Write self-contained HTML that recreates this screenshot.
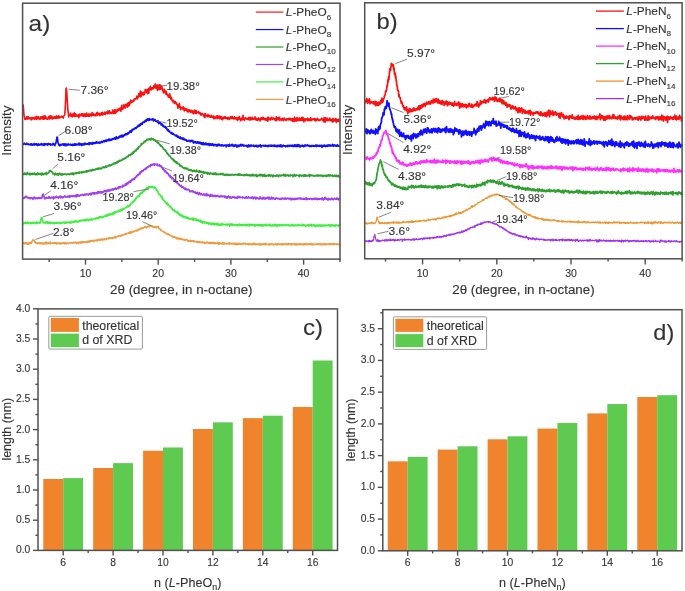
<!DOCTYPE html><html><head><meta charset="utf-8"><style>html,body{margin:0;padding:0;background:#fff;width:685px;height:591px;overflow:hidden}svg{display:block;filter:blur(0.45px)}text{font-family:"Liberation Sans", sans-serif;stroke:#333;stroke-width:0.12px}</style></head><body>
<svg width="685" height="591" viewBox="0 0 685 591">
<rect width="685" height="591" fill="#fff"/>
<polyline fill="none" stroke="#ff1010" stroke-width="1.60" stroke-linejoin="round" points="23.10,104.38 23.40,107.94 23.70,111.67 24.00,115.16 24.30,116.54 24.60,117.92 24.90,119.32 25.20,118.74 25.50,119.29 25.80,118.58 26.10,118.71 26.40,118.51 26.70,116.84 27.00,119.11 27.30,118.79 27.60,118.78 27.90,116.81 28.20,116.76 28.50,117.52 28.80,117.90 29.10,118.59 29.40,118.27 29.70,118.78 30.00,117.73 30.30,118.58 30.60,118.65 30.90,117.70 31.20,119.84 31.50,118.79 31.80,119.36 32.10,117.72 32.40,117.61 32.70,117.96 33.00,118.17 33.30,118.83 33.60,118.48 33.90,117.85 34.20,117.39 34.50,117.77 34.80,119.33 35.10,117.50 35.40,118.44 35.70,118.60 36.00,116.87 36.30,118.25 36.60,119.37 36.90,116.38 37.20,117.89 37.50,118.08 37.80,117.43 38.10,118.61 38.40,118.10 38.70,116.82 39.00,118.88 39.30,118.73 39.60,118.97 39.90,119.40 40.20,118.42 40.50,118.19 40.80,116.90 41.10,118.61 41.40,117.50 41.70,117.63 42.00,116.89 42.30,117.15 42.60,117.53 42.90,119.15 43.20,116.15 43.50,116.66 43.80,118.17 44.10,119.24 44.40,118.45 44.70,116.21 45.00,115.64 45.30,118.22 45.60,117.22 45.90,116.86 46.20,118.73 46.50,118.83 46.80,117.97 47.10,118.03 47.40,118.19 47.70,119.21 48.00,118.32 48.30,118.22 48.60,118.23 48.90,116.30 49.20,118.85 49.50,118.54 49.80,118.14 50.10,115.87 50.40,117.06 50.70,118.37 51.00,115.96 51.30,117.41 51.60,118.47 51.90,116.35 52.20,118.96 52.50,117.99 52.80,117.34 53.10,117.74 53.40,118.01 53.70,117.51 54.00,118.41 54.30,116.76 54.60,116.96 54.90,118.25 55.20,117.31 55.50,116.46 55.80,118.08 56.10,118.52 56.40,116.77 56.70,115.90 57.00,116.99 57.30,116.94 57.60,116.78 57.90,118.28 58.20,116.05 58.50,118.08 58.80,115.77 59.10,116.16 59.40,117.41 59.70,117.82 60.00,117.54 60.30,117.04 60.60,116.82 60.90,116.79 61.20,117.13 61.50,116.41 61.80,116.78 62.10,117.01 62.40,116.46 62.70,117.11 63.00,116.89 63.30,118.15 63.60,116.58 63.90,115.80 64.20,115.57 64.50,115.15 64.80,114.20 65.10,109.52 65.40,104.57 65.70,99.02 66.00,89.13 66.30,87.96 66.60,90.49 66.90,94.33 67.20,99.24 67.50,103.81 67.80,109.17 68.10,112.00 68.40,113.25 68.70,116.99 69.00,115.64 69.30,115.03 69.60,115.50 69.90,115.39 70.20,115.52 70.50,113.11 70.80,115.10 71.10,116.42 71.40,114.44 71.70,115.42 72.00,116.31 72.30,116.21 72.60,116.76 72.90,113.87 73.20,115.07 73.50,115.06 73.80,115.91 74.10,116.32 74.40,112.91 74.70,116.29 75.00,113.99 75.30,115.89 75.60,113.92 75.90,115.41 76.20,116.32 76.50,115.10 76.80,115.39 77.10,115.92 77.40,115.32 77.70,115.11 78.00,116.56 78.30,116.11 78.60,114.89 78.90,117.62 79.20,114.10 79.50,115.95 79.80,114.88 80.10,115.23 80.40,115.73 80.70,115.29 81.00,115.66 81.30,113.70 81.60,113.71 81.90,115.61 82.20,114.18 82.50,114.11 82.80,113.71 83.10,116.16 83.40,115.68 83.70,116.33 84.00,114.15 84.30,114.98 84.60,113.95 84.90,115.65 85.20,116.39 85.50,114.14 85.80,116.34 86.10,115.81 86.40,114.75 86.70,113.12 87.00,116.16 87.30,114.79 87.60,114.32 87.90,115.21 88.20,115.21 88.50,116.17 88.80,113.89 89.10,115.82 89.40,116.12 89.70,116.07 90.00,114.59 90.30,114.06 90.60,115.63 90.90,114.80 91.20,114.79 91.50,115.94 91.80,114.40 92.10,112.55 92.40,114.25 92.70,112.91 93.00,115.29 93.30,114.82 93.60,113.96 93.90,114.48 94.20,115.21 94.50,114.51 94.80,115.61 95.10,114.34 95.40,115.31 95.70,115.70 96.00,115.78 96.30,113.70 96.60,115.08 96.90,112.57 97.20,113.27 97.50,112.45 97.80,115.18 98.10,113.08 98.40,114.16 98.70,113.98 99.00,114.10 99.30,113.57 99.60,114.30 99.90,115.69 100.20,114.09 100.50,114.51 100.80,114.91 101.10,113.80 101.40,112.81 101.70,113.43 102.00,114.88 102.30,112.38 102.60,113.31 102.90,114.74 103.20,114.52 103.50,113.78 103.80,114.47 104.10,113.86 104.40,112.60 104.70,112.21 105.00,113.02 105.30,114.41 105.60,113.01 105.90,112.66 106.20,112.74 106.50,112.00 106.80,113.25 107.10,112.23 107.40,113.60 107.70,111.04 108.00,113.47 108.30,112.52 108.60,111.26 108.90,113.67 109.20,112.68 109.50,110.80 109.80,112.00 110.10,113.01 110.40,112.25 110.70,113.33 111.00,113.23 111.30,113.08 111.60,112.68 111.90,113.55 112.20,112.83 112.50,112.54 112.80,110.05 113.10,112.78 113.40,113.07 113.70,111.45 114.00,111.17 114.30,113.37 114.60,109.72 114.90,111.74 115.20,113.51 115.50,110.16 115.80,111.60 116.10,112.64 116.40,110.57 116.70,111.10 117.00,111.31 117.30,109.40 117.60,110.07 117.90,110.31 118.20,110.70 118.50,109.71 118.80,109.40 119.10,108.43 119.40,108.94 119.70,110.06 120.00,109.11 120.30,107.99 120.60,107.85 120.90,111.28 121.20,109.57 121.50,108.90 121.80,105.39 122.10,108.57 122.40,108.26 122.70,109.36 123.00,107.87 123.30,107.18 123.60,107.63 123.90,104.82 124.20,107.84 124.50,106.90 124.80,105.61 125.10,107.63 125.40,107.99 125.70,104.27 126.00,104.89 126.30,105.77 126.60,105.46 126.90,104.61 127.20,103.76 127.50,107.09 127.80,105.66 128.10,102.90 128.40,102.52 128.70,105.86 129.00,104.83 129.30,105.62 129.60,104.23 129.90,102.02 130.20,103.17 130.50,100.04 130.80,101.53 131.10,102.16 131.40,102.66 131.70,100.90 132.00,101.43 132.30,101.94 132.60,101.61 132.90,101.72 133.20,100.95 133.50,100.04 133.80,101.24 134.10,100.05 134.40,98.68 134.70,98.70 135.00,99.28 135.30,98.90 135.60,99.01 135.90,98.56 136.20,98.56 136.50,97.90 136.80,96.11 137.10,98.18 137.40,98.81 137.70,97.72 138.00,96.60 138.30,97.26 138.60,95.01 138.90,93.44 139.20,95.99 139.50,94.32 139.80,96.51 140.10,93.61 140.40,91.10 140.70,93.20 141.00,96.84 141.30,93.70 141.60,91.98 141.90,92.64 142.20,94.34 142.50,94.07 142.80,93.34 143.10,95.11 143.40,93.68 143.70,92.31 144.00,93.04 144.30,94.46 144.60,93.17 144.90,93.03 145.20,89.47 145.50,90.74 145.80,91.93 146.10,90.08 146.40,92.09 146.70,91.14 147.00,91.47 147.30,89.48 147.60,93.82 147.90,91.53 148.20,88.98 148.50,89.33 148.80,93.31 149.10,88.31 149.40,90.18 149.70,90.23 150.00,88.48 150.30,86.39 150.60,88.54 150.90,88.72 151.20,89.92 151.50,89.24 151.80,87.88 152.10,89.21 152.40,88.61 152.70,87.99 153.00,87.69 153.30,87.15 153.60,88.69 153.90,85.70 154.20,86.39 154.50,87.44 154.80,84.92 155.10,86.65 155.40,83.96 155.70,86.21 156.00,88.33 156.30,88.33 156.60,87.28 156.90,86.99 157.20,85.01 157.50,90.53 157.80,88.35 158.10,89.37 158.40,86.09 158.70,87.33 159.00,84.67 159.30,89.12 159.60,89.47 159.90,84.84 160.20,88.05 160.50,89.31 160.80,85.49 161.10,85.55 161.40,86.98 161.70,87.89 162.00,86.84 162.30,89.43 162.60,90.05 162.90,90.96 163.20,91.36 163.50,92.97 163.80,92.75 164.10,89.12 164.40,90.77 164.70,90.25 165.00,90.60 165.30,92.54 165.60,93.05 165.90,94.18 166.20,91.31 166.50,92.23 166.80,94.46 167.10,94.54 167.40,94.70 167.70,95.40 168.00,94.67 168.30,97.19 168.60,96.99 168.90,96.65 169.20,96.11 169.50,97.18 169.80,93.78 170.10,96.66 170.40,98.47 170.70,96.58 171.00,99.36 171.30,99.61 171.60,97.77 171.90,99.68 172.20,99.91 172.50,101.30 172.80,101.82 173.10,101.23 173.40,100.41 173.70,101.67 174.00,102.06 174.30,103.41 174.60,103.09 174.90,102.01 175.20,101.43 175.50,102.98 175.80,102.74 176.10,102.49 176.40,104.01 176.70,103.75 177.00,104.72 177.30,105.46 177.60,104.49 177.90,108.10 178.20,105.01 178.50,106.96 178.80,105.94 179.10,107.34 179.40,103.29 179.70,105.44 180.00,106.81 180.30,107.40 180.60,109.61 180.90,107.40 181.20,108.68 181.50,108.23 181.80,108.59 182.10,108.23 182.40,107.62 182.70,108.52 183.00,106.87 183.30,109.56 183.60,107.24 183.90,108.79 184.20,110.99 184.50,108.53 184.80,108.93 185.10,110.30 185.40,109.19 185.70,108.42 186.00,109.69 186.30,110.16 186.60,110.41 186.90,108.96 187.20,111.74 187.50,111.75 187.80,110.14 188.10,110.52 188.40,109.90 188.70,111.90 189.00,109.81 189.30,111.31 189.60,110.21 189.90,110.06 190.20,111.56 190.50,112.24 190.80,110.95 191.10,110.34 191.40,111.88 191.70,111.07 192.00,111.48 192.30,112.73 192.60,112.39 192.90,110.82 193.20,113.62 193.50,111.45 193.80,112.27 194.10,110.95 194.40,111.60 194.70,110.03 195.00,113.52 195.30,113.20 195.60,110.81 195.90,110.63 196.20,110.61 196.50,113.37 196.80,111.91 197.10,112.39 197.40,112.26 197.70,112.54 198.00,111.73 198.30,112.89 198.60,111.62 198.90,113.01 199.20,113.48 199.50,113.73 199.80,113.19 200.10,112.68 200.40,113.78 200.70,113.29 201.00,115.30 201.30,114.67 201.60,113.97 201.90,113.75 202.20,113.64 202.50,113.54 202.80,114.18 203.10,114.89 203.40,115.20 203.70,115.35 204.00,116.85 204.30,114.38 204.60,115.14 204.90,117.78 205.20,113.61 205.50,114.93 205.80,115.65 206.10,115.73 206.40,116.04 206.70,115.53 207.00,116.16 207.30,115.95 207.60,116.68 207.90,114.32 208.20,115.31 208.50,116.17 208.80,115.30 209.10,115.35 209.40,116.92 209.70,115.82 210.00,117.04 210.30,117.19 210.60,116.84 210.90,117.07 211.20,116.57 211.50,115.43 211.80,116.72 212.10,117.20 212.40,116.35 212.70,116.78 213.00,117.59 213.30,116.15 213.60,117.56 213.90,118.70 214.20,116.55 214.50,117.22 214.80,116.98 215.10,118.54 215.40,117.46 215.70,118.01 216.00,116.61 216.30,117.25 216.60,117.28 216.90,115.71 217.20,118.64 217.50,118.18 217.80,115.81 218.10,118.09 218.40,117.32 218.70,117.87 219.00,117.82 219.30,116.16 219.60,117.34 219.90,118.90 220.20,117.07 220.50,116.69 220.80,116.41 221.10,116.56 221.40,117.98 221.70,119.22 222.00,118.11 222.30,117.96 222.60,119.77 222.90,117.31 223.20,117.20 223.50,118.30 223.80,118.33 224.10,116.94 224.40,116.82 224.70,118.15 225.00,118.13 225.30,116.75 225.60,117.76 225.90,117.47 226.20,118.39 226.50,117.88 226.80,117.92 227.10,117.70 227.40,118.98 227.70,119.29 228.00,117.72 228.30,118.83 228.60,117.40 228.90,118.15 229.20,118.78 229.50,119.47 229.80,117.78 230.10,118.07 230.40,118.32 230.70,116.80 231.00,118.18 231.30,117.56 231.60,118.51 231.90,117.17 232.20,116.42 232.50,118.24 232.80,118.45 233.10,117.73 233.40,119.03 233.70,117.99 234.00,117.70 234.30,118.68 234.60,116.85 234.90,117.66 235.20,118.26 235.50,119.04 235.80,118.14 236.10,118.57 236.40,117.71 236.70,118.58 237.00,119.81 237.30,117.70 237.60,120.45 237.90,117.75 238.20,118.35 238.50,118.50 238.80,119.27 239.10,117.24 239.40,116.47 239.70,118.91 240.00,119.09 240.30,118.94 240.60,120.75 240.90,118.57 241.20,118.62 241.50,119.24 241.80,118.74 242.10,119.91 242.40,117.31 242.70,118.09 243.00,115.33 243.30,119.17 243.60,118.11 243.90,119.29 244.20,120.40 244.50,118.46 244.80,118.25 245.10,118.03 245.40,117.74 245.70,117.93 246.00,119.08 246.30,118.55 246.60,118.58 246.90,118.37 247.20,119.36 247.50,118.99 247.80,118.42 248.10,119.16 248.40,118.43 248.70,117.53 249.00,119.89 249.30,119.00 249.60,117.73 249.90,119.57 250.20,118.91 250.50,117.20 250.80,120.07 251.10,118.92 251.40,119.43 251.70,118.81 252.00,118.51 252.30,117.25 252.60,119.53 252.90,118.69 253.20,118.41 253.50,118.98 253.80,118.74 254.10,119.29 254.40,118.35 254.70,118.66 255.00,116.77 255.30,118.32 255.60,119.31 255.90,119.91 256.20,118.39 256.50,118.61 256.80,120.15 257.10,118.44 257.40,119.40 257.70,120.25 258.00,118.78 258.30,119.85 258.60,118.11 258.90,118.95 259.20,118.69 259.50,118.87 259.80,119.79 260.10,120.93 260.40,118.18 260.70,118.27 261.00,119.24 261.30,117.84 261.60,119.25 261.90,119.32 262.20,118.56 262.50,119.29 262.80,117.42 263.10,119.50 263.40,117.43 263.70,118.20 264.00,118.33 264.30,118.48 264.60,119.61 264.90,118.92 265.20,118.49 265.50,119.34 265.80,120.28 266.10,118.87 266.40,119.20 266.70,119.99 267.00,119.12 267.30,117.72 267.60,121.12 267.90,120.88 268.20,117.11 268.50,118.86 268.80,119.28 269.10,119.77 269.40,119.51 269.70,118.67 270.00,117.97 270.30,119.02 270.60,119.86 270.90,117.95 271.20,118.01 271.50,118.92 271.80,117.20 272.10,118.72 272.40,118.56 272.70,119.37 273.00,118.33 273.30,118.18 273.60,118.62 273.90,118.94 274.20,118.39 274.50,119.00 274.80,119.67 275.10,120.07 275.40,120.54 275.70,118.31 276.00,118.64 276.30,116.79 276.60,120.74 276.90,118.38 277.20,119.01 277.50,119.51 277.80,117.83 278.10,119.47 278.40,119.04 278.70,117.42 279.00,119.33 279.30,120.15 279.60,117.40 279.90,119.81 280.20,119.28 280.50,119.53 280.80,119.50 281.10,120.28 281.40,118.91 281.70,119.91 282.00,118.76 282.30,119.79 282.60,118.40 282.90,119.04 283.20,120.71 283.50,119.55 283.80,119.02 284.10,118.13 284.40,118.46 284.70,119.35 285.00,120.03 285.30,119.57 285.60,119.66 285.90,119.16 286.20,120.42 286.50,118.86 286.80,118.72 287.10,120.02 287.40,119.28 287.70,118.98 288.00,118.72 288.30,119.01 288.60,119.81 288.90,119.57 289.20,118.17 289.50,119.65 289.80,119.43 290.10,118.37 290.40,119.97 290.70,119.03 291.00,118.99 291.30,120.01 291.60,120.49 291.90,118.69 292.20,119.71 292.50,118.53 292.80,121.41 293.10,118.88 293.40,120.41 293.70,118.76 294.00,120.08 294.30,121.35 294.60,117.07 294.90,118.97 295.20,119.82 295.50,119.29 295.80,118.78 296.10,121.32 296.40,119.46 296.70,117.92 297.00,120.17 297.30,117.86 297.60,120.45 297.90,118.90 298.20,119.55 298.50,120.56 298.80,119.54 299.10,118.19 299.40,117.92 299.70,120.52 300.00,120.12 300.30,118.73 300.60,120.24 300.90,119.92 301.20,120.06 301.50,117.45 301.80,119.22 302.10,120.31 302.40,120.16 302.70,120.30 303.00,117.30 303.30,119.67 303.60,119.97 303.90,121.83 304.20,118.68 304.50,119.24 304.80,119.58 305.10,120.35 305.40,119.16 305.70,120.60 306.00,118.86 306.30,119.81 306.60,119.10 306.90,119.73 307.20,118.97 307.50,118.16 307.80,120.59 308.10,119.88 308.40,119.11 308.70,119.80 309.00,120.52 309.30,118.75 309.60,119.54 309.90,120.13 310.20,120.12 310.50,119.35 310.80,117.76 311.10,120.78 311.40,119.96 311.70,119.69 312.00,119.43 312.30,119.92 312.60,119.31 312.90,118.78 313.20,119.04 313.50,119.17 313.80,119.16 314.10,118.68 314.40,120.30 314.70,118.55 315.00,120.33 315.30,118.83 315.60,120.07 315.90,120.99 316.20,119.94 316.50,119.11 316.80,119.81 317.10,119.91 317.40,118.22 317.70,119.24 318.00,119.94 318.30,119.38 318.60,119.88 318.90,120.47 319.20,120.51 319.50,120.64 319.80,120.36 320.10,119.57 320.40,119.82 320.70,119.60 321.00,119.57 321.30,119.69 321.60,118.31 321.90,119.57 322.20,119.85 322.50,119.00 322.80,119.86 323.10,120.35 323.40,119.75 323.70,121.77 324.00,117.56 324.30,119.73 324.60,118.27 324.90,120.80 325.20,122.32 325.50,117.68 325.80,120.05 326.10,120.41 326.40,119.68 326.70,120.45 327.00,117.94 327.30,120.73 327.60,120.31 327.90,120.00 328.20,119.46 328.50,120.56 328.80,119.56 329.10,120.20 329.40,119.55 329.70,117.99 330.00,119.99 330.30,120.21 330.60,120.71 330.90,119.25 331.20,120.01 331.50,120.60 331.80,120.18 332.10,121.18 332.40,121.85 332.70,119.25 333.00,118.34 333.30,120.85 333.60,121.46 333.90,120.92 334.20,120.83 334.50,119.54 334.80,119.46 335.10,120.91 335.40,119.30 335.70,118.49 336.00,119.23 336.30,122.38 336.60,121.87 336.90,119.53 337.20,119.50 337.50,120.37 337.80,119.49 338.10,121.35 338.40,120.10 338.70,119.20 339.00,121.36 339.30,119.67 339.60,120.40 339.90,120.19"/>
<polyline fill="none" stroke="#1010ff" stroke-width="1.70" stroke-linejoin="round" points="23.10,144.05 23.40,144.37 23.70,143.86 24.00,143.29 24.30,143.11 24.60,143.58 24.90,143.84 25.20,144.21 25.50,144.25 25.80,144.50 26.10,144.28 26.40,143.83 26.70,143.87 27.00,143.17 27.30,144.15 27.60,144.48 27.90,144.50 28.20,144.18 28.50,144.15 28.80,144.71 29.10,144.25 29.40,144.61 29.70,144.54 30.00,144.35 30.30,144.90 30.60,143.97 30.90,144.07 31.20,143.85 31.50,143.86 31.80,145.04 32.10,145.14 32.40,144.27 32.70,144.55 33.00,144.85 33.30,144.67 33.60,144.87 33.90,143.64 34.20,143.95 34.50,144.50 34.80,145.00 35.10,144.33 35.40,143.85 35.70,144.11 36.00,143.95 36.30,143.86 36.60,145.04 36.90,143.98 37.20,144.30 37.50,145.38 37.80,144.89 38.10,144.47 38.40,143.99 38.70,144.51 39.00,145.12 39.30,144.62 39.60,144.94 39.90,144.36 40.20,144.57 40.50,144.21 40.80,144.53 41.10,144.97 41.40,143.61 41.70,144.29 42.00,144.45 42.30,144.04 42.60,144.18 42.90,144.73 43.20,145.34 43.50,144.65 43.80,144.50 44.10,143.57 44.40,145.31 44.70,144.39 45.00,144.33 45.30,143.79 45.60,144.33 45.90,143.81 46.20,144.40 46.50,144.60 46.80,144.38 47.10,144.51 47.40,143.95 47.70,145.09 48.00,144.05 48.30,143.47 48.60,144.29 48.90,144.01 49.20,143.89 49.50,144.22 49.80,144.54 50.10,143.81 50.40,144.34 50.70,145.12 51.00,144.75 51.30,144.34 51.60,144.49 51.90,144.37 52.20,144.41 52.50,144.80 52.80,144.40 53.10,143.25 53.40,144.44 53.70,144.01 54.00,144.79 54.30,144.17 54.60,144.55 54.90,145.57 55.20,143.96 55.50,143.87 55.80,143.43 56.10,141.98 56.40,140.23 56.70,138.89 57.00,137.21 57.30,137.33 57.60,139.31 57.90,142.28 58.20,142.98 58.50,143.95 58.80,144.61 59.10,145.23 59.40,145.55 59.70,145.11 60.00,144.67 60.30,144.70 60.60,145.52 60.90,145.34 61.20,144.47 61.50,144.86 61.80,144.78 62.10,144.67 62.40,144.40 62.70,143.99 63.00,144.39 63.30,143.89 63.60,145.28 63.90,144.94 64.20,144.08 64.50,145.38 64.80,145.13 65.10,143.74 65.40,145.62 65.70,145.10 66.00,145.73 66.30,144.09 66.60,144.97 66.90,144.92 67.20,144.81 67.50,144.79 67.80,145.24 68.10,143.96 68.40,144.09 68.70,144.01 69.00,144.43 69.30,144.40 69.60,144.89 69.90,144.83 70.20,144.71 70.50,144.36 70.80,144.47 71.10,145.16 71.40,145.07 71.70,144.73 72.00,144.51 72.30,145.45 72.60,144.37 72.90,144.98 73.20,145.23 73.50,144.51 73.80,145.05 74.10,144.07 74.40,145.13 74.70,144.72 75.00,143.81 75.30,144.93 75.60,144.14 75.90,145.22 76.20,144.23 76.50,144.48 76.80,144.69 77.10,144.37 77.40,144.65 77.70,144.24 78.00,144.84 78.30,144.49 78.60,144.58 78.90,143.08 79.20,145.03 79.50,144.45 79.80,143.52 80.10,144.45 80.40,144.62 80.70,144.90 81.00,143.81 81.30,145.10 81.60,144.23 81.90,145.49 82.20,144.20 82.50,144.60 82.80,144.05 83.10,143.66 83.40,144.74 83.70,144.63 84.00,144.92 84.30,144.56 84.60,143.83 84.90,143.26 85.20,143.74 85.50,143.71 85.80,143.62 86.10,144.29 86.40,144.14 86.70,143.82 87.00,144.01 87.30,143.83 87.60,143.98 87.90,144.23 88.20,144.30 88.50,143.45 88.80,143.01 89.10,144.45 89.40,143.77 89.70,144.23 90.00,142.83 90.30,143.45 90.60,143.60 90.90,142.83 91.20,143.26 91.50,143.84 91.80,143.99 92.10,144.21 92.40,142.94 92.70,142.63 93.00,143.56 93.30,143.73 93.60,143.31 93.90,142.52 94.20,143.52 94.50,143.48 94.80,143.32 95.10,142.75 95.40,143.10 95.70,143.30 96.00,142.58 96.30,141.89 96.60,142.92 96.90,142.95 97.20,142.67 97.50,143.05 97.80,142.26 98.10,142.46 98.40,142.30 98.70,142.68 99.00,143.14 99.30,142.16 99.60,143.26 99.90,142.94 100.20,142.51 100.50,142.35 100.80,142.88 101.10,141.85 101.40,141.82 101.70,141.29 102.00,141.99 102.30,142.37 102.60,141.90 102.90,141.78 103.20,141.41 103.50,141.53 103.80,140.67 104.10,141.84 104.40,141.04 104.70,140.63 105.00,140.74 105.30,140.63 105.60,141.40 105.90,141.44 106.20,140.16 106.50,141.24 106.80,141.15 107.10,140.34 107.40,139.82 107.70,140.12 108.00,140.11 108.30,140.53 108.60,140.11 108.90,139.20 109.20,140.26 109.50,139.30 109.80,140.45 110.10,139.32 110.40,139.50 110.70,139.35 111.00,139.43 111.30,140.27 111.60,139.97 111.90,139.77 112.20,139.54 112.50,138.53 112.80,138.96 113.10,138.86 113.40,138.57 113.70,139.23 114.00,138.51 114.30,138.44 114.60,138.18 114.90,137.59 115.20,138.82 115.50,139.10 115.80,138.42 116.10,137.75 116.40,136.79 116.70,138.13 117.00,138.55 117.30,137.98 117.60,138.19 117.90,138.36 118.20,138.08 118.50,137.19 118.80,137.83 119.10,137.58 119.40,136.31 119.70,136.76 120.00,136.14 120.30,136.68 120.60,136.90 120.90,135.96 121.20,135.35 121.50,136.90 121.80,136.32 122.10,136.74 122.40,135.22 122.70,136.28 123.00,136.65 123.30,136.49 123.60,135.24 123.90,135.34 124.20,134.99 124.50,135.43 124.80,135.30 125.10,134.68 125.40,133.81 125.70,134.70 126.00,133.94 126.30,134.34 126.60,133.99 126.90,134.51 127.20,134.10 127.50,133.14 127.80,133.36 128.10,133.89 128.40,132.55 128.70,132.85 129.00,133.04 129.30,132.87 129.60,132.31 129.90,131.19 130.20,131.01 130.50,131.56 130.80,131.43 131.10,132.30 131.40,130.39 131.70,131.18 132.00,130.78 132.30,129.35 132.60,129.57 132.90,129.85 133.20,129.31 133.50,129.27 133.80,129.37 134.10,128.53 134.40,128.96 134.70,128.20 135.00,128.04 135.30,128.37 135.60,127.61 135.90,127.83 136.20,128.28 136.50,127.28 136.80,126.98 137.10,127.21 137.40,126.44 137.70,126.95 138.00,125.56 138.30,126.29 138.60,125.51 138.90,125.14 139.20,126.21 139.50,124.67 139.80,125.75 140.10,124.98 140.40,125.13 140.70,123.67 141.00,124.52 141.30,124.40 141.60,123.39 141.90,123.16 142.20,124.24 142.50,122.89 142.80,122.37 143.10,122.06 143.40,122.38 143.70,122.12 144.00,121.84 144.30,122.41 144.60,121.19 144.90,121.41 145.20,121.72 145.50,120.32 145.80,121.18 146.10,121.43 146.40,119.71 146.70,119.71 147.00,119.63 147.30,119.13 147.60,120.19 147.90,118.96 148.20,120.07 148.50,120.49 148.80,118.91 149.10,119.52 149.40,118.69 149.70,120.02 150.00,119.24 150.30,119.47 150.60,119.63 150.90,119.88 151.20,119.44 151.50,119.64 151.80,119.39 152.10,119.76 152.40,119.15 152.70,119.82 153.00,118.88 153.30,119.67 153.60,120.95 153.90,120.11 154.20,119.53 154.50,120.39 154.80,119.88 155.10,119.65 155.40,120.23 155.70,121.10 156.00,121.06 156.30,120.96 156.60,120.70 156.90,120.78 157.20,122.16 157.50,121.78 157.80,121.36 158.10,120.97 158.40,121.52 158.70,123.64 159.00,122.02 159.30,122.76 159.60,123.11 159.90,123.13 160.20,123.28 160.50,122.96 160.80,123.34 161.10,124.95 161.40,123.96 161.70,125.00 162.00,123.98 162.30,124.93 162.60,125.45 162.90,126.09 163.20,125.27 163.50,126.38 163.80,126.53 164.10,126.23 164.40,127.10 164.70,126.67 165.00,126.98 165.30,127.62 165.60,126.53 165.90,128.09 166.20,127.91 166.50,127.95 166.80,128.74 167.10,129.61 167.40,129.30 167.70,130.42 168.00,129.49 168.30,129.69 168.60,131.40 168.90,131.10 169.20,131.65 169.50,131.03 169.80,132.12 170.10,132.10 170.40,132.55 170.70,132.49 171.00,133.32 171.30,132.63 171.60,132.69 171.90,132.65 172.20,134.18 172.50,133.44 172.80,133.49 173.10,133.73 173.40,134.17 173.70,133.94 174.00,134.62 174.30,134.62 174.60,134.84 174.90,134.80 175.20,135.47 175.50,135.38 175.80,135.83 176.10,136.06 176.40,136.26 176.70,135.15 177.00,136.13 177.30,136.15 177.60,137.09 177.90,136.06 178.20,136.63 178.50,136.98 178.80,137.09 179.10,137.89 179.40,137.30 179.70,138.13 180.00,137.03 180.30,136.98 180.60,138.61 180.90,138.34 181.20,138.48 181.50,138.41 181.80,138.70 182.10,137.96 182.40,139.15 182.70,138.52 183.00,139.39 183.30,139.04 183.60,138.12 183.90,138.57 184.20,139.88 184.50,139.35 184.80,139.32 185.10,139.74 185.40,139.50 185.70,139.54 186.00,139.95 186.30,140.07 186.60,140.84 186.90,140.20 187.20,141.20 187.50,141.25 187.80,141.29 188.10,141.05 188.40,140.66 188.70,140.74 189.00,140.68 189.30,140.46 189.60,140.86 189.90,140.65 190.20,141.86 190.50,141.37 190.80,140.94 191.10,140.27 191.40,141.26 191.70,141.14 192.00,140.87 192.30,140.90 192.60,140.40 192.90,141.86 193.20,141.60 193.50,142.97 193.80,141.72 194.10,141.71 194.40,142.56 194.70,141.96 195.00,142.03 195.30,141.81 195.60,141.74 195.90,142.85 196.20,142.65 196.50,143.06 196.80,142.08 197.10,142.32 197.40,141.92 197.70,142.90 198.00,141.77 198.30,142.81 198.60,143.13 198.90,143.34 199.20,142.23 199.50,143.31 199.80,142.47 200.10,142.51 200.40,142.29 200.70,143.60 201.00,143.91 201.30,142.85 201.60,142.84 201.90,143.11 202.20,144.60 202.50,143.92 202.80,143.21 203.10,142.65 203.40,143.28 203.70,144.27 204.00,144.68 204.30,143.67 204.60,143.52 204.90,143.67 205.20,143.04 205.50,144.50 205.80,143.56 206.10,144.68 206.40,143.35 206.70,143.62 207.00,144.44 207.30,143.96 207.60,144.78 207.90,144.43 208.20,143.88 208.50,144.81 208.80,144.96 209.10,143.61 209.40,145.51 209.70,144.88 210.00,145.04 210.30,143.76 210.60,144.35 210.90,144.56 211.20,145.30 211.50,144.05 211.80,144.36 212.10,143.81 212.40,144.73 212.70,145.04 213.00,144.04 213.30,144.61 213.60,145.17 213.90,145.73 214.20,145.28 214.50,144.81 214.80,144.39 215.10,144.53 215.40,144.67 215.70,145.09 216.00,145.01 216.30,145.88 216.60,145.20 216.90,144.53 217.20,145.85 217.50,145.56 217.80,145.15 218.10,144.75 218.40,144.19 218.70,144.62 219.00,145.60 219.30,144.76 219.60,144.51 219.90,145.28 220.20,145.31 220.50,145.51 220.80,145.54 221.10,145.93 221.40,144.82 221.70,145.74 222.00,144.77 222.30,145.62 222.60,145.37 222.90,145.42 223.20,145.79 223.50,145.31 223.80,145.88 224.10,145.77 224.40,145.41 224.70,145.07 225.00,144.99 225.30,145.11 225.60,145.28 225.90,145.38 226.20,146.89 226.50,145.73 226.80,145.80 227.10,144.99 227.40,145.08 227.70,145.28 228.00,145.54 228.30,144.93 228.60,146.27 228.90,145.18 229.20,146.01 229.50,144.31 229.80,145.48 230.10,145.63 230.40,145.59 230.70,145.81 231.00,145.65 231.30,145.60 231.60,144.58 231.90,145.17 232.20,144.36 232.50,145.85 232.80,145.70 233.10,145.45 233.40,145.14 233.70,145.27 234.00,146.49 234.30,146.43 234.60,145.54 234.90,146.22 235.20,144.79 235.50,144.62 235.80,145.35 236.10,145.16 236.40,145.32 236.70,145.70 237.00,147.12 237.30,145.28 237.60,145.64 237.90,145.75 238.20,145.60 238.50,146.09 238.80,146.51 239.10,145.01 239.40,145.71 239.70,145.50 240.00,145.82 240.30,144.88 240.60,144.77 240.90,144.49 241.20,145.92 241.50,145.75 241.80,145.70 242.10,144.48 242.40,145.48 242.70,145.29 243.00,144.96 243.30,145.22 243.60,146.03 243.90,145.95 244.20,145.67 244.50,145.94 244.80,145.39 245.10,145.73 245.40,145.72 245.70,145.98 246.00,145.67 246.30,145.63 246.60,145.64 246.90,145.39 247.20,146.83 247.50,145.97 247.80,145.93 248.10,146.87 248.40,146.43 248.70,144.95 249.00,146.08 249.30,146.15 249.60,146.68 249.90,146.40 250.20,146.13 250.50,145.16 250.80,145.31 251.10,145.88 251.40,146.00 251.70,145.24 252.00,145.56 252.30,145.56 252.60,145.79 252.90,145.93 253.20,145.62 253.50,145.15 253.80,146.39 254.10,146.57 254.40,145.72 254.70,146.29 255.00,146.00 255.30,146.11 255.60,146.02 255.90,145.40 256.20,146.07 256.50,146.29 256.80,145.34 257.10,146.78 257.40,146.84 257.70,146.71 258.00,146.79 258.30,146.17 258.60,145.63 258.90,145.50 259.20,145.40 259.50,145.87 259.80,145.79 260.10,146.15 260.40,144.80 260.70,146.97 261.00,146.95 261.30,145.80 261.60,146.16 261.90,146.06 262.20,145.96 262.50,145.72 262.80,145.76 263.10,145.41 263.40,145.92 263.70,145.82 264.00,145.99 264.30,145.40 264.60,145.85 264.90,145.86 265.20,146.14 265.50,145.30 265.80,146.05 266.10,146.33 266.40,146.14 266.70,145.66 267.00,145.60 267.30,145.72 267.60,146.21 267.90,146.62 268.20,145.77 268.50,145.52 268.80,146.03 269.10,145.95 269.40,145.39 269.70,145.48 270.00,145.80 270.30,146.19 270.60,145.25 270.90,145.34 271.20,146.10 271.50,145.24 271.80,145.91 272.10,146.03 272.40,145.80 272.70,145.35 273.00,145.83 273.30,145.69 273.60,146.03 273.90,145.44 274.20,146.40 274.50,145.02 274.80,145.77 275.10,145.86 275.40,146.34 275.70,145.56 276.00,146.13 276.30,145.58 276.60,146.23 276.90,146.73 277.20,145.66 277.50,146.08 277.80,145.40 278.10,146.35 278.40,146.47 278.70,145.88 279.00,145.30 279.30,146.07 279.60,146.44 279.90,146.41 280.20,146.27 280.50,144.95 280.80,145.53 281.10,146.58 281.40,145.25 281.70,146.43 282.00,146.81 282.30,146.25 282.60,146.43 282.90,145.70 283.20,145.25 283.50,145.81 283.80,145.77 284.10,145.84 284.40,146.21 284.70,145.79 285.00,145.96 285.30,146.08 285.60,145.86 285.90,146.79 286.20,146.09 286.50,145.91 286.80,145.76 287.10,145.55 287.40,146.54 287.70,145.94 288.00,145.32 288.30,145.58 288.60,145.80 288.90,145.64 289.20,146.41 289.50,145.28 289.80,146.11 290.10,145.93 290.40,145.27 290.70,145.89 291.00,145.81 291.30,146.11 291.60,145.64 291.90,146.01 292.20,145.03 292.50,145.32 292.80,146.25 293.10,146.38 293.40,145.85 293.70,145.56 294.00,146.40 294.30,144.81 294.60,145.46 294.90,146.19 295.20,146.18 295.50,145.34 295.80,144.91 296.10,146.58 296.40,145.93 296.70,145.41 297.00,145.88 297.30,146.30 297.60,144.56 297.90,146.41 298.20,146.22 298.50,144.81 298.80,146.24 299.10,144.96 299.40,146.42 299.70,146.05 300.00,146.97 300.30,145.54 300.60,145.85 300.90,146.37 301.20,145.53 301.50,145.49 301.80,145.66 302.10,145.81 302.40,145.30 302.70,146.09 303.00,146.11 303.30,145.88 303.60,146.69 303.90,145.68 304.20,146.49 304.50,145.57 304.80,146.22 305.10,144.87 305.40,145.94 305.70,145.75 306.00,145.59 306.30,145.53 306.60,145.66 306.90,145.47 307.20,144.74 307.50,145.54 307.80,145.56 308.10,145.57 308.40,145.30 308.70,145.76 309.00,146.22 309.30,145.70 309.60,145.58 309.90,146.51 310.20,146.32 310.50,146.29 310.80,146.40 311.10,145.66 311.40,145.76 311.70,146.38 312.00,145.55 312.30,145.76 312.60,146.01 312.90,146.01 313.20,145.68 313.50,146.31 313.80,145.73 314.10,146.18 314.40,146.35 314.70,146.15 315.00,146.19 315.30,145.24 315.60,145.16 315.90,145.51 316.20,146.05 316.50,146.57 316.80,145.20 317.10,145.97 317.40,145.39 317.70,145.45 318.00,145.67 318.30,146.16 318.60,145.92 318.90,146.40 319.20,145.32 319.50,146.26 319.80,146.27 320.10,145.84 320.40,146.05 320.70,145.53 321.00,145.26 321.30,145.60 321.60,145.49 321.90,147.25 322.20,145.56 322.50,146.63 322.80,145.91 323.10,145.96 323.40,146.18 323.70,145.41 324.00,146.26 324.30,145.99 324.60,145.05 324.90,146.10 325.20,146.08 325.50,146.03 325.80,146.59 326.10,145.59 326.40,146.06 326.70,146.17 327.00,145.35 327.30,146.40 327.60,145.07 327.90,145.15 328.20,146.06 328.50,145.25 328.80,145.74 329.10,144.98 329.40,145.83 329.70,145.23 330.00,145.97 330.30,145.03 330.60,146.02 330.90,145.66 331.20,145.83 331.50,145.76 331.80,145.86 332.10,145.14 332.40,144.51 332.70,145.81 333.00,145.33 333.30,145.57 333.60,146.01 333.90,144.80 334.20,145.42 334.50,145.49 334.80,145.27 335.10,145.96 335.40,145.73 335.70,145.39 336.00,145.31 336.30,146.20 336.60,145.47 336.90,146.09 337.20,146.02 337.50,144.85 337.80,145.26 338.10,145.80 338.40,145.97 338.70,146.19 339.00,146.20 339.30,146.32 339.60,145.61 339.90,145.69"/>
<polyline fill="none" stroke="#2ea02e" stroke-width="1.60" stroke-linejoin="round" points="23.10,174.35 23.40,173.81 23.70,174.48 24.00,173.28 24.30,174.29 24.60,173.92 24.90,173.11 25.20,174.44 25.50,174.14 25.80,174.01 26.10,173.52 26.40,173.79 26.70,174.68 27.00,173.63 27.30,172.44 27.60,173.61 27.90,173.46 28.20,173.94 28.50,173.82 28.80,173.59 29.10,173.62 29.40,174.47 29.70,173.35 30.00,174.88 30.30,173.76 30.60,173.51 30.90,174.35 31.20,174.25 31.50,173.53 31.80,174.34 32.10,173.17 32.40,173.58 32.70,174.51 33.00,173.88 33.30,173.41 33.60,174.23 33.90,174.41 34.20,173.99 34.50,173.19 34.80,173.84 35.10,174.19 35.40,174.35 35.70,174.83 36.00,173.89 36.30,173.78 36.60,173.98 36.90,174.54 37.20,173.58 37.50,174.59 37.80,172.76 38.10,174.36 38.40,173.70 38.70,174.21 39.00,174.31 39.30,173.47 39.60,173.96 39.90,174.11 40.20,174.26 40.50,173.58 40.80,173.55 41.10,173.13 41.40,175.14 41.70,173.91 42.00,173.90 42.30,173.33 42.60,174.42 42.90,173.76 43.20,174.65 43.50,174.38 43.80,174.01 44.10,174.33 44.40,173.50 44.70,173.85 45.00,173.74 45.30,173.42 45.60,174.00 45.90,173.91 46.20,174.61 46.50,172.42 46.80,173.57 47.10,173.37 47.40,173.45 47.70,173.67 48.00,173.42 48.30,172.95 48.60,172.38 48.90,172.44 49.20,172.01 49.50,170.68 49.80,171.13 50.10,170.48 50.40,170.54 50.70,171.21 51.00,171.33 51.30,171.57 51.60,171.40 51.90,172.01 52.20,172.00 52.50,172.90 52.80,173.32 53.10,174.06 53.40,174.06 53.70,173.31 54.00,173.61 54.30,173.51 54.60,174.15 54.90,174.97 55.20,174.44 55.50,173.16 55.80,173.61 56.10,173.61 56.40,174.44 56.70,174.22 57.00,174.36 57.30,175.03 57.60,173.87 57.90,173.86 58.20,175.14 58.50,174.41 58.80,173.91 59.10,173.35 59.40,173.58 59.70,173.17 60.00,174.31 60.30,174.30 60.60,174.73 60.90,174.22 61.20,173.97 61.50,173.95 61.80,175.14 62.10,173.49 62.40,174.36 62.70,174.29 63.00,174.55 63.30,174.09 63.60,174.49 63.90,174.63 64.20,174.19 64.50,174.05 64.80,174.16 65.10,173.81 65.40,174.14 65.70,174.09 66.00,174.31 66.30,174.81 66.60,174.78 66.90,173.98 67.20,174.44 67.50,174.29 67.80,174.48 68.10,174.13 68.40,174.23 68.70,173.88 69.00,173.72 69.30,174.44 69.60,174.61 69.90,174.31 70.20,174.18 70.50,174.08 70.80,173.73 71.10,173.10 71.40,174.17 71.70,173.93 72.00,173.56 72.30,173.34 72.60,174.31 72.90,172.88 73.20,174.45 73.50,173.90 73.80,174.64 74.10,173.21 74.40,173.48 74.70,173.21 75.00,173.46 75.30,173.25 75.60,172.96 75.90,173.73 76.20,172.85 76.50,172.92 76.80,173.35 77.10,172.80 77.40,172.80 77.70,173.10 78.00,172.72 78.30,172.27 78.60,172.73 78.90,172.62 79.20,173.44 79.50,172.12 79.80,173.00 80.10,172.15 80.40,172.29 80.70,172.25 81.00,172.46 81.30,172.68 81.60,173.02 81.90,171.90 82.20,172.73 82.50,172.52 82.80,172.39 83.10,171.62 83.40,172.32 83.70,171.81 84.00,171.96 84.30,171.62 84.60,171.99 84.90,172.13 85.20,172.08 85.50,171.42 85.80,171.90 86.10,172.05 86.40,170.92 86.70,171.94 87.00,170.62 87.30,171.40 87.60,171.37 87.90,171.71 88.20,171.10 88.50,170.70 88.80,170.50 89.10,170.23 89.40,171.07 89.70,170.56 90.00,170.28 90.30,170.78 90.60,170.13 90.90,170.22 91.20,170.14 91.50,171.03 91.80,170.88 92.10,170.08 92.40,169.38 92.70,170.15 93.00,169.99 93.30,170.05 93.60,170.08 93.90,169.61 94.20,170.11 94.50,170.00 94.80,169.65 95.10,169.31 95.40,169.21 95.70,169.67 96.00,168.80 96.30,169.16 96.60,168.83 96.90,168.47 97.20,169.31 97.50,168.96 97.80,168.92 98.10,169.23 98.40,168.10 98.70,168.67 99.00,168.77 99.30,168.94 99.60,168.01 99.90,168.75 100.20,168.46 100.50,168.90 100.80,168.73 101.10,168.39 101.40,169.03 101.70,167.99 102.00,167.72 102.30,167.68 102.60,167.33 102.90,167.66 103.20,166.75 103.50,167.47 103.80,167.61 104.10,167.78 104.40,167.09 104.70,167.78 105.00,166.77 105.30,166.90 105.60,166.02 105.90,166.43 106.20,166.31 106.50,167.23 106.80,166.70 107.10,165.88 107.40,166.49 107.70,166.37 108.00,165.94 108.30,165.95 108.60,165.70 108.90,165.48 109.20,164.83 109.50,165.45 109.80,165.94 110.10,165.89 110.40,165.03 110.70,164.70 111.00,164.82 111.30,165.19 111.60,164.83 111.90,164.29 112.20,164.58 112.50,164.21 112.80,164.40 113.10,163.87 113.40,163.27 113.70,163.82 114.00,163.99 114.30,163.04 114.60,163.35 114.90,163.65 115.20,162.96 115.50,162.70 115.80,163.74 116.10,163.08 116.40,163.02 116.70,162.02 117.00,163.01 117.30,161.42 117.60,161.78 117.90,162.18 118.20,162.29 118.50,161.15 118.80,161.11 119.10,161.33 119.40,160.24 119.70,161.20 120.00,161.01 120.30,160.40 120.60,160.67 120.90,160.60 121.20,160.23 121.50,160.15 121.80,160.42 122.10,159.38 122.40,159.48 122.70,159.01 123.00,159.52 123.30,158.71 123.60,158.92 123.90,158.60 124.20,158.39 124.50,158.94 124.80,157.98 125.10,158.46 125.40,158.02 125.70,158.07 126.00,157.24 126.30,157.55 126.60,157.30 126.90,156.53 127.20,156.75 127.50,156.41 127.80,156.29 128.10,156.71 128.40,155.66 128.70,155.07 129.00,154.88 129.30,155.26 129.60,154.99 129.90,155.07 130.20,155.11 130.50,155.42 130.80,154.57 131.10,154.42 131.40,153.68 131.70,154.03 132.00,154.14 132.30,153.90 132.60,152.24 132.90,153.24 133.20,153.30 133.50,152.73 133.80,151.47 134.10,151.74 134.40,151.87 134.70,151.54 135.00,150.75 135.30,150.45 135.60,150.99 135.90,149.72 136.20,150.65 136.50,149.75 136.80,149.58 137.10,148.57 137.40,148.59 137.70,148.83 138.00,147.58 138.30,148.80 138.60,146.98 138.90,146.74 139.20,146.97 139.50,146.84 139.80,146.63 140.10,145.84 140.40,145.60 140.70,145.28 141.00,144.83 141.30,143.66 141.60,144.90 141.90,144.31 142.20,143.99 142.50,143.36 142.80,143.46 143.10,143.06 143.40,142.74 143.70,142.97 144.00,141.47 144.30,142.05 144.60,141.22 144.90,141.28 145.20,141.82 145.50,140.47 145.80,140.68 146.10,140.25 146.40,140.73 146.70,139.72 147.00,139.25 147.30,140.05 147.60,139.54 147.90,139.43 148.20,139.92 148.50,138.97 148.80,139.10 149.10,139.25 149.40,139.30 149.70,138.85 150.00,139.49 150.30,139.98 150.60,138.82 150.90,139.81 151.20,138.10 151.50,139.65 151.80,138.93 152.10,139.19 152.40,139.04 152.70,138.99 153.00,138.80 153.30,139.28 153.60,140.13 153.90,140.18 154.20,139.68 154.50,139.75 154.80,139.84 155.10,139.80 155.40,141.29 155.70,141.01 156.00,141.00 156.30,140.97 156.60,140.99 156.90,142.26 157.20,142.30 157.50,141.83 157.80,142.95 158.10,142.33 158.40,143.38 158.70,142.99 159.00,143.52 159.30,144.21 159.60,144.49 159.90,145.04 160.20,144.55 160.50,145.91 160.80,146.12 161.10,145.86 161.40,146.40 161.70,146.19 162.00,146.80 162.30,146.63 162.60,147.58 162.90,147.97 163.20,148.81 163.50,148.99 163.80,149.28 164.10,149.12 164.40,149.53 164.70,149.83 165.00,150.42 165.30,149.84 165.60,151.35 165.90,150.69 166.20,151.50 166.50,152.09 166.80,152.22 167.10,153.53 167.40,153.14 167.70,154.23 168.00,154.42 168.30,154.07 168.60,154.83 168.90,155.58 169.20,155.24 169.50,155.78 169.80,155.86 170.10,156.48 170.40,156.64 170.70,157.17 171.00,157.90 171.30,158.39 171.60,158.16 171.90,158.50 172.20,159.08 172.50,158.89 172.80,158.85 173.10,160.07 173.40,159.47 173.70,160.55 174.00,160.01 174.30,161.49 174.60,160.51 174.90,161.59 175.20,162.13 175.50,161.33 175.80,162.64 176.10,161.89 176.40,161.73 176.70,163.05 177.00,163.28 177.30,163.13 177.60,162.37 177.90,163.67 178.20,163.80 178.50,164.00 178.80,164.27 179.10,163.85 179.40,164.60 179.70,165.84 180.00,165.95 180.30,165.34 180.60,165.40 180.90,166.08 181.20,166.57 181.50,166.63 181.80,166.00 182.10,166.77 182.40,166.94 182.70,167.68 183.00,167.75 183.30,167.63 183.60,168.09 183.90,167.55 184.20,168.54 184.50,167.83 184.80,168.33 185.10,168.70 185.40,168.04 185.70,168.26 186.00,167.93 186.30,168.88 186.60,168.90 186.90,168.90 187.20,169.36 187.50,168.34 187.80,169.35 188.10,169.49 188.40,169.44 188.70,169.99 189.00,170.50 189.30,169.64 189.60,169.51 189.90,169.74 190.20,170.12 190.50,170.41 190.80,169.85 191.10,170.73 191.40,169.92 191.70,170.78 192.00,170.67 192.30,170.75 192.60,171.54 192.90,170.55 193.20,170.64 193.50,170.97 193.80,171.19 194.10,170.29 194.40,171.03 194.70,170.64 195.00,171.28 195.30,171.65 195.60,171.12 195.90,171.10 196.20,171.27 196.50,169.96 196.80,171.62 197.10,171.58 197.40,171.45 197.70,171.26 198.00,171.16 198.30,171.45 198.60,172.11 198.90,171.59 199.20,172.27 199.50,170.63 199.80,171.60 200.10,171.97 200.40,171.90 200.70,171.24 201.00,171.72 201.30,172.61 201.60,171.56 201.90,171.74 202.20,171.75 202.50,172.04 202.80,172.61 203.10,172.64 203.40,171.56 203.70,173.11 204.00,172.28 204.30,172.33 204.60,173.35 204.90,172.65 205.20,172.20 205.50,172.50 205.80,172.51 206.10,172.43 206.40,172.77 206.70,173.34 207.00,173.15 207.30,172.45 207.60,174.29 207.90,172.70 208.20,173.22 208.50,173.22 208.80,173.57 209.10,173.14 209.40,173.52 209.70,174.27 210.00,173.44 210.30,172.97 210.60,173.61 210.90,173.16 211.20,173.38 211.50,173.66 211.80,173.76 212.10,173.53 212.40,174.05 212.70,173.63 213.00,173.19 213.30,174.16 213.60,173.66 213.90,174.37 214.20,173.59 214.50,174.15 214.80,174.07 215.10,172.80 215.40,173.35 215.70,173.54 216.00,174.66 216.30,173.26 216.60,174.50 216.90,174.60 217.20,174.37 217.50,174.48 217.80,173.99 218.10,174.23 218.40,174.35 218.70,174.46 219.00,174.61 219.30,174.24 219.60,174.04 219.90,174.12 220.20,174.56 220.50,173.69 220.80,173.88 221.10,174.27 221.40,174.22 221.70,174.36 222.00,173.35 222.30,174.37 222.60,174.42 222.90,174.88 223.20,173.71 223.50,174.45 223.80,174.80 224.10,174.82 224.40,175.14 224.70,175.09 225.00,174.20 225.30,174.94 225.60,174.53 225.90,174.34 226.20,175.36 226.50,174.44 226.80,174.35 227.10,174.56 227.40,174.38 227.70,175.19 228.00,174.93 228.30,175.38 228.60,174.96 228.90,174.53 229.20,175.26 229.50,174.53 229.80,174.62 230.10,174.76 230.40,174.85 230.70,175.36 231.00,174.59 231.30,175.01 231.60,174.86 231.90,174.33 232.20,174.41 232.50,174.79 232.80,175.07 233.10,175.04 233.40,175.11 233.70,174.93 234.00,174.72 234.30,175.11 234.60,174.50 234.90,174.35 235.20,174.80 235.50,174.33 235.80,174.73 236.10,174.63 236.40,174.72 236.70,174.95 237.00,174.62 237.30,174.79 237.60,174.24 237.90,175.05 238.20,174.61 238.50,175.17 238.80,173.77 239.10,174.65 239.40,175.11 239.70,173.95 240.00,174.86 240.30,175.06 240.60,175.07 240.90,174.38 241.20,175.13 241.50,175.10 241.80,174.62 242.10,175.37 242.40,175.03 242.70,175.06 243.00,174.86 243.30,175.30 243.60,175.11 243.90,175.56 244.20,175.27 244.50,174.81 244.80,174.99 245.10,175.49 245.40,174.93 245.70,175.26 246.00,175.33 246.30,175.03 246.60,174.10 246.90,175.18 247.20,175.22 247.50,175.19 247.80,174.80 248.10,175.66 248.40,175.09 248.70,174.88 249.00,174.84 249.30,175.31 249.60,174.69 249.90,174.73 250.20,176.04 250.50,175.75 250.80,175.64 251.10,175.78 251.40,175.45 251.70,174.46 252.00,175.72 252.30,175.74 252.60,175.42 252.90,174.36 253.20,175.76 253.50,175.82 253.80,175.01 254.10,175.29 254.40,175.57 254.70,175.20 255.00,175.72 255.30,175.28 255.60,175.55 255.90,175.29 256.20,174.62 256.50,174.83 256.80,176.65 257.10,175.39 257.40,175.85 257.70,175.78 258.00,176.03 258.30,175.53 258.60,175.03 258.90,175.30 259.20,174.46 259.50,175.22 259.80,175.70 260.10,174.37 260.40,175.40 260.70,175.68 261.00,175.90 261.30,174.92 261.60,175.04 261.90,174.51 262.20,174.89 262.50,175.57 262.80,176.24 263.10,174.84 263.40,175.95 263.70,175.54 264.00,175.14 264.30,176.32 264.60,174.26 264.90,175.33 265.20,175.46 265.50,176.30 265.80,176.16 266.10,176.37 266.40,175.44 266.70,175.81 267.00,175.98 267.30,175.61 267.60,175.55 267.90,175.31 268.20,175.22 268.50,174.86 268.80,176.26 269.10,175.21 269.40,174.50 269.70,175.53 270.00,175.40 270.30,175.49 270.60,176.21 270.90,175.38 271.20,175.31 271.50,175.10 271.80,175.42 272.10,175.24 272.40,175.53 272.70,176.81 273.00,175.61 273.30,175.07 273.60,176.29 273.90,175.83 274.20,175.81 274.50,175.77 274.80,175.81 275.10,175.75 275.40,176.08 275.70,175.90 276.00,176.06 276.30,175.25 276.60,175.47 276.90,175.15 277.20,175.89 277.50,175.84 277.80,175.27 278.10,175.74 278.40,176.63 278.70,176.03 279.00,175.00 279.30,175.45 279.60,175.77 279.90,175.48 280.20,175.66 280.50,176.01 280.80,175.64 281.10,175.02 281.40,175.82 281.70,175.46 282.00,175.56 282.30,175.26 282.60,174.91 282.90,174.97 283.20,175.36 283.50,175.05 283.80,174.33 284.10,176.02 284.40,175.01 284.70,175.21 285.00,175.76 285.30,174.47 285.60,176.12 285.90,175.19 286.20,175.82 286.50,175.32 286.80,175.67 287.10,175.58 287.40,175.54 287.70,174.74 288.00,174.90 288.30,175.53 288.60,176.16 288.90,175.31 289.20,175.78 289.50,175.62 289.80,175.76 290.10,175.99 290.40,174.90 290.70,175.68 291.00,175.48 291.30,175.42 291.60,175.19 291.90,175.22 292.20,175.11 292.50,175.09 292.80,176.67 293.10,176.31 293.40,175.58 293.70,175.90 294.00,175.15 294.30,174.36 294.60,174.78 294.90,175.64 295.20,176.21 295.50,175.56 295.80,175.14 296.10,175.48 296.40,175.15 296.70,174.98 297.00,175.49 297.30,175.41 297.60,175.23 297.90,175.20 298.20,175.19 298.50,175.70 298.80,176.21 299.10,175.51 299.40,176.58 299.70,174.89 300.00,175.72 300.30,175.10 300.60,175.53 300.90,175.65 301.20,175.85 301.50,176.10 301.80,175.37 302.10,175.07 302.40,175.53 302.70,175.74 303.00,175.31 303.30,176.01 303.60,176.36 303.90,174.99 304.20,175.78 304.50,176.07 304.80,174.78 305.10,175.71 305.40,175.53 305.70,175.00 306.00,176.20 306.30,175.72 306.60,175.42 306.90,175.82 307.20,175.91 307.50,175.97 307.80,175.89 308.10,175.81 308.40,175.12 308.70,175.45 309.00,175.70 309.30,174.43 309.60,176.58 309.90,175.48 310.20,175.18 310.50,174.85 310.80,175.76 311.10,175.66 311.40,175.39 311.70,175.47 312.00,175.26 312.30,175.32 312.60,175.61 312.90,175.37 313.20,175.95 313.50,175.59 313.80,175.72 314.10,175.84 314.40,176.22 314.70,175.93 315.00,175.76 315.30,175.59 315.60,175.31 315.90,175.52 316.20,175.97 316.50,175.77 316.80,175.50 317.10,175.09 317.40,175.00 317.70,175.82 318.00,176.13 318.30,175.84 318.60,175.08 318.90,175.59 319.20,175.78 319.50,175.28 319.80,175.84 320.10,175.60 320.40,175.32 320.70,175.14 321.00,176.05 321.30,175.85 321.60,175.30 321.90,175.25 322.20,176.09 322.50,175.96 322.80,175.57 323.10,176.40 323.40,175.57 323.70,175.24 324.00,176.18 324.30,175.62 324.60,175.86 324.90,175.73 325.20,175.27 325.50,175.19 325.80,175.63 326.10,176.33 326.40,175.28 326.70,176.31 327.00,175.82 327.30,175.23 327.60,175.84 327.90,175.97 328.20,175.33 328.50,174.79 328.80,175.89 329.10,175.24 329.40,175.93 329.70,174.90 330.00,175.67 330.30,175.38 330.60,175.09 330.90,175.64 331.20,175.82 331.50,175.50 331.80,175.23 332.10,175.84 332.40,174.98 332.70,175.99 333.00,175.97 333.30,176.49 333.60,176.14 333.90,175.91 334.20,175.88 334.50,175.78 334.80,175.19 335.10,176.41 335.40,176.00 335.70,175.65 336.00,175.27 336.30,176.42 336.60,176.01 336.90,175.26 337.20,176.08 337.50,176.61 337.80,175.78 338.10,175.96 338.40,175.61 338.70,175.52 339.00,176.26 339.30,177.14 339.60,175.85 339.90,175.75"/>
<polyline fill="none" stroke="#a040f0" stroke-width="1.60" stroke-linejoin="round" points="23.10,198.64 23.40,198.07 23.70,198.50 24.00,198.43 24.30,197.37 24.60,197.13 24.90,197.36 25.20,197.55 25.50,197.06 25.80,197.40 26.10,196.10 26.40,197.11 26.70,196.75 27.00,197.35 27.30,197.71 27.60,197.31 27.90,197.84 28.20,197.51 28.50,198.29 28.80,197.79 29.10,197.99 29.40,198.35 29.70,197.93 30.00,198.80 30.30,197.93 30.60,198.65 30.90,198.38 31.20,197.74 31.50,198.13 31.80,197.83 32.10,198.06 32.40,198.10 32.70,199.11 33.00,198.03 33.30,198.99 33.60,198.44 33.90,197.59 34.20,197.10 34.50,198.55 34.80,197.25 35.10,198.56 35.40,198.71 35.70,198.40 36.00,198.11 36.30,198.08 36.60,198.33 36.90,198.05 37.20,197.94 37.50,198.01 37.80,198.75 38.10,197.88 38.40,198.36 38.70,197.62 39.00,197.82 39.30,197.50 39.60,198.06 39.90,198.48 40.20,198.29 40.50,197.90 40.80,198.43 41.10,197.96 41.40,198.28 41.70,198.14 42.00,197.93 42.30,195.60 42.60,194.77 42.90,194.61 43.20,194.13 43.50,196.05 43.80,195.96 44.10,196.76 44.40,198.33 44.70,198.15 45.00,198.88 45.30,198.23 45.60,197.88 45.90,198.31 46.20,197.57 46.50,197.72 46.80,197.65 47.10,197.80 47.40,198.27 47.70,197.65 48.00,198.02 48.30,197.61 48.60,198.26 48.90,196.49 49.20,197.70 49.50,197.87 49.80,197.25 50.10,198.25 50.40,197.84 50.70,198.34 51.00,198.17 51.30,198.00 51.60,197.60 51.90,197.13 52.20,197.53 52.50,197.39 52.80,197.72 53.10,197.36 53.40,199.04 53.70,196.77 54.00,198.09 54.30,197.28 54.60,197.37 54.90,197.91 55.20,197.45 55.50,196.84 55.80,197.61 56.10,197.29 56.40,196.37 56.70,197.44 57.00,196.81 57.30,196.94 57.60,197.51 57.90,197.40 58.20,197.10 58.50,198.26 58.80,197.40 59.10,196.88 59.40,197.26 59.70,197.07 60.00,196.04 60.30,196.32 60.60,196.39 60.90,198.04 61.20,196.93 61.50,196.86 61.80,196.70 62.10,197.42 62.40,196.94 62.70,197.72 63.00,197.26 63.30,197.65 63.60,196.77 63.90,196.99 64.20,196.57 64.50,196.67 64.80,195.90 65.10,196.43 65.40,196.22 65.70,196.34 66.00,197.22 66.30,196.74 66.60,197.18 66.90,196.97 67.20,196.98 67.50,196.99 67.80,196.19 68.10,196.85 68.40,196.28 68.70,196.15 69.00,196.96 69.30,197.40 69.60,195.86 69.90,197.15 70.20,196.68 70.50,195.85 70.80,196.36 71.10,196.38 71.40,196.36 71.70,195.98 72.00,195.51 72.30,196.11 72.60,196.49 72.90,196.42 73.20,196.33 73.50,196.52 73.80,195.48 74.10,195.91 74.40,196.07 74.70,196.36 75.00,195.92 75.30,196.06 75.60,195.85 75.90,196.77 76.20,194.67 76.50,195.68 76.80,196.86 77.10,195.75 77.40,194.72 77.70,195.63 78.00,194.85 78.30,195.18 78.60,195.58 78.90,196.26 79.20,195.63 79.50,195.69 79.80,195.83 80.10,195.40 80.40,194.85 80.70,195.18 81.00,195.36 81.30,195.03 81.60,194.80 81.90,194.91 82.20,194.33 82.50,194.52 82.80,194.93 83.10,194.76 83.40,194.92 83.70,195.54 84.00,194.97 84.30,194.77 84.60,194.18 84.90,194.18 85.20,194.84 85.50,194.20 85.80,194.79 86.10,194.02 86.40,194.56 86.70,194.42 87.00,194.89 87.30,194.18 87.60,194.15 87.90,194.40 88.20,194.27 88.50,195.01 88.80,194.03 89.10,193.85 89.40,193.91 89.70,194.25 90.00,194.09 90.30,194.26 90.60,193.22 90.90,195.03 91.20,194.68 91.50,193.73 91.80,193.12 92.10,193.73 92.40,193.81 92.70,192.49 93.00,193.52 93.30,192.75 93.60,193.64 93.90,194.03 94.20,193.82 94.50,192.55 94.80,193.89 95.10,193.61 95.40,192.96 95.70,193.32 96.00,193.76 96.30,192.83 96.60,192.93 96.90,192.62 97.20,193.40 97.50,191.76 97.80,193.43 98.10,192.23 98.40,193.10 98.70,191.82 99.00,192.10 99.30,192.21 99.60,192.85 99.90,191.62 100.20,192.64 100.50,191.99 100.80,192.84 101.10,192.04 101.40,192.37 101.70,191.99 102.00,192.88 102.30,191.79 102.60,191.90 102.90,192.80 103.20,191.83 103.50,192.06 103.80,191.31 104.10,191.70 104.40,190.45 104.70,191.53 105.00,191.10 105.30,190.62 105.60,190.60 105.90,191.76 106.20,191.34 106.50,190.34 106.80,191.87 107.10,190.60 107.40,190.68 107.70,190.91 108.00,190.17 108.30,189.87 108.60,190.21 108.90,191.07 109.20,190.88 109.50,189.59 109.80,190.85 110.10,190.21 110.40,190.36 110.70,190.06 111.00,190.16 111.30,189.40 111.60,189.36 111.90,189.38 112.20,189.46 112.50,189.85 112.80,188.88 113.10,190.14 113.40,188.99 113.70,188.92 114.00,189.45 114.30,189.23 114.60,188.76 114.90,188.32 115.20,188.26 115.50,187.87 115.80,189.10 116.10,188.97 116.40,189.24 116.70,188.48 117.00,188.30 117.30,188.40 117.60,188.39 117.90,187.70 118.20,187.89 118.50,188.65 118.80,186.69 119.10,186.72 119.40,186.82 119.70,187.54 120.00,187.64 120.30,186.79 120.60,187.16 120.90,186.70 121.20,186.75 121.50,186.23 121.80,186.36 122.10,186.24 122.40,186.67 122.70,187.07 123.00,184.99 123.30,185.99 123.60,185.60 123.90,185.93 124.20,185.83 124.50,185.55 124.80,185.42 125.10,184.42 125.40,183.91 125.70,185.37 126.00,184.99 126.30,183.78 126.60,184.70 126.90,184.22 127.20,182.53 127.50,183.95 127.80,182.83 128.10,183.64 128.40,182.52 128.70,182.26 129.00,181.63 129.30,182.04 129.60,182.40 129.90,181.35 130.20,180.56 130.50,182.26 130.80,181.90 131.10,181.13 131.40,180.32 131.70,179.77 132.00,179.35 132.30,180.19 132.60,180.32 132.90,178.96 133.20,179.24 133.50,178.87 133.80,178.64 134.10,178.76 134.40,179.27 134.70,177.70 135.00,178.16 135.30,178.01 135.60,177.08 135.90,176.88 136.20,176.03 136.50,176.92 136.80,175.86 137.10,175.53 137.40,175.59 137.70,174.87 138.00,174.50 138.30,174.58 138.60,175.16 138.90,174.06 139.20,174.14 139.50,172.90 139.80,172.40 140.10,173.94 140.40,172.60 140.70,171.79 141.00,172.22 141.30,172.31 141.60,170.93 141.90,171.09 142.20,171.40 142.50,170.58 142.80,171.16 143.10,171.00 143.40,170.50 143.70,169.83 144.00,169.77 144.30,169.25 144.60,169.25 144.90,169.23 145.20,168.69 145.50,169.08 145.80,169.63 146.10,167.89 146.40,168.10 146.70,168.12 147.00,167.83 147.30,167.20 147.60,166.89 147.90,167.41 148.20,167.05 148.50,166.82 148.80,166.02 149.10,166.55 149.40,166.48 149.70,165.86 150.00,166.12 150.30,166.72 150.60,164.63 150.90,165.71 151.20,164.73 151.50,164.53 151.80,164.97 152.10,165.25 152.40,164.92 152.70,164.25 153.00,164.05 153.30,164.41 153.60,164.63 153.90,164.18 154.20,163.82 154.50,165.37 154.80,164.10 155.10,164.42 155.40,164.23 155.70,164.22 156.00,164.55 156.30,164.41 156.60,164.89 156.90,164.07 157.20,163.99 157.50,165.72 157.80,164.83 158.10,165.34 158.40,165.65 158.70,165.48 159.00,165.38 159.30,164.77 159.60,164.93 159.90,166.37 160.20,166.45 160.50,166.63 160.80,165.81 161.10,165.86 161.40,166.66 161.70,166.90 162.00,167.86 162.30,167.61 162.60,169.20 162.90,168.46 163.20,168.82 163.50,169.85 163.80,169.93 164.10,169.67 164.40,170.84 164.70,171.70 165.00,170.49 165.30,171.28 165.60,171.18 165.90,171.06 166.20,172.61 166.50,172.94 166.80,173.38 167.10,173.41 167.40,172.53 167.70,173.80 168.00,173.79 168.30,173.84 168.60,174.18 168.90,175.39 169.20,175.18 169.50,176.57 169.80,176.15 170.10,175.29 170.40,176.96 170.70,177.43 171.00,177.14 171.30,176.83 171.60,178.57 171.90,177.37 172.20,178.27 172.50,177.68 172.80,178.29 173.10,178.37 173.40,180.02 173.70,180.37 174.00,179.90 174.30,179.74 174.60,180.67 174.90,181.18 175.20,180.55 175.50,181.02 175.80,181.82 176.10,182.49 176.40,182.46 176.70,182.92 177.00,182.35 177.30,182.00 177.60,183.62 177.90,183.26 178.20,183.88 178.50,183.99 178.80,184.64 179.10,184.25 179.40,185.55 179.70,185.08 180.00,185.53 180.30,185.79 180.60,186.19 180.90,186.08 181.20,185.23 181.50,185.97 181.80,187.38 182.10,186.89 182.40,187.12 182.70,187.26 183.00,186.91 183.30,187.07 183.60,187.26 183.90,188.32 184.20,188.11 184.50,188.97 184.80,188.51 185.10,189.36 185.40,188.82 185.70,188.18 186.00,189.76 186.30,189.23 186.60,189.80 186.90,189.47 187.20,189.35 187.50,189.73 187.80,189.24 188.10,189.34 188.40,189.62 188.70,189.93 189.00,189.65 189.30,190.39 189.60,190.71 189.90,191.68 190.20,191.70 190.50,190.89 190.80,191.46 191.10,191.03 191.40,191.43 191.70,191.33 192.00,191.19 192.30,191.59 192.60,190.93 192.90,191.97 193.20,191.71 193.50,191.41 193.80,191.86 194.10,192.40 194.40,191.89 194.70,192.54 195.00,192.68 195.30,193.25 195.60,192.03 195.90,192.60 196.20,192.99 196.50,193.56 196.80,193.03 197.10,193.35 197.40,192.34 197.70,192.85 198.00,194.04 198.30,193.16 198.60,194.44 198.90,193.09 199.20,193.39 199.50,192.82 199.80,193.99 200.10,193.88 200.40,194.81 200.70,193.97 201.00,193.83 201.30,193.33 201.60,194.05 201.90,194.62 202.20,194.58 202.50,194.89 202.80,194.77 203.10,194.38 203.40,194.76 203.70,194.61 204.00,193.92 204.30,195.48 204.60,194.88 204.90,194.23 205.20,194.99 205.50,194.99 205.80,195.39 206.10,195.66 206.40,193.50 206.70,195.32 207.00,195.85 207.30,194.67 207.60,194.27 207.90,195.37 208.20,195.44 208.50,195.49 208.80,194.81 209.10,195.16 209.40,195.53 209.70,195.84 210.00,196.59 210.30,195.69 210.60,195.28 210.90,194.44 211.20,196.17 211.50,195.61 211.80,195.65 212.10,195.25 212.40,196.13 212.70,194.91 213.00,195.88 213.30,195.91 213.60,196.03 213.90,196.55 214.20,195.88 214.50,196.00 214.80,196.41 215.10,195.24 215.40,195.89 215.70,196.09 216.00,196.55 216.30,195.70 216.60,196.52 216.90,196.34 217.20,195.43 217.50,195.46 217.80,195.50 218.10,196.30 218.40,196.36 218.70,196.64 219.00,196.71 219.30,196.05 219.60,196.87 219.90,196.77 220.20,196.62 220.50,196.65 220.80,195.79 221.10,196.63 221.40,195.96 221.70,195.90 222.00,196.34 222.30,196.60 222.60,196.53 222.90,196.41 223.20,196.10 223.50,196.71 223.80,196.27 224.10,195.95 224.40,196.72 224.70,197.41 225.00,196.51 225.30,196.20 225.60,197.44 225.90,197.62 226.20,196.64 226.50,196.70 226.80,196.92 227.10,198.30 227.40,196.92 227.70,197.37 228.00,197.11 228.30,196.00 228.60,196.37 228.90,196.33 229.20,197.17 229.50,197.02 229.80,197.88 230.10,196.87 230.40,197.17 230.70,197.07 231.00,197.12 231.30,198.22 231.60,197.22 231.90,197.83 232.20,197.76 232.50,196.82 232.80,197.48 233.10,196.97 233.40,197.23 233.70,197.26 234.00,197.21 234.30,196.98 234.60,198.00 234.90,197.11 235.20,197.61 235.50,198.11 235.80,197.60 236.10,197.81 236.40,198.00 236.70,197.87 237.00,198.19 237.30,196.64 237.60,198.34 237.90,197.39 238.20,196.52 238.50,197.08 238.80,196.72 239.10,197.42 239.40,196.70 239.70,196.95 240.00,197.61 240.30,197.56 240.60,197.09 240.90,197.39 241.20,197.47 241.50,197.57 241.80,197.54 242.10,197.44 242.40,198.00 242.70,196.78 243.00,197.34 243.30,197.67 243.60,197.41 243.90,197.35 244.20,197.42 244.50,197.75 244.80,198.28 245.10,197.58 245.40,197.55 245.70,197.87 246.00,197.59 246.30,196.75 246.60,197.87 246.90,197.55 247.20,197.47 247.50,198.08 247.80,197.80 248.10,197.51 248.40,196.71 248.70,196.95 249.00,197.83 249.30,197.77 249.60,198.06 249.90,197.97 250.20,197.63 250.50,197.24 250.80,197.34 251.10,197.83 251.40,197.33 251.70,198.29 252.00,197.26 252.30,197.04 252.60,197.85 252.90,197.07 253.20,198.78 253.50,197.48 253.80,197.96 254.10,197.87 254.40,197.60 254.70,197.13 255.00,197.09 255.30,198.47 255.60,198.55 255.90,199.13 256.20,197.33 256.50,198.35 256.80,198.07 257.10,198.51 257.40,197.84 257.70,198.47 258.00,198.56 258.30,198.43 258.60,198.86 258.90,198.05 259.20,198.92 259.50,197.81 259.80,199.00 260.10,196.80 260.40,198.19 260.70,197.79 261.00,198.20 261.30,198.72 261.60,198.57 261.90,198.27 262.20,199.08 262.50,197.50 262.80,197.84 263.10,199.01 263.40,198.42 263.70,197.23 264.00,198.45 264.30,197.69 264.60,199.03 264.90,198.87 265.20,198.03 265.50,198.96 265.80,197.90 266.10,198.78 266.40,198.62 266.70,198.27 267.00,197.63 267.30,198.21 267.60,197.21 267.90,198.08 268.20,197.45 268.50,198.98 268.80,197.90 269.10,197.17 269.40,198.69 269.70,198.59 270.00,198.15 270.30,199.47 270.60,198.81 270.90,198.46 271.20,198.11 271.50,196.96 271.80,198.68 272.10,198.93 272.40,198.16 272.70,197.75 273.00,198.44 273.30,197.63 273.60,198.48 273.90,198.87 274.20,199.24 274.50,198.62 274.80,198.59 275.10,198.88 275.40,199.21 275.70,198.35 276.00,197.90 276.30,198.13 276.60,197.90 276.90,198.09 277.20,198.47 277.50,198.71 277.80,198.62 278.10,198.58 278.40,198.37 278.70,198.77 279.00,199.00 279.30,198.95 279.60,199.32 279.90,198.43 280.20,198.45 280.50,199.43 280.80,198.69 281.10,198.80 281.40,198.43 281.70,199.08 282.00,198.40 282.30,198.10 282.60,198.58 282.90,198.39 283.20,199.03 283.50,198.43 283.80,198.69 284.10,198.52 284.40,198.80 284.70,198.32 285.00,199.19 285.30,197.93 285.60,198.45 285.90,198.29 286.20,198.97 286.50,198.67 286.80,198.90 287.10,198.49 287.40,198.30 287.70,198.11 288.00,198.50 288.30,198.40 288.60,198.81 288.90,198.85 289.20,199.17 289.50,198.63 289.80,198.31 290.10,198.16 290.40,198.72 290.70,198.87 291.00,199.67 291.30,198.79 291.60,199.58 291.90,199.64 292.20,198.18 292.50,199.31 292.80,199.28 293.10,199.38 293.40,198.71 293.70,199.19 294.00,198.48 294.30,198.69 294.60,198.73 294.90,199.62 295.20,198.62 295.50,199.21 295.80,198.76 296.10,198.38 296.40,198.86 296.70,199.07 297.00,198.38 297.30,199.06 297.60,198.39 297.90,198.30 298.20,198.85 298.50,198.63 298.80,198.26 299.10,197.93 299.40,198.76 299.70,198.87 300.00,198.52 300.30,198.85 300.60,197.99 300.90,198.96 301.20,198.97 301.50,198.90 301.80,198.46 302.10,198.80 302.40,198.83 302.70,199.30 303.00,198.91 303.30,198.90 303.60,198.41 303.90,199.20 304.20,199.36 304.50,198.53 304.80,199.10 305.10,198.93 305.40,198.76 305.70,198.14 306.00,199.66 306.30,197.85 306.60,198.93 306.90,198.60 307.20,199.36 307.50,198.57 307.80,198.81 308.10,199.09 308.40,199.02 308.70,198.53 309.00,199.13 309.30,198.99 309.60,199.29 309.90,198.54 310.20,198.77 310.50,198.60 310.80,198.38 311.10,198.93 311.40,199.00 311.70,199.51 312.00,198.64 312.30,198.99 312.60,199.37 312.90,198.75 313.20,198.84 313.50,198.87 313.80,198.46 314.10,198.31 314.40,199.36 314.70,198.89 315.00,198.77 315.30,198.19 315.60,198.87 315.90,199.40 316.20,198.24 316.50,198.37 316.80,199.37 317.10,199.53 317.40,199.59 317.70,198.54 318.00,199.12 318.30,198.44 318.60,199.08 318.90,198.64 319.20,198.92 319.50,199.49 319.80,198.99 320.10,198.70 320.40,198.85 320.70,198.96 321.00,198.57 321.30,198.93 321.60,199.13 321.90,199.60 322.20,197.80 322.50,198.24 322.80,198.21 323.10,199.27 323.40,200.05 323.70,198.93 324.00,198.89 324.30,199.40 324.60,197.62 324.90,198.75 325.20,197.29 325.50,198.91 325.80,198.59 326.10,198.60 326.40,199.01 326.70,198.55 327.00,199.39 327.30,198.84 327.60,199.03 327.90,200.11 328.20,198.62 328.50,199.31 328.80,198.44 329.10,199.47 329.40,199.33 329.70,198.92 330.00,199.35 330.30,199.65 330.60,199.54 330.90,198.86 331.20,198.83 331.50,199.41 331.80,198.13 332.10,198.56 332.40,199.10 332.70,199.15 333.00,199.79 333.30,199.74 333.60,199.03 333.90,199.09 334.20,198.22 334.50,198.78 334.80,199.00 335.10,198.76 335.40,198.91 335.70,199.18 336.00,198.41 336.30,198.60 336.60,198.00 336.90,199.45 337.20,198.36 337.50,198.04 337.80,199.27 338.10,198.78 338.40,199.37 338.70,198.71 339.00,199.95 339.30,199.25 339.60,198.97 339.90,198.96"/>
<polyline fill="none" stroke="#40ee40" stroke-width="1.60" stroke-linejoin="round" points="23.10,222.90 23.40,223.35 23.70,223.88 24.00,222.80 24.30,222.50 24.60,223.25 24.90,223.46 25.20,222.31 25.50,222.67 25.80,222.53 26.10,223.22 26.40,223.19 26.70,222.64 27.00,222.46 27.30,223.26 27.60,222.04 27.90,223.24 28.20,222.88 28.50,223.80 28.80,223.39 29.10,222.69 29.40,222.82 29.70,222.82 30.00,222.62 30.30,222.97 30.60,223.36 30.90,222.26 31.20,222.83 31.50,223.59 31.80,223.26 32.10,222.56 32.40,222.56 32.70,222.54 33.00,222.20 33.30,223.42 33.60,222.94 33.90,222.60 34.20,222.27 34.50,222.73 34.80,222.67 35.10,223.66 35.40,222.69 35.70,222.95 36.00,223.37 36.30,223.19 36.60,222.81 36.90,221.92 37.20,223.50 37.50,223.14 37.80,222.68 38.10,222.83 38.40,222.45 38.70,222.47 39.00,222.21 39.30,223.08 39.60,223.08 39.90,222.86 40.20,222.90 40.50,222.15 40.80,220.63 41.10,218.33 41.40,217.43 41.70,217.44 42.00,218.05 42.30,219.76 42.60,220.46 42.90,221.32 43.20,222.93 43.50,222.40 43.80,222.88 44.10,222.72 44.40,222.81 44.70,222.68 45.00,222.56 45.30,222.01 45.60,223.64 45.90,222.88 46.20,221.94 46.50,222.39 46.80,222.29 47.10,222.46 47.40,221.66 47.70,223.04 48.00,223.51 48.30,222.67 48.60,223.11 48.90,223.05 49.20,222.23 49.50,223.32 49.80,222.04 50.10,222.53 50.40,222.63 50.70,223.34 51.00,222.84 51.30,222.74 51.60,222.44 51.90,222.84 52.20,222.82 52.50,223.12 52.80,223.42 53.10,223.13 53.40,222.81 53.70,222.74 54.00,223.52 54.30,222.90 54.60,222.81 54.90,223.61 55.20,223.51 55.50,223.07 55.80,222.77 56.10,222.54 56.40,223.29 56.70,222.62 57.00,223.25 57.30,222.48 57.60,222.87 57.90,223.00 58.20,222.89 58.50,222.93 58.80,222.99 59.10,222.33 59.40,222.33 59.70,222.75 60.00,223.61 60.30,222.76 60.60,222.40 60.90,222.51 61.20,222.82 61.50,223.32 61.80,222.54 62.10,223.03 62.40,222.86 62.70,222.62 63.00,222.35 63.30,222.69 63.60,222.43 63.90,222.98 64.20,221.96 64.50,223.22 64.80,223.04 65.10,222.95 65.40,223.34 65.70,222.94 66.00,221.91 66.30,222.67 66.60,222.83 66.90,222.31 67.20,222.10 67.50,222.77 67.80,222.79 68.10,222.35 68.40,222.42 68.70,222.28 69.00,222.23 69.30,222.43 69.60,222.90 69.90,221.70 70.20,222.23 70.50,223.06 70.80,222.46 71.10,222.36 71.40,222.63 71.70,221.79 72.00,221.66 72.30,221.42 72.60,221.47 72.90,222.18 73.20,222.40 73.50,221.80 73.80,221.64 74.10,222.07 74.40,222.12 74.70,221.91 75.00,220.91 75.30,221.46 75.60,220.54 75.90,221.71 76.20,221.18 76.50,221.21 76.80,222.10 77.10,221.97 77.40,221.55 77.70,221.41 78.00,221.31 78.30,220.93 78.60,221.11 78.90,221.92 79.20,220.64 79.50,220.68 79.80,220.99 80.10,221.26 80.40,221.19 80.70,220.35 81.00,220.67 81.30,220.56 81.60,220.09 81.90,220.62 82.20,220.33 82.50,220.90 82.80,220.64 83.10,220.07 83.40,220.40 83.70,220.17 84.00,220.00 84.30,220.03 84.60,220.67 84.90,219.98 85.20,219.37 85.50,219.74 85.80,220.39 86.10,220.94 86.40,219.49 86.70,219.76 87.00,219.73 87.30,219.22 87.60,219.97 87.90,219.73 88.20,219.83 88.50,220.64 88.80,219.50 89.10,219.92 89.40,219.90 89.70,219.21 90.00,219.18 90.30,220.08 90.60,219.66 90.90,219.36 91.20,218.77 91.50,219.59 91.80,219.38 92.10,220.06 92.40,219.69 92.70,219.34 93.00,219.05 93.30,218.91 93.60,218.58 93.90,218.90 94.20,218.81 94.50,218.92 94.80,219.05 95.10,218.65 95.40,218.21 95.70,218.74 96.00,219.00 96.30,217.89 96.60,218.38 96.90,218.37 97.20,218.30 97.50,218.21 97.80,217.89 98.10,217.81 98.40,218.52 98.70,218.47 99.00,217.03 99.30,216.46 99.60,217.69 99.90,217.13 100.20,217.12 100.50,216.58 100.80,217.35 101.10,217.10 101.40,216.81 101.70,217.36 102.00,217.95 102.30,217.45 102.60,217.24 102.90,216.46 103.20,216.85 103.50,216.46 103.80,216.90 104.10,216.56 104.40,216.21 104.70,216.38 105.00,215.73 105.30,216.31 105.60,216.53 105.90,215.62 106.20,215.93 106.50,214.87 106.80,215.92 107.10,215.80 107.40,214.87 107.70,215.99 108.00,215.18 108.30,214.28 108.60,214.34 108.90,215.22 109.20,214.63 109.50,215.13 109.80,213.87 110.10,214.40 110.40,214.77 110.70,213.95 111.00,214.44 111.30,213.88 111.60,214.08 111.90,213.97 112.20,214.70 112.50,213.07 112.80,213.85 113.10,213.97 113.40,212.79 113.70,213.21 114.00,214.07 114.30,213.41 114.60,211.53 114.90,212.61 115.20,211.85 115.50,212.61 115.80,212.04 116.10,211.99 116.40,211.75 116.70,212.12 117.00,211.66 117.30,211.35 117.60,211.52 117.90,211.66 118.20,210.98 118.50,211.71 118.80,210.37 119.10,211.14 119.40,210.65 119.70,211.38 120.00,210.27 120.30,210.12 120.60,209.68 120.90,211.00 121.20,210.26 121.50,209.37 121.80,209.55 122.10,209.13 122.40,210.07 122.70,209.43 123.00,208.21 123.30,209.04 123.60,209.19 123.90,208.64 124.20,208.69 124.50,208.27 124.80,208.25 125.10,208.09 125.40,207.53 125.70,207.82 126.00,207.58 126.30,207.32 126.60,206.87 126.90,206.56 127.20,206.94 127.50,207.02 127.80,205.44 128.10,206.09 128.40,206.73 128.70,206.36 129.00,205.45 129.30,206.14 129.60,204.89 129.90,204.74 130.20,205.67 130.50,204.36 130.80,204.17 131.10,203.25 131.40,203.23 131.70,202.84 132.00,202.97 132.30,201.90 132.60,202.84 132.90,201.88 133.20,201.43 133.50,201.08 133.80,201.34 134.10,201.34 134.40,200.16 134.70,200.70 135.00,200.37 135.30,199.92 135.60,199.15 135.90,198.05 136.20,198.68 136.50,197.90 136.80,197.86 137.10,196.64 137.40,197.03 137.70,196.95 138.00,196.13 138.30,196.36 138.60,196.66 138.90,195.73 139.20,195.03 139.50,196.07 139.80,193.79 140.10,194.03 140.40,194.32 140.70,193.59 141.00,192.56 141.30,193.39 141.60,193.35 141.90,192.36 142.20,193.06 142.50,192.35 142.80,192.36 143.10,190.88 143.40,191.26 143.70,191.67 144.00,191.57 144.30,190.98 144.60,190.13 144.90,189.95 145.20,189.34 145.50,189.85 145.80,188.83 146.10,188.98 146.40,187.82 146.70,187.88 147.00,189.15 147.30,188.24 147.60,188.16 147.90,186.96 148.20,187.78 148.50,188.58 148.80,186.91 149.10,186.43 149.40,187.32 149.70,187.08 150.00,187.16 150.30,186.64 150.60,186.56 150.90,186.58 151.20,187.39 151.50,187.07 151.80,187.45 152.10,186.61 152.40,187.35 152.70,186.92 153.00,187.19 153.30,187.62 153.60,187.30 153.90,187.24 154.20,186.81 154.50,187.74 154.80,188.27 155.10,187.90 155.40,188.44 155.70,188.02 156.00,188.58 156.30,189.73 156.60,190.54 156.90,190.27 157.20,190.13 157.50,191.16 157.80,191.11 158.10,192.15 158.40,193.59 158.70,193.33 159.00,193.58 159.30,194.54 159.60,194.33 159.90,195.05 160.20,195.40 160.50,195.91 160.80,195.48 161.10,196.85 161.40,197.33 161.70,196.34 162.00,196.56 162.30,197.76 162.60,199.22 162.90,198.97 163.20,199.65 163.50,199.99 163.80,200.52 164.10,200.23 164.40,200.62 164.70,201.42 165.00,201.88 165.30,202.22 165.60,202.46 165.90,202.44 166.20,203.48 166.50,203.53 166.80,204.11 167.10,202.84 167.40,204.72 167.70,203.51 168.00,204.99 168.30,204.90 168.60,205.54 168.90,205.57 169.20,205.93 169.50,206.44 169.80,206.79 170.10,206.57 170.40,206.08 170.70,207.13 171.00,207.99 171.30,207.65 171.60,208.48 171.90,208.39 172.20,208.40 172.50,209.60 172.80,210.07 173.10,209.54 173.40,209.82 173.70,210.51 174.00,209.74 174.30,210.19 174.60,211.32 174.90,211.45 175.20,211.06 175.50,211.16 175.80,211.89 176.10,211.34 176.40,211.96 176.70,212.30 177.00,211.52 177.30,213.09 177.60,213.38 177.90,213.72 178.20,212.82 178.50,213.09 178.80,213.51 179.10,213.49 179.40,215.19 179.70,214.04 180.00,214.53 180.30,214.95 180.60,215.25 180.90,215.87 181.20,214.92 181.50,215.97 181.80,215.81 182.10,215.39 182.40,216.13 182.70,215.59 183.00,217.08 183.30,216.17 183.60,217.08 183.90,217.33 184.20,216.59 184.50,216.57 184.80,217.13 185.10,216.70 185.40,217.66 185.70,217.42 186.00,217.08 186.30,217.19 186.60,217.89 186.90,216.99 187.20,218.47 187.50,217.43 187.80,217.76 188.10,217.51 188.40,218.72 188.70,218.44 189.00,218.73 189.30,218.52 189.60,218.35 189.90,219.15 190.20,218.76 190.50,218.74 190.80,218.88 191.10,219.03 191.40,218.90 191.70,218.77 192.00,218.21 192.30,219.92 192.60,218.49 192.90,218.18 193.20,218.90 193.50,220.16 193.80,219.92 194.10,219.17 194.40,219.64 194.70,219.58 195.00,218.77 195.30,219.59 195.60,219.94 195.90,220.41 196.20,219.42 196.50,219.02 196.80,219.40 197.10,220.33 197.40,220.30 197.70,220.41 198.00,220.48 198.30,220.33 198.60,219.96 198.90,220.86 199.20,220.91 199.50,221.08 199.80,221.46 200.10,220.44 200.40,220.03 200.70,220.37 201.00,222.22 201.30,220.94 201.60,221.62 201.90,221.53 202.20,221.96 202.50,223.16 202.80,221.58 203.10,221.83 203.40,221.73 203.70,222.20 204.00,222.41 204.30,221.82 204.60,222.94 204.90,222.95 205.20,222.71 205.50,222.54 205.80,222.57 206.10,222.01 206.40,223.12 206.70,222.45 207.00,222.73 207.30,223.47 207.60,222.67 207.90,222.90 208.20,223.58 208.50,224.08 208.80,222.99 209.10,223.84 209.40,223.10 209.70,223.61 210.00,223.70 210.30,223.02 210.60,224.03 210.90,224.42 211.20,223.67 211.50,223.81 211.80,223.19 212.10,224.56 212.40,223.82 212.70,223.25 213.00,224.20 213.30,223.23 213.60,223.60 213.90,222.98 214.20,224.59 214.50,224.99 214.80,223.73 215.10,223.75 215.40,223.81 215.70,223.84 216.00,224.36 216.30,224.79 216.60,223.70 216.90,224.38 217.20,223.39 217.50,224.91 217.80,224.20 218.10,223.94 218.40,224.97 218.70,224.25 219.00,224.93 219.30,224.82 219.60,225.10 219.90,224.01 220.20,224.41 220.50,224.57 220.80,224.34 221.10,225.13 221.40,224.14 221.70,224.93 222.00,225.10 222.30,223.63 222.60,224.08 222.90,224.13 223.20,224.30 223.50,224.74 223.80,224.50 224.10,224.62 224.40,224.39 224.70,224.57 225.00,224.84 225.30,224.97 225.60,224.29 225.90,224.60 226.20,224.32 226.50,224.59 226.80,224.04 227.10,225.12 227.40,225.00 227.70,224.65 228.00,224.41 228.30,224.52 228.60,224.43 228.90,224.04 229.20,225.48 229.50,226.23 229.80,224.20 230.10,224.23 230.40,225.02 230.70,225.04 231.00,224.07 231.30,223.91 231.60,225.03 231.90,223.89 232.20,225.43 232.50,224.57 232.80,224.84 233.10,224.80 233.40,224.55 233.70,224.74 234.00,224.68 234.30,225.37 234.60,224.78 234.90,224.81 235.20,224.58 235.50,224.54 235.80,224.49 236.10,224.83 236.40,225.66 236.70,225.33 237.00,224.94 237.30,225.59 237.60,225.29 237.90,224.93 238.20,224.77 238.50,224.35 238.80,224.96 239.10,224.70 239.40,224.13 239.70,224.27 240.00,225.72 240.30,224.95 240.60,225.08 240.90,224.95 241.20,224.65 241.50,225.07 241.80,225.35 242.10,224.73 242.40,225.10 242.70,225.33 243.00,224.65 243.30,224.95 243.60,224.54 243.90,225.15 244.20,224.72 244.50,225.40 244.80,224.54 245.10,225.65 245.40,224.76 245.70,224.52 246.00,224.50 246.30,225.20 246.60,224.53 246.90,225.73 247.20,225.50 247.50,225.15 247.80,224.29 248.10,224.92 248.40,224.61 248.70,224.12 249.00,225.13 249.30,225.93 249.60,224.71 249.90,225.32 250.20,225.53 250.50,224.53 250.80,224.81 251.10,225.09 251.40,225.18 251.70,224.46 252.00,225.07 252.30,224.93 252.60,225.41 252.90,224.27 253.20,224.74 253.50,224.77 253.80,224.85 254.10,225.32 254.40,224.72 254.70,226.24 255.00,224.69 255.30,225.39 255.60,225.47 255.90,225.45 256.20,224.93 256.50,224.65 256.80,224.91 257.10,225.33 257.40,225.09 257.70,225.30 258.00,225.30 258.30,224.64 258.60,224.62 258.90,225.70 259.20,224.83 259.50,224.34 259.80,225.89 260.10,224.68 260.40,224.64 260.70,225.50 261.00,224.56 261.30,224.68 261.60,225.55 261.90,224.71 262.20,226.21 262.50,225.13 262.80,226.29 263.10,225.15 263.40,225.11 263.70,224.80 264.00,224.99 264.30,224.87 264.60,225.09 264.90,225.45 265.20,224.53 265.50,224.69 265.80,224.17 266.10,225.79 266.40,225.08 266.70,225.11 267.00,225.09 267.30,225.57 267.60,225.27 267.90,225.51 268.20,225.05 268.50,225.08 268.80,225.11 269.10,224.30 269.40,225.63 269.70,224.43 270.00,224.70 270.30,225.45 270.60,225.17 270.90,225.52 271.20,225.92 271.50,225.99 271.80,225.78 272.10,225.06 272.40,226.08 272.70,224.77 273.00,225.13 273.30,225.62 273.60,225.07 273.90,225.12 274.20,225.01 274.50,225.79 274.80,224.07 275.10,225.75 275.40,225.66 275.70,225.15 276.00,225.44 276.30,224.75 276.60,225.69 276.90,226.57 277.20,224.78 277.50,225.82 277.80,225.17 278.10,225.05 278.40,224.98 278.70,225.12 279.00,224.64 279.30,224.60 279.60,225.96 279.90,225.20 280.20,225.46 280.50,225.35 280.80,225.43 281.10,224.53 281.40,224.79 281.70,225.51 282.00,225.67 282.30,224.71 282.60,224.97 282.90,224.75 283.20,225.52 283.50,225.39 283.80,225.25 284.10,224.94 284.40,225.39 284.70,225.25 285.00,224.90 285.30,225.39 285.60,224.94 285.90,225.67 286.20,225.53 286.50,224.94 286.80,225.51 287.10,225.28 287.40,224.93 287.70,224.84 288.00,224.51 288.30,224.75 288.60,225.41 288.90,225.80 289.20,224.98 289.50,225.33 289.80,225.42 290.10,225.62 290.40,225.47 290.70,225.82 291.00,225.61 291.30,224.93 291.60,225.45 291.90,224.22 292.20,225.19 292.50,225.29 292.80,225.54 293.10,225.14 293.40,225.66 293.70,225.88 294.00,224.91 294.30,225.04 294.60,225.40 294.90,225.51 295.20,225.35 295.50,225.66 295.80,224.76 296.10,225.64 296.40,225.82 296.70,225.80 297.00,225.49 297.30,225.19 297.60,225.48 297.90,225.27 298.20,224.59 298.50,225.03 298.80,225.29 299.10,225.07 299.40,224.89 299.70,225.20 300.00,225.14 300.30,225.34 300.60,225.29 300.90,225.39 301.20,225.76 301.50,225.38 301.80,225.50 302.10,224.77 302.40,223.99 302.70,225.14 303.00,225.63 303.30,225.17 303.60,225.05 303.90,224.77 304.20,225.73 304.50,225.09 304.80,225.44 305.10,225.84 305.40,225.57 305.70,226.34 306.00,225.28 306.30,225.77 306.60,225.65 306.90,225.04 307.20,225.36 307.50,225.09 307.80,224.88 308.10,225.48 308.40,225.00 308.70,226.10 309.00,225.02 309.30,225.10 309.60,225.39 309.90,225.12 310.20,225.38 310.50,225.08 310.80,224.72 311.10,224.27 311.40,224.78 311.70,226.04 312.00,225.56 312.30,225.43 312.60,225.15 312.90,225.30 313.20,225.50 313.50,224.74 313.80,225.01 314.10,224.97 314.40,225.94 314.70,224.90 315.00,225.90 315.30,225.17 315.60,226.60 315.90,225.34 316.20,225.39 316.50,225.99 316.80,225.78 317.10,225.81 317.40,224.90 317.70,225.90 318.00,226.14 318.30,225.34 318.60,225.17 318.90,224.90 319.20,225.85 319.50,225.53 319.80,225.40 320.10,224.84 320.40,226.13 320.70,225.79 321.00,225.39 321.30,226.07 321.60,224.97 321.90,225.80 322.20,224.96 322.50,226.04 322.80,225.28 323.10,225.96 323.40,225.22 323.70,225.59 324.00,225.93 324.30,225.01 324.60,225.46 324.90,225.04 325.20,225.80 325.50,225.15 325.80,225.25 326.10,225.33 326.40,225.95 326.70,224.96 327.00,225.42 327.30,225.28 327.60,225.18 327.90,225.08 328.20,225.36 328.50,225.52 328.80,224.74 329.10,225.54 329.40,224.91 329.70,225.45 330.00,226.47 330.30,225.01 330.60,225.42 330.90,225.33 331.20,225.89 331.50,225.24 331.80,224.65 332.10,224.73 332.40,225.54 332.70,225.57 333.00,225.94 333.30,225.22 333.60,225.76 333.90,224.99 334.20,226.05 334.50,225.44 334.80,225.16 335.10,225.55 335.40,226.26 335.70,225.09 336.00,224.92 336.30,225.02 336.60,224.96 336.90,225.46 337.20,225.64 337.50,225.41 337.80,225.58 338.10,226.02 338.40,225.36 338.70,224.93 339.00,224.47 339.30,225.61 339.60,225.19 339.90,225.39"/>
<polyline fill="none" stroke="#ee9a40" stroke-width="1.50" stroke-linejoin="round" points="23.10,243.46 23.40,243.48 23.70,242.67 24.00,242.91 24.30,243.32 24.60,243.23 24.90,243.75 25.20,243.09 25.50,242.46 25.80,243.75 26.10,242.63 26.40,242.89 26.70,243.44 27.00,242.86 27.30,244.27 27.60,243.37 27.90,243.49 28.20,243.10 28.50,244.16 28.80,243.49 29.10,242.98 29.40,243.76 29.70,242.58 30.00,242.99 30.30,243.29 30.60,243.14 30.90,242.54 31.20,243.29 31.50,242.87 31.80,241.43 32.10,241.40 32.40,240.44 32.70,240.07 33.00,240.38 33.30,240.02 33.60,240.07 33.90,240.42 34.20,240.27 34.50,241.63 34.80,241.27 35.10,242.48 35.40,242.12 35.70,242.40 36.00,243.40 36.30,243.04 36.60,242.81 36.90,242.92 37.20,243.42 37.50,243.95 37.80,243.46 38.10,243.07 38.40,242.78 38.70,242.96 39.00,243.18 39.30,243.32 39.60,242.96 39.90,243.73 40.20,242.84 40.50,242.93 40.80,243.42 41.10,243.41 41.40,243.06 41.70,243.60 42.00,242.65 42.30,243.87 42.60,244.08 42.90,243.99 43.20,243.26 43.50,243.99 43.80,243.23 44.10,243.74 44.40,243.12 44.70,243.28 45.00,243.41 45.30,242.50 45.60,243.11 45.90,243.88 46.20,242.03 46.50,243.35 46.80,243.56 47.10,243.33 47.40,243.27 47.70,243.75 48.00,243.33 48.30,242.44 48.60,242.82 48.90,243.08 49.20,243.26 49.50,243.02 49.80,243.16 50.10,243.87 50.40,242.03 50.70,243.67 51.00,243.58 51.30,243.45 51.60,243.22 51.90,243.24 52.20,243.36 52.50,243.32 52.80,242.93 53.10,243.54 53.40,242.90 53.70,243.21 54.00,243.09 54.30,242.77 54.60,243.48 54.90,243.21 55.20,242.77 55.50,243.21 55.80,242.69 56.10,243.82 56.40,243.45 56.70,244.04 57.00,243.02 57.30,243.53 57.60,242.86 57.90,242.91 58.20,243.22 58.50,243.42 58.80,243.62 59.10,243.15 59.40,243.69 59.70,243.64 60.00,242.91 60.30,243.18 60.60,242.89 60.90,243.93 61.20,243.03 61.50,243.60 61.80,243.62 62.10,243.15 62.40,243.05 62.70,243.38 63.00,242.93 63.30,242.74 63.60,242.85 63.90,243.37 64.20,243.31 64.50,243.93 64.80,242.50 65.10,243.42 65.40,242.76 65.70,243.67 66.00,243.48 66.30,243.25 66.60,243.78 66.90,243.04 67.20,242.97 67.50,242.76 67.80,242.91 68.10,243.21 68.40,243.42 68.70,243.65 69.00,243.03 69.30,242.83 69.60,242.98 69.90,242.93 70.20,242.91 70.50,242.92 70.80,242.72 71.10,243.04 71.40,242.84 71.70,242.96 72.00,242.47 72.30,243.06 72.60,243.22 72.90,243.23 73.20,242.74 73.50,242.49 73.80,242.41 74.10,242.44 74.40,242.64 74.70,242.75 75.00,242.15 75.30,243.10 75.60,242.21 75.90,242.52 76.20,242.49 76.50,243.08 76.80,243.46 77.10,242.57 77.40,242.58 77.70,242.51 78.00,242.56 78.30,242.55 78.60,243.57 78.90,242.14 79.20,242.50 79.50,242.20 79.80,242.63 80.10,242.26 80.40,242.66 80.70,241.98 81.00,243.22 81.30,242.43 81.60,241.62 81.90,242.57 82.20,242.07 82.50,241.77 82.80,242.37 83.10,241.96 83.40,242.42 83.70,241.87 84.00,242.41 84.30,242.08 84.60,242.12 84.90,242.01 85.20,241.76 85.50,241.72 85.80,242.00 86.10,242.07 86.40,241.58 86.70,242.59 87.00,242.33 87.30,241.17 87.60,242.01 87.90,241.51 88.20,241.58 88.50,241.14 88.80,242.06 89.10,241.04 89.40,241.29 89.70,240.99 90.00,242.00 90.30,241.68 90.60,240.62 90.90,240.92 91.20,241.20 91.50,240.84 91.80,240.83 92.10,240.50 92.40,240.98 92.70,240.41 93.00,241.13 93.30,241.70 93.60,240.59 93.90,241.32 94.20,240.78 94.50,240.33 94.80,240.41 95.10,240.13 95.40,240.51 95.70,240.70 96.00,240.75 96.30,240.24 96.60,239.83 96.90,240.24 97.20,240.89 97.50,240.30 97.80,240.12 98.10,239.29 98.40,239.89 98.70,240.24 99.00,239.61 99.30,240.47 99.60,239.68 99.90,239.52 100.20,239.59 100.50,239.74 100.80,240.13 101.10,239.47 101.40,238.94 101.70,239.57 102.00,239.76 102.30,240.12 102.60,239.03 102.90,240.01 103.20,239.64 103.50,239.51 103.80,238.98 104.10,238.89 104.40,238.81 104.70,239.50 105.00,239.17 105.30,239.45 105.60,239.70 105.90,238.94 106.20,238.86 106.50,239.58 106.80,238.26 107.10,238.55 107.40,238.52 107.70,238.47 108.00,238.62 108.30,238.18 108.60,238.92 108.90,237.87 109.20,238.03 109.50,237.63 109.80,237.69 110.10,238.42 110.40,238.38 110.70,238.00 111.00,238.35 111.30,238.20 111.60,237.67 111.90,237.83 112.20,237.92 112.50,238.51 112.80,237.48 113.10,237.74 113.40,237.75 113.70,237.95 114.00,237.57 114.30,237.76 114.60,236.85 114.90,237.10 115.20,236.38 115.50,237.05 115.80,237.91 116.10,237.02 116.40,236.89 116.70,236.88 117.00,236.76 117.30,236.11 117.60,236.28 117.90,236.40 118.20,236.45 118.50,235.97 118.80,236.17 119.10,235.84 119.40,235.52 119.70,235.70 120.00,235.54 120.30,236.10 120.60,236.20 120.90,235.81 121.20,235.40 121.50,235.17 121.80,234.67 122.10,234.98 122.40,235.70 122.70,235.44 123.00,234.98 123.30,234.70 123.60,234.69 123.90,234.76 124.20,234.49 124.50,234.56 124.80,233.99 125.10,234.21 125.40,233.95 125.70,234.41 126.00,233.40 126.30,234.30 126.60,233.66 126.90,233.41 127.20,233.51 127.50,233.46 127.80,233.22 128.10,233.38 128.40,232.89 128.70,232.36 129.00,233.19 129.30,232.82 129.60,233.38 129.90,232.79 130.20,231.75 130.50,232.93 130.80,232.09 131.10,232.48 131.40,233.05 131.70,232.52 132.00,231.58 132.30,231.89 132.60,231.21 132.90,232.02 133.20,231.89 133.50,231.18 133.80,231.67 134.10,231.76 134.40,231.62 134.70,230.95 135.00,230.84 135.30,230.58 135.60,230.40 135.90,230.93 136.20,230.70 136.50,231.08 136.80,230.56 137.10,230.20 137.40,229.64 137.70,230.67 138.00,230.00 138.30,229.79 138.60,229.27 138.90,229.12 139.20,229.64 139.50,228.88 139.80,229.35 140.10,229.24 140.40,228.71 140.70,228.10 141.00,228.77 141.30,229.04 141.60,228.05 141.90,227.78 142.20,228.58 142.50,228.11 142.80,227.70 143.10,228.32 143.40,227.62 143.70,227.81 144.00,227.37 144.30,227.14 144.60,227.42 144.90,226.91 145.20,226.45 145.50,226.86 145.80,227.46 146.10,227.33 146.40,227.67 146.70,227.13 147.00,227.30 147.30,226.70 147.60,226.37 147.90,226.67 148.20,226.05 148.50,226.66 148.80,226.15 149.10,226.39 149.40,225.91 149.70,226.17 150.00,226.58 150.30,226.10 150.60,225.91 150.90,226.29 151.20,226.54 151.50,226.15 151.80,225.81 152.10,225.73 152.40,225.89 152.70,226.92 153.00,226.56 153.30,226.88 153.60,227.21 153.90,227.00 154.20,227.15 154.50,226.84 154.80,226.45 155.10,227.36 155.40,227.07 155.70,227.31 156.00,226.62 156.30,226.94 156.60,227.75 156.90,226.62 157.20,226.99 157.50,227.51 157.80,227.01 158.10,227.31 158.40,226.63 158.70,228.01 159.00,227.80 159.30,228.77 159.60,228.54 159.90,228.73 160.20,229.34 160.50,229.36 160.80,229.50 161.10,230.54 161.40,230.55 161.70,230.44 162.00,230.94 162.30,231.17 162.60,231.29 162.90,231.30 163.20,231.52 163.50,231.87 163.80,232.13 164.10,232.25 164.40,232.09 164.70,232.48 165.00,232.87 165.30,232.50 165.60,233.06 165.90,233.53 166.20,233.48 166.50,233.48 166.80,233.74 167.10,233.73 167.40,234.46 167.70,234.09 168.00,233.73 168.30,234.08 168.60,234.80 168.90,234.92 169.20,234.79 169.50,234.62 169.80,235.20 170.10,235.07 170.40,235.27 170.70,235.66 171.00,235.49 171.30,236.04 171.60,235.75 171.90,235.99 172.20,236.20 172.50,236.97 172.80,237.13 173.10,236.99 173.40,236.44 173.70,236.84 174.00,237.30 174.30,237.36 174.60,236.50 174.90,237.22 175.20,237.04 175.50,237.72 175.80,237.77 176.10,237.41 176.40,238.54 176.70,237.69 177.00,238.84 177.30,237.91 177.60,238.03 177.90,238.88 178.20,238.02 178.50,238.14 178.80,238.97 179.10,238.47 179.40,238.74 179.70,238.16 180.00,239.41 180.30,239.17 180.60,239.00 180.90,239.21 181.20,238.81 181.50,238.91 181.80,238.54 182.10,239.37 182.40,239.78 182.70,239.70 183.00,239.79 183.30,239.78 183.60,239.21 183.90,239.14 184.20,239.95 184.50,239.84 184.80,240.22 185.10,239.80 185.40,239.62 185.70,240.21 186.00,239.88 186.30,239.54 186.60,239.98 186.90,239.95 187.20,239.90 187.50,240.19 187.80,240.82 188.10,241.41 188.40,241.24 188.70,240.46 189.00,241.11 189.30,240.70 189.60,240.92 189.90,240.56 190.20,240.83 190.50,240.27 190.80,241.65 191.10,240.71 191.40,241.27 191.70,240.86 192.00,241.23 192.30,240.72 192.60,241.06 192.90,241.60 193.20,241.52 193.50,240.59 193.80,241.69 194.10,240.91 194.40,241.55 194.70,241.67 195.00,241.25 195.30,241.43 195.60,241.48 195.90,241.77 196.20,242.00 196.50,242.20 196.80,241.83 197.10,242.50 197.40,241.40 197.70,242.48 198.00,241.73 198.30,242.16 198.60,241.84 198.90,241.96 199.20,241.59 199.50,242.13 199.80,242.80 200.10,242.10 200.40,242.05 200.70,242.10 201.00,242.40 201.30,242.07 201.60,242.17 201.90,242.29 202.20,242.74 202.50,242.62 202.80,241.87 203.10,242.07 203.40,242.34 203.70,242.69 204.00,242.76 204.30,242.34 204.60,243.27 204.90,242.40 205.20,243.03 205.50,243.06 205.80,243.16 206.10,242.64 206.40,242.80 206.70,242.03 207.00,241.93 207.30,242.42 207.60,242.95 207.90,243.10 208.20,242.68 208.50,243.14 208.80,242.99 209.10,243.37 209.40,242.18 209.70,242.51 210.00,242.47 210.30,242.47 210.60,243.53 210.90,242.56 211.20,242.60 211.50,242.80 211.80,243.31 212.10,242.81 212.40,243.29 212.70,243.23 213.00,242.79 213.30,242.16 213.60,242.71 213.90,242.62 214.20,243.75 214.50,242.86 214.80,242.72 215.10,243.31 215.40,243.19 215.70,242.84 216.00,243.63 216.30,243.57 216.60,243.34 216.90,242.97 217.20,242.92 217.50,242.50 217.80,243.44 218.10,243.46 218.40,242.96 218.70,243.35 219.00,244.63 219.30,242.93 219.60,242.70 219.90,243.62 220.20,243.23 220.50,243.22 220.80,243.66 221.10,243.38 221.40,243.83 221.70,243.65 222.00,243.91 222.30,243.52 222.60,242.63 222.90,244.01 223.20,242.84 223.50,243.91 223.80,243.62 224.10,243.01 224.40,243.57 224.70,243.89 225.00,243.16 225.30,243.59 225.60,243.29 225.90,243.22 226.20,243.36 226.50,244.10 226.80,243.89 227.10,243.63 227.40,243.61 227.70,243.70 228.00,243.77 228.30,243.74 228.60,243.00 228.90,244.04 229.20,243.36 229.50,242.72 229.80,243.99 230.10,243.27 230.40,243.67 230.70,243.71 231.00,243.51 231.30,243.96 231.60,243.66 231.90,243.67 232.20,243.40 232.50,243.68 232.80,243.39 233.10,243.82 233.40,244.33 233.70,244.21 234.00,243.99 234.30,243.32 234.60,244.24 234.90,244.21 235.20,244.66 235.50,243.01 235.80,243.87 236.10,243.75 236.40,244.31 236.70,243.48 237.00,243.75 237.30,244.79 237.60,244.30 237.90,243.16 238.20,243.93 238.50,244.45 238.80,243.69 239.10,244.17 239.40,243.99 239.70,243.40 240.00,243.71 240.30,244.40 240.60,244.44 240.90,243.75 241.20,244.42 241.50,243.72 241.80,244.09 242.10,243.99 242.40,243.51 242.70,244.14 243.00,243.86 243.30,242.98 243.60,243.70 243.90,243.71 244.20,243.71 244.50,243.67 244.80,243.77 245.10,243.12 245.40,244.41 245.70,244.09 246.00,244.16 246.30,243.97 246.60,244.10 246.90,243.98 247.20,243.65 247.50,243.51 247.80,244.12 248.10,244.49 248.40,244.19 248.70,244.72 249.00,243.57 249.30,244.01 249.60,243.87 249.90,244.59 250.20,244.79 250.50,243.93 250.80,244.42 251.10,244.04 251.40,243.75 251.70,244.10 252.00,243.74 252.30,244.74 252.60,244.38 252.90,244.61 253.20,244.30 253.50,243.24 253.80,244.48 254.10,244.20 254.40,243.23 254.70,244.21 255.00,244.57 255.30,244.83 255.60,243.78 255.90,244.49 256.20,244.32 256.50,244.13 256.80,244.08 257.10,244.40 257.40,244.42 257.70,244.45 258.00,244.04 258.30,243.70 258.60,244.73 258.90,244.71 259.20,243.99 259.50,244.20 259.80,244.53 260.10,243.55 260.40,244.42 260.70,245.15 261.00,244.33 261.30,243.96 261.60,245.03 261.90,244.23 262.20,244.31 262.50,244.07 262.80,244.31 263.10,243.55 263.40,243.73 263.70,243.68 264.00,244.60 264.30,244.21 264.60,244.70 264.90,243.47 265.20,244.01 265.50,244.81 265.80,243.94 266.10,243.54 266.40,243.96 266.70,244.12 267.00,244.25 267.30,244.75 267.60,244.78 267.90,244.85 268.20,244.49 268.50,244.07 268.80,244.06 269.10,243.69 269.40,244.76 269.70,244.74 270.00,244.30 270.30,243.92 270.60,244.53 270.90,244.45 271.20,244.32 271.50,243.82 271.80,244.36 272.10,244.05 272.40,244.56 272.70,244.50 273.00,244.44 273.30,244.10 273.60,244.87 273.90,244.56 274.20,244.77 274.50,244.59 274.80,244.53 275.10,244.42 275.40,243.85 275.70,243.57 276.00,243.90 276.30,244.50 276.60,244.63 276.90,244.34 277.20,244.30 277.50,244.97 277.80,244.11 278.10,243.58 278.40,243.66 278.70,244.14 279.00,244.54 279.30,244.55 279.60,244.18 279.90,244.58 280.20,244.25 280.50,243.99 280.80,244.12 281.10,244.55 281.40,244.64 281.70,243.83 282.00,243.88 282.30,244.31 282.60,245.10 282.90,243.81 283.20,243.77 283.50,244.42 283.80,244.46 284.10,244.03 284.40,244.25 284.70,244.44 285.00,243.57 285.30,244.25 285.60,244.49 285.90,244.61 286.20,244.71 286.50,244.23 286.80,243.69 287.10,244.77 287.40,244.55 287.70,244.01 288.00,244.66 288.30,244.65 288.60,244.19 288.90,243.34 289.20,244.06 289.50,243.96 289.80,243.92 290.10,244.21 290.40,243.82 290.70,244.39 291.00,244.98 291.30,243.78 291.60,244.65 291.90,244.03 292.20,244.45 292.50,244.19 292.80,244.74 293.10,243.96 293.40,244.52 293.70,243.94 294.00,244.32 294.30,244.22 294.60,244.66 294.90,243.62 295.20,243.70 295.50,244.76 295.80,244.38 296.10,244.87 296.40,243.82 296.70,244.30 297.00,244.46 297.30,244.90 297.60,244.20 297.90,244.05 298.20,244.50 298.50,244.18 298.80,243.92 299.10,244.51 299.40,243.47 299.70,243.82 300.00,244.74 300.30,244.02 300.60,244.08 300.90,244.35 301.20,244.64 301.50,244.41 301.80,243.83 302.10,243.98 302.40,244.61 302.70,244.15 303.00,243.95 303.30,244.53 303.60,244.64 303.90,245.03 304.20,243.77 304.50,243.92 304.80,243.92 305.10,244.33 305.40,244.00 305.70,244.62 306.00,243.14 306.30,244.56 306.60,243.93 306.90,244.08 307.20,244.41 307.50,244.26 307.80,243.79 308.10,244.76 308.40,244.41 308.70,243.99 309.00,244.26 309.30,243.75 309.60,243.70 309.90,244.06 310.20,244.32 310.50,244.21 310.80,243.87 311.10,243.64 311.40,243.52 311.70,244.78 312.00,244.31 312.30,243.86 312.60,244.63 312.90,244.37 313.20,244.00 313.50,243.93 313.80,244.61 314.10,244.29 314.40,244.80 314.70,244.30 315.00,243.93 315.30,243.93 315.60,243.89 315.90,244.26 316.20,244.26 316.50,244.39 316.80,244.33 317.10,243.75 317.40,244.08 317.70,243.79 318.00,244.34 318.30,243.65 318.60,243.93 318.90,243.83 319.20,243.91 319.50,244.05 319.80,244.74 320.10,244.05 320.40,243.59 320.70,244.04 321.00,244.44 321.30,244.36 321.60,244.24 321.90,244.92 322.20,244.58 322.50,244.19 322.80,244.62 323.10,243.64 323.40,244.08 323.70,243.82 324.00,244.22 324.30,244.77 324.60,243.96 324.90,244.76 325.20,243.75 325.50,244.70 325.80,243.49 326.10,243.83 326.40,244.54 326.70,244.12 327.00,244.21 327.30,244.15 327.60,244.22 327.90,244.09 328.20,243.77 328.50,244.04 328.80,244.20 329.10,243.81 329.40,244.34 329.70,244.83 330.00,243.52 330.30,243.95 330.60,244.05 330.90,244.17 331.20,244.20 331.50,243.88 331.80,244.15 332.10,244.17 332.40,244.13 332.70,244.76 333.00,244.22 333.30,243.60 333.60,243.56 333.90,244.40 334.20,244.04 334.50,243.93 334.80,243.65 335.10,244.06 335.40,244.14 335.70,243.91 336.00,244.04 336.30,244.52 336.60,244.49 336.90,244.39 337.20,244.12 337.50,243.67 337.80,244.49 338.10,244.76 338.40,244.69 338.70,244.64 339.00,244.30 339.30,244.34 339.60,244.19 339.90,244.68"/>
<rect x="22.60" y="3.20" width="317.40" height="255.90" fill="none" stroke="#505050" stroke-width="1.50"/>
<line x1="49.15" y1="259.10" x2="49.15" y2="261.90" stroke="#505050" stroke-width="1.40"/>
<line x1="85.50" y1="259.10" x2="85.50" y2="264.70" stroke="#505050" stroke-width="1.40"/>
<text transform="translate(85.50,276.60) scale(1.000,1)" font-size="10.50" text-anchor="middle" fill="#333333" >10</text>
<line x1="121.85" y1="259.10" x2="121.85" y2="261.90" stroke="#505050" stroke-width="1.40"/>
<line x1="158.20" y1="259.10" x2="158.20" y2="264.70" stroke="#505050" stroke-width="1.40"/>
<text transform="translate(158.20,276.60) scale(1.000,1)" font-size="10.50" text-anchor="middle" fill="#333333" >20</text>
<line x1="194.55" y1="259.10" x2="194.55" y2="261.90" stroke="#505050" stroke-width="1.40"/>
<line x1="230.90" y1="259.10" x2="230.90" y2="264.70" stroke="#505050" stroke-width="1.40"/>
<text transform="translate(230.90,276.60) scale(1.000,1)" font-size="10.50" text-anchor="middle" fill="#333333" >30</text>
<line x1="267.25" y1="259.10" x2="267.25" y2="261.90" stroke="#505050" stroke-width="1.40"/>
<line x1="303.60" y1="259.10" x2="303.60" y2="264.70" stroke="#505050" stroke-width="1.40"/>
<text transform="translate(303.60,276.60) scale(1.000,1)" font-size="10.50" text-anchor="middle" fill="#333333" >40</text>
<line x1="339.95" y1="259.10" x2="339.95" y2="261.90" stroke="#505050" stroke-width="1.40"/>
<text transform="translate(181.30,294.00) scale(1.060,1)" font-size="12.60" text-anchor="middle" fill="#333333" >2θ (degree, in n-octane)</text>
<text transform="translate(11.00,130.60) rotate(-90) scale(1.000,1)" font-size="13.50" text-anchor="middle" fill="#333333" >Intensity</text>
<text transform="translate(28.60,30.50) scale(1.110,1)" font-size="22.00" text-anchor="start" fill="#333333" >a)</text>
<line x1="255.80" y1="12.10" x2="283.40" y2="12.10" stroke="#ff1010" stroke-width="1.20"/>
<text transform="translate(285.8,16.20) scale(1.04,1)" font-size="11.4" fill="#333333"><tspan font-style="italic">L</tspan>-PheO<tspan font-size="7.8" dy="3.3">6</tspan></text>
<line x1="255.80" y1="29.56" x2="283.40" y2="29.56" stroke="#1010ff" stroke-width="1.20"/>
<text transform="translate(285.8,33.66) scale(1.04,1)" font-size="11.4" fill="#333333"><tspan font-style="italic">L</tspan>-PheO<tspan font-size="7.8" dy="3.3">8</tspan></text>
<line x1="255.80" y1="47.02" x2="283.40" y2="47.02" stroke="#2ea02e" stroke-width="1.20"/>
<text transform="translate(285.8,51.12) scale(1.04,1)" font-size="11.4" fill="#333333"><tspan font-style="italic">L</tspan>-PheO<tspan font-size="7.8" dy="3.3">10</tspan></text>
<line x1="255.80" y1="64.48" x2="283.40" y2="64.48" stroke="#a040f0" stroke-width="1.20"/>
<text transform="translate(285.8,68.58) scale(1.04,1)" font-size="11.4" fill="#333333"><tspan font-style="italic">L</tspan>-PheO<tspan font-size="7.8" dy="3.3">12</tspan></text>
<line x1="255.80" y1="81.94" x2="283.40" y2="81.94" stroke="#40ee40" stroke-width="1.20"/>
<text transform="translate(285.8,86.04) scale(1.04,1)" font-size="11.4" fill="#333333"><tspan font-style="italic">L</tspan>-PheO<tspan font-size="7.8" dy="3.3">14</tspan></text>
<line x1="255.80" y1="99.40" x2="283.40" y2="99.40" stroke="#ee9a40" stroke-width="1.20"/>
<text transform="translate(285.8,103.50) scale(1.04,1)" font-size="11.4" fill="#333333"><tspan font-style="italic">L</tspan>-PheO<tspan font-size="7.8" dy="3.3">16</tspan></text>
<text transform="translate(80.50,93.92) scale(1.040,1)" font-size="11.50" text-anchor="start" fill="#333333" >7.36°</text>
<line x1="68.50" y1="89.20" x2="79.80" y2="90.30" stroke="#666" stroke-width="0.80"/>
<text transform="translate(166.60,89.81) scale(1.020,1)" font-size="11.20" text-anchor="start" fill="#333333" >19.38°</text>
<line x1="157.30" y1="86.40" x2="167.00" y2="85.30" stroke="#666" stroke-width="0.80"/>
<text transform="translate(64.50,133.52) scale(1.040,1)" font-size="11.50" text-anchor="start" fill="#333333" >6.08°</text>
<line x1="58.50" y1="135.80" x2="65.10" y2="131.40" stroke="#666" stroke-width="0.80"/>
<text transform="translate(166.40,127.47) scale(1.000,1)" font-size="10.80" text-anchor="start" fill="#333333" >19.52°</text>
<line x1="155.50" y1="120.50" x2="166.50" y2="123.10" stroke="#666" stroke-width="0.80"/>
<text transform="translate(57.30,161.12) scale(1.040,1)" font-size="11.50" text-anchor="start" fill="#333333" >5.16°</text>
<line x1="52.60" y1="168.90" x2="57.90" y2="164.00" stroke="#666" stroke-width="0.80"/>
<text transform="translate(169.70,153.87) scale(1.000,1)" font-size="10.80" text-anchor="start" fill="#333333" >19.38°</text>
<line x1="156.60" y1="140.20" x2="169.80" y2="143.90" stroke="#666" stroke-width="0.80"/>
<text transform="translate(50.20,188.52) scale(1.040,1)" font-size="11.50" text-anchor="start" fill="#333333" >4.16°</text>
<line x1="44.20" y1="195.30" x2="50.80" y2="190.90" stroke="#666" stroke-width="0.80"/>
<text transform="translate(172.50,182.07) scale(1.000,1)" font-size="10.80" text-anchor="start" fill="#333333" >19.64°</text>
<line x1="161.00" y1="166.60" x2="172.00" y2="171.00" stroke="#666" stroke-width="0.80"/>
<text transform="translate(53.50,210.32) scale(1.040,1)" font-size="11.50" text-anchor="start" fill="#333333" >3.96°</text>
<line x1="43.10" y1="216.80" x2="54.10" y2="213.50" stroke="#666" stroke-width="0.80"/>
<text transform="translate(102.60,201.47) scale(1.000,1)" font-size="10.80" text-anchor="start" fill="#333333" >19.28°</text>
<line x1="133.60" y1="191.70" x2="149.00" y2="188.90" stroke="#666" stroke-width="0.80"/>
<text transform="translate(52.90,235.72) scale(1.040,1)" font-size="11.50" text-anchor="start" fill="#333333" >2.8°</text>
<line x1="35.40" y1="239.50" x2="53.50" y2="233.30" stroke="#666" stroke-width="0.80"/>
<text transform="translate(125.90,219.47) scale(1.000,1)" font-size="10.80" text-anchor="start" fill="#333333" >19.46°</text>
<line x1="142.40" y1="221.70" x2="151.20" y2="225.70" stroke="#666" stroke-width="0.80"/>
<polyline fill="none" stroke="#ff1010" stroke-width="1.70" stroke-linejoin="round" points="365.20,99.90 365.50,102.70 365.80,101.17 366.10,99.94 366.40,100.36 366.70,98.57 367.00,99.64 367.30,100.22 367.60,103.50 367.90,99.80 368.20,101.91 368.50,101.03 368.80,100.70 369.10,101.87 369.40,98.94 369.70,102.47 370.00,103.75 370.30,101.96 370.60,101.67 370.90,102.05 371.20,102.75 371.50,101.54 371.80,102.36 372.10,102.92 372.40,102.04 372.70,103.01 373.00,103.06 373.30,103.60 373.60,101.72 373.90,102.35 374.20,102.55 374.50,104.51 374.80,103.49 375.10,101.36 375.40,101.83 375.70,105.60 376.00,103.79 376.30,101.93 376.60,102.38 376.90,103.60 377.20,105.09 377.50,105.27 377.80,102.95 378.10,102.98 378.40,105.50 378.70,102.05 379.00,104.91 379.30,103.36 379.60,102.95 379.90,104.18 380.20,103.09 380.50,101.38 380.80,100.37 381.10,101.94 381.40,102.27 381.70,102.99 382.00,98.08 382.30,102.36 382.60,101.20 382.90,101.87 383.20,100.60 383.50,99.22 383.80,98.64 384.10,97.73 384.40,95.76 384.70,95.63 385.00,95.17 385.30,93.70 385.60,91.60 385.90,90.55 386.20,91.53 386.50,90.14 386.80,88.18 387.10,85.17 387.40,85.98 387.70,82.96 388.00,79.37 388.30,81.95 388.60,76.75 388.90,79.45 389.20,75.75 389.50,72.88 389.80,68.95 390.10,69.31 390.40,70.49 390.70,69.05 391.00,66.61 391.30,63.35 391.60,64.20 391.90,64.02 392.20,64.99 392.50,64.73 392.80,65.93 393.10,64.45 393.40,66.45 393.70,69.83 394.00,67.60 394.30,71.61 394.60,74.59 394.90,74.05 395.20,73.17 395.50,77.83 395.80,75.90 396.10,80.13 396.40,80.92 396.70,84.49 397.00,86.12 397.30,86.65 397.60,90.15 397.90,90.73 398.20,90.51 398.50,91.35 398.80,96.70 399.10,94.65 399.40,96.80 399.70,97.30 400.00,97.94 400.30,97.62 400.60,100.24 400.90,101.14 401.20,103.21 401.50,102.21 401.80,101.65 402.10,102.86 402.40,104.63 402.70,105.50 403.00,106.56 403.30,105.73 403.60,107.22 403.90,107.15 404.20,109.32 404.50,107.63 404.80,108.17 405.10,108.94 405.40,109.94 405.70,107.67 406.00,108.37 406.30,108.76 406.60,106.74 406.90,110.85 407.20,110.71 407.50,109.58 407.80,113.57 408.10,111.21 408.40,112.19 408.70,111.75 409.00,111.08 409.30,108.47 409.60,111.97 409.90,110.74 410.20,108.92 410.50,110.42 410.80,111.28 411.10,111.57 411.40,110.65 411.70,109.85 412.00,111.33 412.30,109.54 412.60,110.30 412.90,111.22 413.20,108.59 413.50,110.63 413.80,107.82 414.10,108.93 414.40,108.46 414.70,109.67 415.00,110.48 415.30,109.46 415.60,110.45 415.90,109.36 416.20,108.87 416.50,109.54 416.80,108.56 417.10,108.85 417.40,109.78 417.70,107.78 418.00,109.66 418.30,106.92 418.60,107.82 418.90,105.94 419.20,107.21 419.50,109.54 419.80,107.99 420.10,108.91 420.40,105.60 420.70,106.01 421.00,107.58 421.30,107.86 421.60,107.73 421.90,104.68 422.20,107.06 422.50,106.23 422.80,106.31 423.10,106.56 423.40,105.53 423.70,103.74 424.00,104.29 424.30,103.70 424.60,103.68 424.90,104.90 425.20,106.42 425.50,103.91 425.80,103.68 426.10,103.09 426.40,102.24 426.70,104.17 427.00,103.37 427.30,103.51 427.60,102.51 427.90,104.04 428.20,101.93 428.50,103.82 428.80,102.27 429.10,103.81 429.40,101.73 429.70,103.14 430.00,103.01 430.30,102.28 430.60,104.15 430.90,102.31 431.20,100.93 431.50,102.63 431.80,100.73 432.10,100.94 432.40,101.45 432.70,101.52 433.00,103.19 433.30,99.06 433.60,100.68 433.90,102.20 434.20,100.62 434.50,101.11 434.80,102.46 435.10,99.21 435.40,100.66 435.70,101.51 436.00,99.91 436.30,98.58 436.60,99.47 436.90,100.90 437.20,100.95 437.50,102.93 437.80,102.41 438.10,99.14 438.40,102.23 438.70,102.17 439.00,103.10 439.30,101.12 439.60,100.75 439.90,101.68 440.20,103.42 440.50,102.44 440.80,103.80 441.10,102.83 441.40,101.33 441.70,100.94 442.00,104.37 442.30,100.53 442.60,101.96 442.90,102.07 443.20,101.43 443.50,101.89 443.80,102.62 444.10,105.42 444.40,102.64 444.70,102.17 445.00,102.97 445.30,103.96 445.60,101.97 445.90,102.50 446.20,100.97 446.50,103.88 446.80,103.90 447.10,104.89 447.40,101.79 447.70,105.76 448.00,104.30 448.30,103.00 448.60,102.90 448.90,103.04 449.20,102.02 449.50,104.37 449.80,102.80 450.10,102.71 450.40,104.19 450.70,103.76 451.00,102.98 451.30,103.43 451.60,103.16 451.90,105.33 452.20,104.98 452.50,103.00 452.80,103.83 453.10,105.51 453.40,103.61 453.70,106.05 454.00,104.54 454.30,104.83 454.60,101.66 454.90,105.11 455.20,104.56 455.50,104.88 455.80,104.80 456.10,104.89 456.40,103.72 456.70,105.40 457.00,104.47 457.30,103.22 457.60,103.29 457.90,104.71 458.20,104.96 458.50,102.05 458.80,102.25 459.10,105.93 459.40,104.74 459.70,108.12 460.00,103.06 460.30,104.61 460.60,104.25 460.90,105.65 461.20,106.70 461.50,106.97 461.80,103.96 462.10,106.62 462.40,103.81 462.70,105.64 463.00,105.52 463.30,106.09 463.60,104.47 463.90,107.00 464.20,105.41 464.50,105.50 464.80,105.25 465.10,104.36 465.40,106.47 465.70,106.05 466.00,106.22 466.30,107.88 466.60,104.72 466.90,105.42 467.20,105.78 467.50,106.78 467.80,105.59 468.10,106.89 468.40,106.34 468.70,103.76 469.00,105.01 469.30,103.44 469.60,105.46 469.90,105.30 470.20,106.46 470.50,105.95 470.80,105.65 471.10,107.17 471.40,106.37 471.70,104.21 472.00,104.80 472.30,105.96 472.60,107.53 472.90,105.26 473.20,105.25 473.50,105.71 473.80,106.27 474.10,105.19 474.40,105.59 474.70,104.69 475.00,104.48 475.30,104.13 475.60,105.76 475.90,104.27 476.20,105.49 476.50,105.24 476.80,105.84 477.10,101.49 477.40,103.40 477.70,103.03 478.00,104.17 478.30,105.21 478.60,107.14 478.90,105.87 479.20,105.55 479.50,104.29 479.80,103.28 480.10,104.23 480.40,100.92 480.70,104.43 481.00,103.22 481.30,103.79 481.60,101.72 481.90,101.51 482.20,101.89 482.50,102.45 482.80,102.76 483.10,101.79 483.40,102.47 483.70,102.71 484.00,100.41 484.30,101.51 484.60,99.67 484.90,100.71 485.20,102.28 485.50,100.25 485.80,103.14 486.10,101.43 486.40,101.76 486.70,100.73 487.00,101.51 487.30,101.67 487.60,100.41 487.90,99.56 488.20,99.42 488.50,102.21 488.80,99.63 489.10,99.21 489.40,98.80 489.70,97.56 490.00,98.85 490.30,99.71 490.60,98.68 490.90,98.28 491.20,99.57 491.50,99.55 491.80,98.44 492.10,99.26 492.40,97.72 492.70,99.83 493.00,97.65 493.30,98.41 493.60,98.96 493.90,98.33 494.20,97.50 494.50,101.33 494.80,100.71 495.10,96.95 495.40,99.19 495.70,97.65 496.00,99.57 496.30,97.77 496.60,100.07 496.90,100.11 497.20,101.60 497.50,101.12 497.80,99.29 498.10,101.05 498.40,99.53 498.70,100.06 499.00,99.74 499.30,98.40 499.60,101.29 499.90,98.34 500.20,100.57 500.50,101.59 500.80,101.26 501.10,99.43 501.40,100.67 501.70,102.38 502.00,103.04 502.30,103.78 502.60,99.96 502.90,102.81 503.20,101.88 503.50,103.52 503.80,100.83 504.10,102.83 504.40,104.01 504.70,102.62 505.00,103.13 505.30,102.60 505.60,105.24 505.90,102.56 506.20,103.23 506.50,104.09 506.80,104.29 507.10,107.30 507.40,105.33 507.70,104.20 508.00,106.02 508.30,105.90 508.60,105.98 508.90,105.72 509.20,106.49 509.50,104.72 509.80,104.82 510.10,105.88 510.40,105.22 510.70,107.47 511.00,109.07 511.30,108.38 511.60,107.59 511.90,107.60 512.20,106.53 512.50,105.95 512.80,108.24 513.10,106.00 513.40,108.21 513.70,107.82 514.00,108.99 514.30,108.29 514.60,108.48 514.90,107.79 515.20,106.57 515.50,108.31 515.80,109.64 516.10,110.16 516.40,110.67 516.70,108.00 517.00,108.17 517.30,110.20 517.60,108.95 517.90,112.59 518.20,110.06 518.50,108.01 518.80,109.24 519.10,111.82 519.40,107.94 519.70,110.35 520.00,108.63 520.30,112.22 520.60,109.91 520.90,109.31 521.20,108.59 521.50,109.84 521.80,107.75 522.10,110.27 522.40,113.45 522.70,111.08 523.00,110.72 523.30,109.74 523.60,111.56 523.90,110.67 524.20,110.29 524.50,112.96 524.80,111.92 525.10,110.42 525.40,113.25 525.70,111.51 526.00,112.22 526.30,111.85 526.60,113.11 526.90,112.50 527.20,111.42 527.50,112.72 527.80,111.47 528.10,112.13 528.40,113.95 528.70,110.83 529.00,110.91 529.30,111.70 529.60,111.63 529.90,113.78 530.20,110.44 530.50,115.04 530.80,114.26 531.10,111.92 531.40,112.71 531.70,112.12 532.00,113.38 532.30,113.41 532.60,113.57 532.90,113.63 533.20,115.05 533.50,112.63 533.80,113.69 534.10,112.70 534.40,113.01 534.70,113.27 535.00,113.00 535.30,113.51 535.60,112.15 535.90,113.01 536.20,112.52 536.50,111.91 536.80,112.49 537.10,112.78 537.40,113.23 537.70,111.61 538.00,113.18 538.30,112.20 538.60,112.59 538.90,113.81 539.20,114.93 539.50,113.99 539.80,113.12 540.10,113.21 540.40,115.32 540.70,111.88 541.00,115.14 541.30,112.07 541.60,113.11 541.90,113.93 542.20,113.64 542.50,115.86 542.80,114.51 543.10,113.89 543.40,115.08 543.70,114.02 544.00,113.04 544.30,115.30 544.60,115.76 544.90,115.50 545.20,112.62 545.50,116.23 545.80,113.50 546.10,114.88 546.40,115.37 546.70,116.74 547.00,112.04 547.30,112.72 547.60,115.27 547.90,114.44 548.20,113.47 548.50,110.37 548.80,114.29 549.10,113.51 549.40,110.63 549.70,116.79 550.00,110.67 550.30,112.91 550.60,113.52 550.90,113.75 551.20,114.32 551.50,113.07 551.80,112.28 552.10,112.86 552.40,110.74 552.70,111.80 553.00,115.32 553.30,112.08 553.60,112.68 553.90,114.90 554.20,113.84 554.50,112.71 554.80,113.43 555.10,112.31 555.40,111.66 555.70,114.05 556.00,113.22 556.30,115.15 556.60,113.19 556.90,113.31 557.20,114.40 557.50,114.02 557.80,114.12 558.10,113.66 558.40,115.21 558.70,115.45 559.00,117.35 559.30,115.27 559.60,113.34 559.90,116.05 560.20,118.29 560.50,115.18 560.80,114.84 561.10,115.68 561.40,112.60 561.70,115.65 562.00,115.91 562.30,114.44 562.60,116.97 562.90,115.34 563.20,114.26 563.50,115.66 563.80,117.32 564.10,118.90 564.40,118.18 564.70,117.00 565.00,116.23 565.30,116.58 565.60,118.09 565.90,116.39 566.20,117.55 566.50,118.24 566.80,116.09 567.10,116.51 567.40,117.78 567.70,117.30 568.00,117.19 568.30,116.75 568.60,117.34 568.90,119.63 569.20,119.08 569.50,115.62 569.80,117.61 570.10,117.69 570.40,117.65 570.70,116.01 571.00,117.51 571.30,117.86 571.60,116.91 571.90,118.10 572.20,114.88 572.50,116.00 572.80,117.91 573.10,118.26 573.40,117.62 573.70,117.29 574.00,118.06 574.30,119.13 574.60,118.92 574.90,117.78 575.20,117.33 575.50,119.14 575.80,118.53 576.10,118.94 576.40,117.58 576.70,116.89 577.00,118.13 577.30,117.17 577.60,119.26 577.90,118.91 578.20,115.34 578.50,118.68 578.80,119.47 579.10,119.11 579.40,117.33 579.70,116.87 580.00,119.02 580.30,119.06 580.60,117.93 580.90,116.50 581.20,116.05 581.50,118.15 581.80,116.85 582.10,117.02 582.40,118.33 582.70,119.03 583.00,115.35 583.30,116.98 583.60,119.29 583.90,117.69 584.20,117.33 584.50,118.47 584.80,116.36 585.10,116.25 585.40,117.70 585.70,119.50 586.00,118.84 586.30,117.63 586.60,118.81 586.90,117.12 587.20,116.20 587.50,115.61 587.80,117.88 588.10,118.60 588.40,117.97 588.70,117.47 589.00,117.03 589.30,118.77 589.60,117.42 589.90,115.77 590.20,119.06 590.50,116.67 590.80,117.88 591.10,117.41 591.40,118.64 591.70,117.67 592.00,118.82 592.30,117.61 592.60,116.81 592.90,116.74 593.20,118.10 593.50,116.35 593.80,118.40 594.10,117.02 594.40,116.20 594.70,116.26 595.00,117.11 595.30,119.36 595.60,118.18 595.90,117.29 596.20,116.20 596.50,119.50 596.80,116.93 597.10,117.26 597.40,116.76 597.70,118.83 598.00,117.47 598.30,116.73 598.60,117.49 598.90,116.10 599.20,116.04 599.50,117.10 599.80,113.90 600.10,118.69 600.40,119.66 600.70,116.01 601.00,117.16 601.30,115.48 601.60,117.55 601.90,117.61 602.20,118.24 602.50,115.81 602.80,116.67 603.10,116.63 603.40,117.11 603.70,120.10 604.00,117.18 604.30,117.38 604.60,116.83 604.90,118.38 605.20,120.47 605.50,118.82 605.80,119.27 606.10,116.21 606.40,118.73 606.70,117.52 607.00,118.97 607.30,118.75 607.60,118.28 607.90,115.54 608.20,117.68 608.50,116.94 608.80,118.07 609.10,117.59 609.40,118.79 609.70,115.67 610.00,116.69 610.30,117.48 610.60,117.96 610.90,117.11 611.20,117.56 611.50,117.66 611.80,118.84 612.10,117.48 612.40,117.90 612.70,115.48 613.00,114.54 613.30,115.91 613.60,118.06 613.90,114.93 614.20,118.13 614.50,117.54 614.80,117.67 615.10,116.81 615.40,117.18 615.70,118.66 616.00,118.11 616.30,117.66 616.60,117.12 616.90,117.95 617.20,119.11 617.50,117.69 617.80,117.28 618.10,116.33 618.40,117.84 618.70,116.65 619.00,116.04 619.30,118.76 619.60,117.01 619.90,115.35 620.20,116.90 620.50,119.93 620.80,117.64 621.10,116.20 621.40,116.47 621.70,118.62 622.00,118.26 622.30,118.03 622.60,117.56 622.90,118.36 623.20,119.61 623.50,118.37 623.80,117.61 624.10,116.16 624.40,118.34 624.70,119.66 625.00,118.58 625.30,116.34 625.60,118.04 625.90,119.36 626.20,117.08 626.50,118.42 626.80,119.27 627.10,119.77 627.40,115.97 627.70,115.79 628.00,118.29 628.30,118.68 628.60,117.44 628.90,117.84 629.20,117.38 629.50,119.28 629.80,115.26 630.10,118.17 630.40,116.36 630.70,117.08 631.00,116.07 631.30,116.81 631.60,117.86 631.90,117.92 632.20,120.00 632.50,117.63 632.80,118.31 633.10,118.32 633.40,118.21 633.70,119.64 634.00,118.07 634.30,118.09 634.60,117.78 634.90,117.92 635.20,117.85 635.50,119.10 635.80,117.95 636.10,118.00 636.40,117.87 636.70,118.82 637.00,117.37 637.30,119.04 637.60,117.26 637.90,118.76 638.20,120.21 638.50,118.22 638.80,117.84 639.10,116.55 639.40,118.82 639.70,117.96 640.00,119.03 640.30,117.18 640.60,118.57 640.90,120.09 641.20,118.43 641.50,117.57 641.80,116.42 642.10,117.95 642.40,118.74 642.70,118.67 643.00,116.65 643.30,116.75 643.60,116.82 643.90,116.77 644.20,117.65 644.50,118.29 644.80,120.25 645.10,118.21 645.40,119.70 645.70,116.03 646.00,119.81 646.30,118.93 646.60,118.51 646.90,118.96 647.20,118.72 647.50,120.25 647.80,118.95 648.10,115.93 648.40,115.93 648.70,119.90 649.00,117.90 649.30,119.56 649.60,117.59 649.90,117.23 650.20,117.60 650.50,118.38 650.80,118.23 651.10,117.27 651.40,118.64 651.70,118.74 652.00,116.92 652.30,116.69 652.60,115.69 652.90,117.65 653.20,118.03 653.50,117.19 653.80,117.30 654.10,117.86 654.40,118.06 654.70,118.70 655.00,119.01 655.30,118.54 655.60,119.35 655.90,116.88 656.20,118.75 656.50,118.47 656.80,116.79 657.10,117.23 657.40,118.56 657.70,118.12 658.00,116.55 658.30,117.38 658.60,119.85 658.90,119.04 659.20,118.14 659.50,119.64 659.80,116.97 660.10,117.84 660.40,119.18 660.70,117.65 661.00,116.72 661.30,118.75 661.60,119.95 661.90,115.05 662.20,118.24 662.50,116.58 662.80,117.70 663.10,116.39 663.40,121.15 663.70,117.26 664.00,118.12 664.30,117.23 664.60,116.89 664.90,117.53 665.20,118.32 665.50,120.15 665.80,118.41 666.10,119.93 666.40,116.81 666.70,118.16 667.00,117.56 667.30,116.23 667.60,122.50 667.90,117.80 668.20,118.38 668.50,117.20 668.80,117.41 669.10,116.87 669.40,119.31 669.70,117.62 670.00,117.93 670.30,118.31 670.60,116.65 670.90,118.38 671.20,117.90 671.50,118.64 671.80,117.65 672.10,118.16 672.40,118.73 672.70,119.26 673.00,117.30 673.30,119.27 673.60,116.95 673.90,117.90 674.20,118.28 674.50,118.30 674.80,115.17 675.10,116.98 675.40,117.92 675.70,119.24 676.00,117.31 676.30,119.94 676.60,116.01 676.90,118.24 677.20,118.79 677.50,118.18 677.80,118.47 678.10,119.27 678.40,117.21 678.70,118.87 679.00,119.43 679.30,117.90 679.60,115.43 679.90,116.77 680.20,117.17 680.50,116.93 680.80,118.70 681.10,117.24 681.40,121.13 681.70,118.87 682.00,116.65"/>
<polyline fill="none" stroke="#1010ff" stroke-width="1.80" stroke-linejoin="round" points="365.20,129.78 365.50,132.50 365.80,131.27 366.10,128.79 366.40,131.88 366.70,129.70 367.00,133.75 367.30,129.72 367.60,131.50 367.90,131.53 368.20,130.11 368.50,130.63 368.80,132.66 369.10,131.77 369.40,131.03 369.70,131.86 370.00,133.88 370.30,132.75 370.60,132.16 370.90,132.02 371.20,129.28 371.50,131.86 371.80,131.00 372.10,132.86 372.40,130.91 372.70,132.51 373.00,130.31 373.30,133.21 373.60,130.80 373.90,131.83 374.20,132.70 374.50,131.32 374.80,131.76 375.10,133.25 375.40,134.21 375.70,128.81 376.00,130.02 376.30,132.22 376.60,132.45 376.90,130.17 377.20,130.80 377.50,130.15 377.80,133.56 378.10,129.60 378.40,127.74 378.70,126.69 379.00,126.48 379.30,129.59 379.60,126.27 379.90,128.80 380.20,125.83 380.50,124.37 380.80,123.67 381.10,122.82 381.40,121.98 381.70,118.13 382.00,117.72 382.30,116.69 382.60,116.62 382.90,115.07 383.20,112.59 383.50,112.33 383.80,114.95 384.10,114.42 384.40,109.03 384.70,109.96 385.00,108.52 385.30,106.54 385.60,108.12 385.90,106.29 386.20,108.28 386.50,105.98 386.80,104.40 387.10,100.56 387.40,104.07 387.70,105.40 388.00,103.21 388.30,105.91 388.60,106.10 388.90,103.10 389.20,106.17 389.50,107.78 389.80,109.38 390.10,109.59 390.40,110.53 390.70,111.29 391.00,112.64 391.30,114.31 391.60,113.95 391.90,117.74 392.20,117.58 392.50,120.09 392.80,119.78 393.10,122.29 393.40,123.00 393.70,125.25 394.00,125.68 394.30,127.37 394.60,126.63 394.90,127.56 395.20,127.90 395.50,127.00 395.80,129.17 396.10,131.40 396.40,131.32 396.70,129.27 397.00,131.31 397.30,132.30 397.60,129.50 397.90,132.33 398.20,132.58 398.50,133.45 398.80,132.96 399.10,130.21 399.40,130.01 399.70,136.13 400.00,132.78 400.30,135.43 400.60,135.59 400.90,134.01 401.20,132.36 401.50,136.25 401.80,134.35 402.10,135.35 402.40,135.47 402.70,136.35 403.00,136.60 403.30,133.17 403.60,133.36 403.90,135.81 404.20,135.77 404.50,137.07 404.80,135.86 405.10,135.94 405.40,139.35 405.70,138.52 406.00,138.33 406.30,138.27 406.60,135.69 406.90,136.84 407.20,136.97 407.50,135.55 407.80,136.00 408.10,137.62 408.40,135.68 408.70,138.37 409.00,138.35 409.30,137.38 409.60,137.29 409.90,138.74 410.20,138.60 410.50,138.46 410.80,136.12 411.10,135.52 411.40,140.93 411.70,136.89 412.00,137.26 412.30,135.03 412.60,136.48 412.90,136.48 413.20,138.64 413.50,133.43 413.80,135.15 414.10,136.48 414.40,136.23 414.70,135.66 415.00,136.01 415.30,134.17 415.60,136.74 415.90,137.95 416.20,136.24 416.50,135.06 416.80,137.55 417.10,136.24 417.40,133.83 417.70,134.34 418.00,134.11 418.30,134.75 418.60,136.40 418.90,133.35 419.20,133.96 419.50,134.11 419.80,131.96 420.10,132.79 420.40,134.17 420.70,134.72 421.00,130.07 421.30,133.67 421.60,132.00 421.90,134.16 422.20,133.00 422.50,134.85 422.80,132.26 423.10,131.10 423.40,130.36 423.70,129.37 424.00,132.23 424.30,132.10 424.60,132.48 424.90,131.74 425.20,128.96 425.50,130.53 425.80,130.73 426.10,131.30 426.40,132.16 426.70,133.11 427.00,131.41 427.30,127.91 427.60,129.45 427.90,127.78 428.20,129.80 428.50,129.13 428.80,131.25 429.10,130.55 429.40,132.50 429.70,132.43 430.00,130.13 430.30,132.17 430.60,130.76 430.90,131.38 431.20,132.66 431.50,128.94 431.80,130.51 432.10,132.86 432.40,129.43 432.70,130.84 433.00,130.69 433.30,129.85 433.60,128.51 433.90,129.39 434.20,128.93 434.50,131.95 434.80,130.69 435.10,131.33 435.40,128.52 435.70,130.98 436.00,130.43 436.30,131.74 436.60,129.11 436.90,131.34 437.20,132.14 437.50,132.77 437.80,128.71 438.10,128.40 438.40,127.89 438.70,131.45 439.00,130.88 439.30,130.50 439.60,128.70 439.90,131.82 440.20,132.31 440.50,129.89 440.80,129.75 441.10,131.68 441.40,130.66 441.70,131.90 442.00,129.31 442.30,130.40 442.60,129.40 442.90,129.05 443.20,129.46 443.50,129.48 443.80,130.65 444.10,129.46 444.40,130.03 444.70,128.73 445.00,128.14 445.30,132.07 445.60,128.52 445.90,132.67 446.20,131.38 446.50,126.63 446.80,129.10 447.10,129.44 447.40,130.11 447.70,129.84 448.00,129.24 448.30,132.01 448.60,129.99 448.90,131.63 449.20,129.22 449.50,129.23 449.80,132.24 450.10,129.89 450.40,128.73 450.70,130.12 451.00,131.95 451.30,130.20 451.60,129.41 451.90,131.44 452.20,131.98 452.50,130.26 452.80,130.13 453.10,130.09 453.40,134.63 453.70,130.42 454.00,133.30 454.30,130.55 454.60,131.40 454.90,127.82 455.20,131.14 455.50,130.99 455.80,130.48 456.10,130.37 456.40,129.01 456.70,128.85 457.00,131.34 457.30,130.20 457.60,131.06 457.90,130.98 458.20,130.56 458.50,130.29 458.80,134.16 459.10,129.87 459.40,130.83 459.70,131.21 460.00,130.03 460.30,130.38 460.60,133.14 460.90,133.34 461.20,132.23 461.50,136.92 461.80,133.41 462.10,134.10 462.40,131.16 462.70,134.04 463.00,134.99 463.30,132.03 463.60,135.32 463.90,131.55 464.20,131.15 464.50,132.82 464.80,131.77 465.10,133.96 465.40,131.46 465.70,133.27 466.00,130.33 466.30,133.20 466.60,134.83 466.90,132.95 467.20,133.83 467.50,135.02 467.80,131.82 468.10,131.57 468.40,133.59 468.70,133.89 469.00,133.09 469.30,132.05 469.60,135.25 469.90,131.73 470.20,133.04 470.50,133.33 470.80,134.41 471.10,132.64 471.40,132.04 471.70,136.16 472.00,131.86 472.30,134.19 472.60,132.68 472.90,132.09 473.20,132.60 473.50,132.15 473.80,132.84 474.10,128.47 474.40,132.03 474.70,132.01 475.00,130.30 475.30,130.97 475.60,134.77 475.90,133.89 476.20,131.89 476.50,131.10 476.80,130.10 477.10,132.39 477.40,129.46 477.70,128.69 478.00,130.70 478.30,128.04 478.60,128.09 478.90,131.18 479.20,126.46 479.50,128.51 479.80,128.56 480.10,128.56 480.40,125.84 480.70,127.43 481.00,127.08 481.30,130.22 481.60,128.65 481.90,125.89 482.20,128.10 482.50,127.63 482.80,126.33 483.10,125.97 483.40,125.75 483.70,123.70 484.00,124.89 484.30,127.02 484.60,127.57 484.90,128.03 485.20,124.55 485.50,125.84 485.80,121.23 486.10,124.18 486.40,122.56 486.70,125.46 487.00,121.65 487.30,122.38 487.60,122.14 487.90,124.20 488.20,124.68 488.50,121.96 488.80,125.82 489.10,123.30 489.40,121.72 489.70,123.35 490.00,122.71 490.30,123.87 490.60,123.06 490.90,125.73 491.20,124.13 491.50,121.43 491.80,123.48 492.10,123.44 492.40,120.82 492.70,121.18 493.00,121.10 493.30,118.65 493.60,123.25 493.90,122.03 494.20,124.19 494.50,121.61 494.80,122.59 495.10,123.62 495.40,124.02 495.70,123.15 496.00,121.22 496.30,126.09 496.60,124.18 496.90,125.02 497.20,125.45 497.50,125.26 497.80,123.88 498.10,124.07 498.40,124.40 498.70,121.37 499.00,124.89 499.30,122.40 499.60,124.58 499.90,122.61 500.20,125.29 500.50,123.68 500.80,128.19 501.10,124.99 501.40,125.60 501.70,123.69 502.00,124.77 502.30,125.28 502.60,125.10 502.90,125.05 503.20,124.58 503.50,127.16 503.80,125.64 504.10,125.17 504.40,127.07 504.70,125.50 505.00,126.60 505.30,126.27 505.60,125.82 505.90,127.00 506.20,126.26 506.50,125.76 506.80,128.26 507.10,127.45 507.40,125.88 507.70,127.57 508.00,128.55 508.30,129.05 508.60,129.09 508.90,129.05 509.20,129.67 509.50,128.20 509.80,127.88 510.10,130.09 510.40,128.70 510.70,129.45 511.00,130.50 511.30,131.07 511.60,131.58 511.90,128.91 512.20,129.49 512.50,130.99 512.80,128.18 513.10,128.54 513.40,131.40 513.70,129.73 514.00,129.39 514.30,132.06 514.60,131.75 514.90,132.46 515.20,130.72 515.50,130.90 515.80,130.94 516.10,131.99 516.40,128.69 516.70,130.76 517.00,132.91 517.30,130.85 517.60,132.01 517.90,132.41 518.20,133.08 518.50,131.74 518.80,130.89 519.10,136.36 519.40,131.72 519.70,135.42 520.00,130.43 520.30,133.28 520.60,132.93 520.90,136.14 521.20,136.42 521.50,135.01 521.80,132.18 522.10,132.60 522.40,132.78 522.70,133.24 523.00,134.48 523.30,133.06 523.60,133.96 523.90,136.61 524.20,136.63 524.50,131.90 524.80,133.35 525.10,134.30 525.40,136.83 525.70,134.56 526.00,137.92 526.30,135.79 526.60,137.43 526.90,134.17 527.20,135.07 527.50,137.13 527.80,136.54 528.10,133.05 528.40,135.48 528.70,136.24 529.00,136.96 529.30,135.20 529.60,138.74 529.90,136.52 530.20,138.47 530.50,137.04 530.80,136.62 531.10,136.11 531.40,134.94 531.70,137.99 532.00,137.86 532.30,138.20 532.60,136.32 532.90,135.45 533.20,136.42 533.50,136.57 533.80,137.05 534.10,138.58 534.40,135.83 534.70,136.49 535.00,138.24 535.30,138.62 535.60,140.54 535.90,138.14 536.20,136.15 536.50,135.90 536.80,136.30 537.10,137.60 537.40,137.88 537.70,137.46 538.00,136.68 538.30,137.34 538.60,137.52 538.90,138.55 539.20,137.81 539.50,136.54 539.80,136.05 540.10,139.97 540.40,137.68 540.70,137.59 541.00,137.83 541.30,139.57 541.60,137.47 541.90,138.23 542.20,137.65 542.50,138.89 542.80,136.59 543.10,138.41 543.40,139.63 543.70,139.93 544.00,139.11 544.30,138.71 544.60,140.59 544.90,139.40 545.20,140.42 545.50,136.68 545.80,136.88 546.10,139.71 546.40,138.17 546.70,137.99 547.00,137.27 547.30,140.90 547.60,137.01 547.90,138.96 548.20,136.81 548.50,138.64 548.80,142.19 549.10,142.57 549.40,138.30 549.70,137.60 550.00,141.48 550.30,137.92 550.60,136.61 550.90,139.78 551.20,137.73 551.50,137.23 551.80,141.03 552.10,138.38 552.40,137.94 552.70,139.79 553.00,139.30 553.30,141.29 553.60,139.80 553.90,142.07 554.20,141.41 554.50,142.43 554.80,141.47 555.10,140.01 555.40,140.72 555.70,140.02 556.00,137.75 556.30,138.34 556.60,141.17 556.90,136.68 557.20,138.97 557.50,138.34 557.80,140.16 558.10,138.78 558.40,140.68 558.70,140.09 559.00,139.71 559.30,139.20 559.60,137.23 559.90,140.62 560.20,138.65 560.50,140.14 560.80,141.12 561.10,142.18 561.40,141.67 561.70,142.87 562.00,138.65 562.30,141.75 562.60,143.04 562.90,141.40 563.20,139.22 563.50,141.46 563.80,140.13 564.10,139.99 564.40,142.49 564.70,140.73 565.00,139.37 565.30,140.05 565.60,143.90 565.90,139.86 566.20,142.09 566.50,141.41 566.80,142.86 567.10,140.80 567.40,139.84 567.70,140.32 568.00,139.77 568.30,145.12 568.60,141.60 568.90,140.89 569.20,143.19 569.50,142.37 569.80,141.15 570.10,142.37 570.40,141.86 570.70,143.16 571.00,143.91 571.30,141.09 571.60,141.51 571.90,141.34 572.20,143.38 572.50,142.21 572.80,142.79 573.10,143.01 573.40,140.77 573.70,141.93 574.00,143.75 574.30,143.14 574.60,142.96 574.90,141.41 575.20,141.31 575.50,140.61 575.80,141.48 576.10,141.82 576.40,139.83 576.70,143.66 577.00,140.84 577.30,142.36 577.60,142.87 577.90,141.23 578.20,139.41 578.50,143.49 578.80,142.67 579.10,141.74 579.40,143.76 579.70,143.46 580.00,140.77 580.30,142.07 580.60,139.63 580.90,141.84 581.20,144.27 581.50,141.04 581.80,143.46 582.10,140.09 582.40,141.87 582.70,143.72 583.00,144.83 583.30,143.04 583.60,143.47 583.90,144.93 584.20,138.86 584.50,139.94 584.80,145.18 585.10,146.09 585.40,143.34 585.70,142.61 586.00,142.88 586.30,142.59 586.60,141.65 586.90,142.55 587.20,142.39 587.50,143.59 587.80,143.59 588.10,144.08 588.40,143.49 588.70,141.25 589.00,144.69 589.30,138.80 589.60,142.87 589.90,143.22 590.20,141.96 590.50,145.51 590.80,141.18 591.10,141.09 591.40,142.06 591.70,143.44 592.00,143.97 592.30,143.02 592.60,143.82 592.90,141.86 593.20,142.01 593.50,143.11 593.80,140.96 594.10,143.22 594.40,142.37 594.70,143.97 595.00,141.50 595.30,142.23 595.60,142.18 595.90,142.50 596.20,141.58 596.50,142.68 596.80,141.10 597.10,143.87 597.40,144.06 597.70,143.10 598.00,142.84 598.30,141.85 598.60,141.75 598.90,142.85 599.20,141.86 599.50,141.49 599.80,143.44 600.10,143.20 600.40,142.63 600.70,142.07 601.00,143.17 601.30,142.27 601.60,142.65 601.90,143.58 602.20,144.35 602.50,144.44 602.80,142.45 603.10,145.12 603.40,141.68 603.70,143.14 604.00,145.27 604.30,146.87 604.60,143.59 604.90,142.91 605.20,142.89 605.50,141.70 605.80,143.24 606.10,142.87 606.40,142.38 606.70,145.25 607.00,142.37 607.30,146.00 607.60,144.74 607.90,144.49 608.20,142.70 608.50,142.84 608.80,140.68 609.10,144.00 609.40,143.20 609.70,144.19 610.00,142.64 610.30,144.35 610.60,141.47 610.90,140.49 611.20,144.35 611.50,145.25 611.80,139.12 612.10,145.58 612.40,143.19 612.70,143.49 613.00,141.49 613.30,142.30 613.60,144.77 613.90,142.70 614.20,143.70 614.50,143.56 614.80,146.66 615.10,145.10 615.40,141.89 615.70,143.13 616.00,142.15 616.30,141.83 616.60,142.85 616.90,145.46 617.20,143.93 617.50,144.86 617.80,143.68 618.10,143.29 618.40,144.01 618.70,143.81 619.00,146.70 619.30,146.54 619.60,144.47 619.90,144.83 620.20,141.06 620.50,143.79 620.80,147.43 621.10,142.83 621.40,145.16 621.70,145.77 622.00,143.42 622.30,143.69 622.60,143.35 622.90,145.19 623.20,144.06 623.50,146.23 623.80,145.76 624.10,144.05 624.40,147.83 624.70,143.64 625.00,143.19 625.30,143.76 625.60,142.81 625.90,143.51 626.20,144.00 626.50,145.42 626.80,141.83 627.10,142.12 627.40,143.01 627.70,143.72 628.00,144.81 628.30,143.03 628.60,146.35 628.90,143.42 629.20,143.86 629.50,144.28 629.80,145.89 630.10,144.65 630.40,144.24 630.70,143.44 631.00,144.46 631.30,144.82 631.60,143.72 631.90,144.22 632.20,141.57 632.50,143.50 632.80,145.97 633.10,146.34 633.40,144.16 633.70,141.17 634.00,146.95 634.30,144.06 634.60,148.03 634.90,143.72 635.20,145.77 635.50,143.44 635.80,146.31 636.10,146.02 636.40,142.79 636.70,146.23 637.00,148.50 637.30,144.05 637.60,142.60 637.90,144.78 638.20,143.79 638.50,142.22 638.80,142.86 639.10,144.76 639.40,142.18 639.70,145.98 640.00,145.06 640.30,144.17 640.60,146.45 640.90,143.10 641.20,145.42 641.50,142.49 641.80,143.96 642.10,145.38 642.40,143.67 642.70,144.30 643.00,145.40 643.30,146.68 643.60,146.37 643.90,145.16 644.20,144.10 644.50,142.41 644.80,146.99 645.10,147.22 645.40,141.37 645.70,145.78 646.00,144.45 646.30,145.56 646.60,144.99 646.90,144.27 647.20,144.53 647.50,144.50 647.80,146.24 648.10,144.19 648.40,143.77 648.70,145.52 649.00,145.50 649.30,145.22 649.60,144.99 649.90,146.73 650.20,146.21 650.50,144.91 650.80,144.29 651.10,145.57 651.40,141.89 651.70,143.87 652.00,143.59 652.30,144.89 652.60,144.07 652.90,148.21 653.20,145.72 653.50,145.24 653.80,147.93 654.10,144.67 654.40,144.20 654.70,146.46 655.00,145.88 655.30,146.03 655.60,146.44 655.90,144.18 656.20,143.73 656.50,143.67 656.80,144.85 657.10,146.17 657.40,143.18 657.70,143.96 658.00,142.77 658.30,147.63 658.60,145.90 658.90,145.07 659.20,142.97 659.50,143.28 659.80,143.81 660.10,144.82 660.40,142.91 660.70,144.46 661.00,146.55 661.30,144.81 661.60,144.93 661.90,141.78 662.20,144.40 662.50,144.60 662.80,143.80 663.10,142.83 663.40,144.71 663.70,143.36 664.00,144.03 664.30,142.55 664.60,144.70 664.90,146.17 665.20,143.62 665.50,145.34 665.80,142.65 666.10,145.71 666.40,145.66 666.70,144.33 667.00,146.17 667.30,143.64 667.60,144.96 667.90,147.34 668.20,144.87 668.50,143.30 668.80,146.60 669.10,145.71 669.40,144.52 669.70,142.33 670.00,142.19 670.30,142.77 670.60,147.12 670.90,145.39 671.20,143.72 671.50,146.64 671.80,147.12 672.10,143.78 672.40,145.69 672.70,142.63 673.00,145.55 673.30,147.64 673.60,142.95 673.90,145.11 674.20,144.10 674.50,144.91 674.80,145.17 675.10,145.46 675.40,146.35 675.70,145.81 676.00,146.59 676.30,146.54 676.60,146.68 676.90,144.12 677.20,145.69 677.50,144.57 677.80,143.87 678.10,147.94 678.40,145.54 678.70,145.20 679.00,142.05 679.30,144.82 679.60,146.27 679.90,144.87 680.20,144.36 680.50,147.30 680.80,144.72 681.10,144.71 681.40,145.04 681.70,144.87 682.00,146.74"/>
<polyline fill="none" stroke="#ff30ff" stroke-width="1.70" stroke-linejoin="round" points="365.20,158.35 365.50,157.87 365.80,157.67 366.10,157.78 366.40,159.29 366.70,157.77 367.00,158.55 367.30,156.84 367.60,158.35 367.90,158.66 368.20,159.14 368.50,158.43 368.80,158.66 369.10,158.48 369.40,159.07 369.70,159.86 370.00,158.43 370.30,157.63 370.60,158.73 370.90,158.17 371.20,158.73 371.50,158.81 371.80,158.29 372.10,157.77 372.40,158.30 372.70,157.01 373.00,158.12 373.30,157.12 373.60,158.05 373.90,157.63 374.20,157.15 374.50,156.06 374.80,156.64 375.10,155.60 375.40,155.50 375.70,155.58 376.00,155.17 376.30,152.82 376.60,153.93 376.90,153.66 377.20,152.86 377.50,151.59 377.80,150.69 378.10,151.46 378.40,149.20 378.70,147.55 379.00,148.08 379.30,147.46 379.60,145.64 379.90,144.61 380.20,146.20 380.50,143.85 380.80,143.45 381.10,141.46 381.40,139.85 381.70,139.96 382.00,140.19 382.30,137.65 382.60,135.81 382.90,136.07 383.20,135.08 383.50,134.46 383.80,132.92 384.10,132.86 384.40,132.17 384.70,132.85 385.00,132.01 385.30,132.47 385.60,131.85 385.90,130.45 386.20,131.00 386.50,133.38 386.80,134.21 387.10,134.86 387.40,134.81 387.70,134.21 388.00,136.08 388.30,137.68 388.60,139.42 388.90,139.11 389.20,140.00 389.50,140.85 389.80,143.26 390.10,144.14 390.40,143.08 390.70,146.45 391.00,145.83 391.30,146.40 391.60,147.33 391.90,148.93 392.20,152.18 392.50,153.26 392.80,151.16 393.10,152.39 393.40,153.82 393.70,154.76 394.00,154.78 394.30,154.56 394.60,156.09 394.90,156.43 395.20,156.11 395.50,158.07 395.80,157.30 396.10,157.47 396.40,160.39 396.70,160.33 397.00,161.06 397.30,160.37 397.60,160.29 397.90,160.83 398.20,160.16 398.50,162.06 398.80,161.95 399.10,161.74 399.40,160.79 399.70,162.34 400.00,163.88 400.30,163.95 400.60,163.67 400.90,162.88 401.20,163.43 401.50,163.90 401.80,163.77 402.10,164.57 402.40,163.38 402.70,162.20 403.00,162.30 403.30,163.56 403.60,163.33 403.90,165.01 404.20,165.43 404.50,164.70 404.80,165.21 405.10,164.93 405.40,165.08 405.70,164.64 406.00,164.76 406.30,166.04 406.60,164.95 406.90,165.14 407.20,166.12 407.50,165.97 407.80,164.91 408.10,165.38 408.40,164.39 408.70,165.23 409.00,165.33 409.30,165.02 409.60,165.10 409.90,165.18 410.20,162.89 410.50,164.10 410.80,164.72 411.10,164.18 411.40,163.75 411.70,164.20 412.00,165.53 412.30,164.02 412.60,163.61 412.90,163.63 413.20,163.01 413.50,164.20 413.80,162.99 414.10,164.36 414.40,164.28 414.70,163.95 415.00,164.23 415.30,163.29 415.60,161.94 415.90,163.16 416.20,163.63 416.50,161.85 416.80,162.05 417.10,163.76 417.40,163.17 417.70,163.80 418.00,163.19 418.30,162.65 418.60,162.86 418.90,163.11 419.20,162.37 419.50,162.15 419.80,162.50 420.10,161.94 420.40,163.98 420.70,161.47 421.00,160.87 421.30,160.96 421.60,162.74 421.90,161.57 422.20,161.98 422.50,161.65 422.80,162.00 423.10,160.62 423.40,161.80 423.70,161.24 424.00,162.51 424.30,162.13 424.60,160.66 424.90,160.84 425.20,162.02 425.50,162.49 425.80,162.13 426.10,161.39 426.40,162.36 426.70,159.64 427.00,161.07 427.30,160.69 427.60,160.66 427.90,161.87 428.20,161.65 428.50,161.64 428.80,161.31 429.10,161.88 429.40,162.00 429.70,160.94 430.00,162.11 430.30,160.65 430.60,162.74 430.90,160.35 431.20,161.16 431.50,160.52 431.80,161.41 432.10,162.40 432.40,160.80 432.70,162.76 433.00,162.46 433.30,161.67 433.60,160.92 433.90,162.08 434.20,159.18 434.50,160.78 434.80,162.13 435.10,161.35 435.40,163.31 435.70,160.85 436.00,160.37 436.30,161.22 436.60,161.85 436.90,162.73 437.20,160.04 437.50,161.52 437.80,162.38 438.10,160.87 438.40,161.06 438.70,160.45 439.00,162.00 439.30,162.05 439.60,161.87 439.90,161.60 440.20,162.18 440.50,161.31 440.80,161.98 441.10,162.06 441.40,162.44 441.70,161.83 442.00,161.51 442.30,161.99 442.60,160.25 442.90,160.07 443.20,162.72 443.50,161.57 443.80,160.66 444.10,161.02 444.40,161.38 444.70,161.55 445.00,160.92 445.30,162.29 445.60,160.21 445.90,163.73 446.20,160.71 446.50,162.85 446.80,162.09 447.10,160.25 447.40,160.64 447.70,161.64 448.00,161.82 448.30,161.28 448.60,161.64 448.90,161.76 449.20,160.77 449.50,161.71 449.80,163.45 450.10,161.17 450.40,160.92 450.70,162.23 451.00,162.78 451.30,162.55 451.60,161.26 451.90,161.70 452.20,161.94 452.50,161.62 452.80,162.12 453.10,162.66 453.40,162.26 453.70,161.82 454.00,161.70 454.30,163.27 454.60,160.92 454.90,163.46 455.20,162.48 455.50,161.98 455.80,161.35 456.10,163.38 456.40,162.90 456.70,162.67 457.00,163.61 457.30,160.57 457.60,162.08 457.90,161.76 458.20,161.46 458.50,162.08 458.80,162.47 459.10,162.46 459.40,161.96 459.70,161.03 460.00,162.53 460.30,162.57 460.60,163.77 460.90,162.84 461.20,162.14 461.50,161.23 461.80,164.29 462.10,161.62 462.40,162.34 462.70,162.78 463.00,162.61 463.30,163.27 463.60,161.44 463.90,161.71 464.20,162.42 464.50,161.32 464.80,161.84 465.10,163.42 465.40,162.59 465.70,162.29 466.00,161.95 466.30,162.45 466.60,162.41 466.90,161.59 467.20,163.09 467.50,161.47 467.80,163.51 468.10,162.24 468.40,160.73 468.70,161.31 469.00,162.78 469.30,161.87 469.60,164.00 469.90,163.66 470.20,164.25 470.50,163.29 470.80,163.66 471.10,162.11 471.40,163.62 471.70,162.24 472.00,162.55 472.30,161.49 472.60,162.62 472.90,162.87 473.20,162.50 473.50,161.64 473.80,163.23 474.10,163.20 474.40,162.39 474.70,163.05 475.00,163.19 475.30,161.58 475.60,162.31 475.90,160.82 476.20,161.44 476.50,162.55 476.80,161.48 477.10,162.43 477.40,162.37 477.70,160.39 478.00,161.60 478.30,163.12 478.60,161.89 478.90,161.91 479.20,161.21 479.50,160.43 479.80,160.39 480.10,163.86 480.40,161.39 480.70,160.77 481.00,161.50 481.30,159.81 481.60,162.40 481.90,162.58 482.20,160.58 482.50,161.36 482.80,160.34 483.10,161.67 483.40,160.27 483.70,160.75 484.00,161.86 484.30,161.17 484.60,160.45 484.90,159.43 485.20,159.33 485.50,161.49 485.80,160.90 486.10,160.48 486.40,161.40 486.70,160.46 487.00,159.73 487.30,160.17 487.60,160.14 487.90,160.15 488.20,162.10 488.50,160.51 488.80,160.23 489.10,159.74 489.40,159.36 489.70,159.04 490.00,158.29 490.30,159.36 490.60,158.47 490.90,158.15 491.20,158.84 491.50,157.92 491.80,160.60 492.10,160.46 492.40,158.67 492.70,161.04 493.00,159.93 493.30,157.36 493.60,159.39 493.90,158.57 494.20,157.99 494.50,159.18 494.80,160.35 495.10,159.80 495.40,158.33 495.70,159.00 496.00,158.99 496.30,160.56 496.60,159.63 496.90,158.99 497.20,159.12 497.50,158.35 497.80,159.33 498.10,160.80 498.40,158.65 498.70,160.42 499.00,160.28 499.30,161.11 499.60,159.64 499.90,161.38 500.20,162.00 500.50,162.68 500.80,159.66 501.10,161.03 501.40,161.00 501.70,161.36 502.00,160.57 502.30,162.14 502.60,163.44 502.90,162.85 503.20,160.98 503.50,161.37 503.80,162.51 504.10,162.10 504.40,161.47 504.70,163.14 505.00,162.65 505.30,163.12 505.60,162.24 505.90,163.47 506.20,162.16 506.50,161.71 506.80,162.68 507.10,161.63 507.40,163.84 507.70,163.49 508.00,161.63 508.30,163.19 508.60,163.81 508.90,162.91 509.20,163.61 509.50,162.87 509.80,163.36 510.10,163.42 510.40,163.95 510.70,162.85 511.00,162.80 511.30,164.03 511.60,163.44 511.90,164.33 512.20,163.58 512.50,163.00 512.80,164.71 513.10,164.39 513.40,164.84 513.70,164.04 514.00,164.10 514.30,165.46 514.60,163.15 514.90,165.96 515.20,165.05 515.50,164.65 515.80,164.83 516.10,165.30 516.40,164.26 516.70,165.15 517.00,164.23 517.30,163.56 517.60,165.27 517.90,165.23 518.20,165.73 518.50,165.71 518.80,165.88 519.10,166.00 519.40,164.57 519.70,166.44 520.00,167.67 520.30,165.11 520.60,164.61 520.90,166.21 521.20,166.45 521.50,166.57 521.80,167.04 522.10,164.74 522.40,166.20 522.70,166.31 523.00,166.99 523.30,165.31 523.60,166.09 523.90,165.81 524.20,166.02 524.50,166.07 524.80,166.11 525.10,164.85 525.40,166.28 525.70,166.40 526.00,166.07 526.30,163.57 526.60,165.90 526.90,165.97 527.20,165.83 527.50,167.85 527.80,167.34 528.10,166.48 528.40,167.15 528.70,169.33 529.00,165.95 529.30,167.13 529.60,166.31 529.90,168.01 530.20,167.74 530.50,166.77 530.80,167.40 531.10,166.29 531.40,165.68 531.70,167.66 532.00,168.32 532.30,166.78 532.60,166.63 532.90,165.63 533.20,168.83 533.50,166.15 533.80,166.36 534.10,167.00 534.40,168.15 534.70,167.23 535.00,167.20 535.30,167.24 535.60,167.93 535.90,167.23 536.20,167.40 536.50,167.23 536.80,166.41 537.10,168.39 537.40,166.77 537.70,166.28 538.00,167.00 538.30,167.39 538.60,168.04 538.90,166.21 539.20,166.38 539.50,167.55 539.80,167.73 540.10,166.55 540.40,166.53 540.70,167.59 541.00,167.35 541.30,166.17 541.60,166.78 541.90,168.69 542.20,166.65 542.50,168.36 542.80,166.29 543.10,168.73 543.40,168.83 543.70,167.04 544.00,167.02 544.30,168.08 544.60,166.59 544.90,168.04 545.20,168.59 545.50,167.83 545.80,167.89 546.10,167.51 546.40,168.46 546.70,167.00 547.00,168.96 547.30,167.67 547.60,167.43 547.90,166.39 548.20,167.36 548.50,167.92 548.80,168.74 549.10,166.45 549.40,167.66 549.70,167.22 550.00,166.82 550.30,167.80 550.60,167.19 550.90,168.51 551.20,165.66 551.50,168.43 551.80,166.31 552.10,166.29 552.40,168.28 552.70,167.60 553.00,167.99 553.30,167.12 553.60,167.06 553.90,167.32 554.20,167.88 554.50,167.26 554.80,167.61 555.10,167.27 555.40,168.16 555.70,167.06 556.00,166.31 556.30,165.89 556.60,167.99 556.90,168.09 557.20,168.80 557.50,167.44 557.80,167.13 558.10,166.86 558.40,168.68 558.70,167.57 559.00,168.88 559.30,168.03 559.60,167.88 559.90,166.62 560.20,167.58 560.50,168.77 560.80,167.65 561.10,168.70 561.40,166.84 561.70,168.99 562.00,170.42 562.30,169.09 562.60,168.46 562.90,167.22 563.20,167.80 563.50,167.70 563.80,168.39 564.10,166.63 564.40,167.56 564.70,168.90 565.00,168.39 565.30,168.88 565.60,168.98 565.90,167.38 566.20,167.23 566.50,168.69 566.80,168.36 567.10,168.40 567.40,167.69 567.70,169.17 568.00,168.76 568.30,169.29 568.60,168.10 568.90,168.95 569.20,168.35 569.50,167.65 569.80,168.35 570.10,167.10 570.40,168.29 570.70,168.59 571.00,169.01 571.30,167.62 571.60,167.41 571.90,167.89 572.20,166.83 572.50,167.97 572.80,170.61 573.10,168.63 573.40,167.91 573.70,167.99 574.00,169.96 574.30,167.61 574.60,168.47 574.90,168.50 575.20,167.99 575.50,168.01 575.80,167.24 576.10,167.92 576.40,169.65 576.70,169.75 577.00,168.40 577.30,169.20 577.60,169.01 577.90,168.74 578.20,168.55 578.50,169.64 578.80,169.13 579.10,168.50 579.40,168.50 579.70,169.45 580.00,168.23 580.30,168.14 580.60,168.50 580.90,168.33 581.20,169.75 581.50,169.03 581.80,168.68 582.10,168.34 582.40,169.91 582.70,169.13 583.00,170.46 583.30,169.52 583.60,168.63 583.90,168.37 584.20,168.59 584.50,168.97 584.80,169.47 585.10,169.23 585.40,170.11 585.70,167.64 586.00,168.89 586.30,167.73 586.60,168.05 586.90,168.40 587.20,168.37 587.50,168.12 587.80,167.69 588.10,169.83 588.40,168.67 588.70,169.71 589.00,168.05 589.30,167.09 589.60,168.48 589.90,169.67 590.20,168.52 590.50,169.29 590.80,168.12 591.10,170.11 591.40,169.35 591.70,169.85 592.00,168.79 592.30,170.05 592.60,169.09 592.90,168.64 593.20,168.53 593.50,169.10 593.80,168.33 594.10,168.11 594.40,169.18 594.70,169.65 595.00,168.85 595.30,169.77 595.60,170.37 595.90,168.09 596.20,169.32 596.50,168.35 596.80,168.61 597.10,169.28 597.40,167.24 597.70,169.64 598.00,169.83 598.30,169.60 598.60,169.69 598.90,170.64 599.20,168.89 599.50,170.07 599.80,170.36 600.10,169.60 600.40,167.78 600.70,169.10 601.00,168.99 601.30,167.94 601.60,169.19 601.90,169.86 602.20,169.05 602.50,169.12 602.80,170.45 603.10,168.78 603.40,168.53 603.70,169.32 604.00,170.20 604.30,169.78 604.60,169.37 604.90,168.92 605.20,170.31 605.50,170.04 605.80,167.95 606.10,169.61 606.40,167.42 606.70,170.56 607.00,169.86 607.30,168.87 607.60,168.34 607.90,169.14 608.20,167.99 608.50,169.85 608.80,169.00 609.10,167.99 609.40,169.40 609.70,170.37 610.00,168.41 610.30,169.15 610.60,170.90 610.90,169.60 611.20,169.01 611.50,169.62 611.80,170.10 612.10,168.67 612.40,169.41 612.70,168.18 613.00,168.23 613.30,168.27 613.60,170.19 613.90,169.77 614.20,170.11 614.50,170.51 614.80,169.57 615.10,169.73 615.40,169.88 615.70,169.93 616.00,168.71 616.30,169.35 616.60,169.45 616.90,169.61 617.20,168.99 617.50,169.49 617.80,169.83 618.10,169.76 618.40,170.09 618.70,170.28 619.00,170.07 619.30,170.41 619.60,170.31 619.90,170.76 620.20,170.16 620.50,169.16 620.80,171.53 621.10,170.58 621.40,170.68 621.70,170.27 622.00,169.73 622.30,168.78 622.60,170.05 622.90,169.43 623.20,169.40 623.50,168.01 623.80,170.97 624.10,168.80 624.40,168.86 624.70,170.12 625.00,170.21 625.30,169.12 625.60,169.76 625.90,169.98 626.20,169.91 626.50,170.21 626.80,170.41 627.10,169.50 627.40,168.50 627.70,171.55 628.00,169.51 628.30,169.03 628.60,170.43 628.90,170.31 629.20,169.35 629.50,171.73 629.80,167.97 630.10,170.89 630.40,169.84 630.70,170.12 631.00,170.14 631.30,169.70 631.60,170.15 631.90,168.85 632.20,169.58 632.50,171.39 632.80,167.85 633.10,170.91 633.40,168.14 633.70,169.25 634.00,170.65 634.30,169.62 634.60,169.49 634.90,168.76 635.20,169.87 635.50,169.83 635.80,169.47 636.10,168.73 636.40,170.12 636.70,170.33 637.00,170.92 637.30,170.42 637.60,171.24 637.90,170.98 638.20,167.76 638.50,171.37 638.80,169.96 639.10,169.21 639.40,170.40 639.70,170.83 640.00,168.82 640.30,169.08 640.60,170.63 640.90,169.64 641.20,171.26 641.50,170.27 641.80,169.66 642.10,169.04 642.40,170.60 642.70,168.74 643.00,169.08 643.30,169.08 643.60,171.51 643.90,171.52 644.20,169.98 644.50,169.85 644.80,170.73 645.10,171.17 645.40,169.53 645.70,171.95 646.00,170.02 646.30,171.11 646.60,168.31 646.90,170.17 647.20,169.66 647.50,171.82 647.80,170.06 648.10,169.21 648.40,171.81 648.70,169.70 649.00,170.25 649.30,169.26 649.60,170.81 649.90,170.43 650.20,170.05 650.50,169.96 650.80,169.83 651.10,169.72 651.40,169.17 651.70,171.28 652.00,171.03 652.30,169.21 652.60,169.39 652.90,170.66 653.20,172.16 653.50,170.18 653.80,170.10 654.10,170.16 654.40,170.57 654.70,170.23 655.00,171.25 655.30,171.18 655.60,170.84 655.90,171.67 656.20,170.22 656.50,169.97 656.80,172.81 657.10,168.88 657.40,169.18 657.70,168.55 658.00,170.73 658.30,169.59 658.60,171.31 658.90,168.78 659.20,170.36 659.50,170.16 659.80,169.62 660.10,171.39 660.40,170.18 660.70,170.87 661.00,170.09 661.30,170.64 661.60,170.16 661.90,170.59 662.20,170.46 662.50,170.00 662.80,170.90 663.10,170.41 663.40,169.79 663.70,169.73 664.00,170.93 664.30,171.65 664.60,169.54 664.90,170.26 665.20,170.97 665.50,171.45 665.80,171.19 666.10,169.67 666.40,170.66 666.70,171.36 667.00,170.84 667.30,170.47 667.60,169.71 667.90,170.80 668.20,170.62 668.50,170.70 668.80,171.89 669.10,171.65 669.40,170.06 669.70,170.89 670.00,170.46 670.30,170.80 670.60,172.04 670.90,171.47 671.20,170.77 671.50,170.22 671.80,170.62 672.10,171.05 672.40,170.37 672.70,171.66 673.00,170.80 673.30,169.84 673.60,172.44 673.90,168.47 674.20,170.59 674.50,170.72 674.80,171.62 675.10,171.73 675.40,172.01 675.70,172.10 676.00,171.11 676.30,170.95 676.60,171.69 676.90,170.85 677.20,169.87 677.50,170.52 677.80,171.43 678.10,171.39 678.40,170.02 678.70,171.88 679.00,171.17 679.30,169.73 679.60,171.32 679.90,171.76 680.20,171.38 680.50,170.71 680.80,170.33 681.10,171.88 681.40,171.17 681.70,170.99 682.00,170.68"/>
<polyline fill="none" stroke="#2ea02e" stroke-width="1.70" stroke-linejoin="round" points="365.20,182.30 365.50,181.74 365.80,182.87 366.10,183.95 366.40,183.78 366.70,182.85 367.00,184.49 367.30,183.35 367.60,182.90 367.90,184.39 368.20,184.78 368.50,183.63 368.80,183.14 369.10,184.04 369.40,182.47 369.70,184.29 370.00,185.39 370.30,184.56 370.60,183.90 370.90,184.94 371.20,184.10 371.50,185.33 371.80,184.16 372.10,185.80 372.40,184.05 372.70,184.33 373.00,183.42 373.30,183.02 373.60,183.98 373.90,183.78 374.20,182.60 374.50,183.39 374.80,182.36 375.10,181.78 375.40,181.45 375.70,180.88 376.00,179.94 376.30,178.91 376.60,176.78 376.90,174.40 377.20,172.84 377.50,172.05 377.80,169.34 378.10,168.38 378.40,166.57 378.70,165.23 379.00,164.07 379.30,163.60 379.60,163.11 379.90,161.84 380.20,161.45 380.50,159.83 380.80,161.57 381.10,162.56 381.40,161.89 381.70,166.01 382.00,165.20 382.30,165.09 382.60,169.12 382.90,169.04 383.20,169.51 383.50,170.69 383.80,172.77 384.10,173.01 384.40,173.30 384.70,175.03 385.00,174.17 385.30,174.80 385.60,175.53 385.90,175.91 386.20,177.42 386.50,177.26 386.80,177.16 387.10,178.03 387.40,177.39 387.70,179.32 388.00,179.67 388.30,180.41 388.60,180.18 388.90,180.98 389.20,180.39 389.50,181.39 389.80,181.80 390.10,181.15 390.40,182.71 390.70,182.68 391.00,182.89 391.30,182.78 391.60,184.77 391.90,183.60 392.20,183.29 392.50,183.46 392.80,184.68 393.10,184.32 393.40,184.11 393.70,184.35 394.00,185.70 394.30,185.28 394.60,186.14 394.90,185.56 395.20,184.90 395.50,186.49 395.80,186.25 396.10,185.71 396.40,186.08 396.70,185.74 397.00,187.12 397.30,186.36 397.60,187.10 397.90,187.06 398.20,186.79 398.50,187.34 398.80,187.00 399.10,186.44 399.40,187.07 399.70,186.63 400.00,188.08 400.30,188.09 400.60,187.32 400.90,188.26 401.20,188.10 401.50,188.71 401.80,187.48 402.10,188.25 402.40,187.64 402.70,187.96 403.00,189.49 403.30,187.20 403.60,188.05 403.90,189.10 404.20,189.36 404.50,188.32 404.80,187.48 405.10,187.72 405.40,189.18 405.70,189.68 406.00,189.51 406.30,188.29 406.60,189.65 406.90,188.45 407.20,188.88 407.50,188.16 407.80,189.25 408.10,187.60 408.40,186.30 408.70,187.42 409.00,187.62 409.30,187.54 409.60,186.72 409.90,186.96 410.20,186.26 410.50,186.82 410.80,186.98 411.10,187.03 411.40,187.97 411.70,185.37 412.00,187.09 412.30,187.00 412.60,185.85 412.90,186.69 413.20,186.61 413.50,185.89 413.80,187.08 414.10,187.90 414.40,187.02 414.70,187.09 415.00,187.28 415.30,186.44 415.60,187.21 415.90,185.96 416.20,186.65 416.50,187.01 416.80,187.43 417.10,186.31 417.40,186.31 417.70,186.84 418.00,186.45 418.30,186.60 418.60,187.06 418.90,185.96 419.20,187.10 419.50,186.75 419.80,186.30 420.10,185.61 420.40,186.05 420.70,186.46 421.00,187.15 421.30,185.13 421.60,187.01 421.90,186.65 422.20,185.74 422.50,187.13 422.80,186.82 423.10,186.86 423.40,185.89 423.70,185.81 424.00,187.23 424.30,187.59 424.60,186.88 424.90,186.50 425.20,186.34 425.50,185.47 425.80,187.36 426.10,186.63 426.40,187.57 426.70,186.22 427.00,187.47 427.30,186.26 427.60,187.18 427.90,187.75 428.20,186.31 428.50,187.45 428.80,186.83 429.10,186.20 429.40,187.00 429.70,187.33 430.00,186.39 430.30,186.72 430.60,186.52 430.90,186.39 431.20,186.79 431.50,187.52 431.80,186.61 432.10,187.83 432.40,186.71 432.70,186.50 433.00,187.73 433.30,187.97 433.60,186.54 433.90,187.41 434.20,186.19 434.50,186.72 434.80,186.74 435.10,187.49 435.40,186.13 435.70,186.64 436.00,186.52 436.30,187.07 436.60,186.14 436.90,186.07 437.20,188.96 437.50,187.14 437.80,185.95 438.10,187.57 438.40,186.08 438.70,185.68 439.00,188.14 439.30,187.85 439.60,186.39 439.90,186.22 440.20,187.30 440.50,188.37 440.80,187.37 441.10,187.41 441.40,186.12 441.70,185.70 442.00,187.19 442.30,187.62 442.60,187.00 442.90,186.89 443.20,187.84 443.50,186.29 443.80,187.61 444.10,187.41 444.40,186.39 444.70,186.89 445.00,186.86 445.30,187.17 445.60,186.08 445.90,186.57 446.20,186.77 446.50,186.71 446.80,186.68 447.10,186.81 447.40,186.48 447.70,186.24 448.00,187.26 448.30,186.07 448.60,186.25 448.90,185.82 449.20,185.59 449.50,186.64 449.80,186.25 450.10,186.13 450.40,186.48 450.70,185.99 451.00,186.52 451.30,187.24 451.60,186.17 451.90,185.68 452.20,186.95 452.50,186.23 452.80,184.53 453.10,186.54 453.40,185.70 453.70,186.09 454.00,184.64 454.30,184.80 454.60,184.88 454.90,185.65 455.20,184.45 455.50,184.69 455.80,185.79 456.10,184.64 456.40,185.13 456.70,184.39 457.00,183.81 457.30,184.90 457.60,184.85 457.90,183.93 458.20,185.58 458.50,185.46 458.80,185.51 459.10,184.55 459.40,184.13 459.70,184.87 460.00,185.07 460.30,184.86 460.60,184.61 460.90,184.36 461.20,184.58 461.50,185.07 461.80,184.84 462.10,186.38 462.40,185.09 462.70,185.65 463.00,185.07 463.30,185.33 463.60,184.84 463.90,185.24 464.20,184.61 464.50,184.27 464.80,186.69 465.10,185.10 465.40,186.19 465.70,185.87 466.00,185.62 466.30,186.57 466.60,185.75 466.90,186.49 467.20,185.99 467.50,186.96 467.80,187.00 468.10,186.44 468.40,187.19 468.70,186.82 469.00,187.58 469.30,186.46 469.60,185.50 469.90,186.73 470.20,186.77 470.50,186.36 470.80,186.48 471.10,186.43 471.40,185.75 471.70,187.77 472.00,186.04 472.30,185.81 472.60,185.43 472.90,185.91 473.20,186.42 473.50,187.42 473.80,186.77 474.10,185.81 474.40,185.40 474.70,185.43 475.00,186.08 475.30,186.67 475.60,185.68 475.90,187.03 476.20,187.19 476.50,185.90 476.80,184.23 477.10,186.38 477.40,185.48 477.70,185.93 478.00,186.06 478.30,184.61 478.60,185.25 478.90,185.24 479.20,184.52 479.50,185.42 479.80,184.76 480.10,184.48 480.40,185.96 480.70,184.69 481.00,185.60 481.30,184.29 481.60,185.01 481.90,183.69 482.20,184.22 482.50,184.77 482.80,182.45 483.10,184.21 483.40,183.55 483.70,184.36 484.00,183.62 484.30,183.32 484.60,182.37 484.90,185.12 485.20,182.47 485.50,182.62 485.80,182.21 486.10,182.37 486.40,182.59 486.70,181.39 487.00,182.91 487.30,181.88 487.60,182.35 487.90,180.39 488.20,181.37 488.50,181.43 488.80,181.28 489.10,181.02 489.40,181.62 489.70,181.63 490.00,180.64 490.30,179.95 490.60,181.78 490.90,181.05 491.20,182.01 491.50,181.88 491.80,181.23 492.10,180.35 492.40,181.11 492.70,180.90 493.00,182.30 493.30,180.34 493.60,182.18 493.90,180.56 494.20,181.29 494.50,180.79 494.80,181.35 495.10,181.61 495.40,182.24 495.70,181.67 496.00,182.63 496.30,183.44 496.60,182.44 496.90,181.63 497.20,182.39 497.50,182.53 497.80,182.44 498.10,183.56 498.40,183.65 498.70,184.31 499.00,183.38 499.30,181.28 499.60,183.09 499.90,183.71 500.20,182.77 500.50,182.98 500.80,184.08 501.10,183.63 501.40,182.83 501.70,183.28 502.00,181.64 502.30,183.82 502.60,183.07 502.90,183.94 503.20,183.25 503.50,183.50 503.80,183.86 504.10,186.20 504.40,183.56 504.70,183.64 505.00,184.17 505.30,185.34 505.60,185.25 505.90,185.25 506.20,184.64 506.50,185.03 506.80,184.50 507.10,184.98 507.40,184.63 507.70,184.27 508.00,184.66 508.30,186.74 508.60,185.78 508.90,185.07 509.20,185.58 509.50,185.42 509.80,186.65 510.10,185.86 510.40,185.53 510.70,186.50 511.00,186.33 511.30,185.71 511.60,185.72 511.90,186.41 512.20,185.26 512.50,185.82 512.80,187.21 513.10,187.16 513.40,187.40 513.70,186.39 514.00,186.35 514.30,186.63 514.60,186.55 514.90,187.81 515.20,186.84 515.50,187.97 515.80,186.62 516.10,187.42 516.40,188.33 516.70,186.77 517.00,186.89 517.30,186.98 517.60,186.34 517.90,187.29 518.20,187.11 518.50,189.10 518.80,187.33 519.10,186.24 519.40,188.40 519.70,188.45 520.00,187.83 520.30,188.10 520.60,188.45 520.90,187.62 521.20,188.08 521.50,188.20 521.80,189.29 522.10,189.16 522.40,188.36 522.70,187.37 523.00,188.94 523.30,188.34 523.60,189.23 523.90,188.50 524.20,188.64 524.50,189.00 524.80,188.10 525.10,188.19 525.40,190.26 525.70,188.13 526.00,189.41 526.30,189.27 526.60,189.42 526.90,189.82 527.20,188.02 527.50,189.62 527.80,187.61 528.10,189.09 528.40,189.33 528.70,189.83 529.00,189.92 529.30,188.57 529.60,189.06 529.90,189.17 530.20,188.85 530.50,188.80 530.80,188.94 531.10,190.21 531.40,190.40 531.70,190.01 532.00,190.69 532.30,189.63 532.60,188.86 532.90,189.19 533.20,189.81 533.50,190.40 533.80,190.57 534.10,189.15 534.40,190.45 534.70,189.46 535.00,190.27 535.30,190.51 535.60,190.93 535.90,189.58 536.20,190.14 536.50,190.28 536.80,189.74 537.10,190.11 537.40,190.49 537.70,188.98 538.00,189.69 538.30,191.72 538.60,190.49 538.90,189.81 539.20,188.96 539.50,189.59 539.80,190.63 540.10,190.75 540.40,190.62 540.70,190.73 541.00,189.94 541.30,191.45 541.60,189.62 541.90,190.76 542.20,190.25 542.50,189.28 542.80,191.09 543.10,190.30 543.40,191.00 543.70,191.39 544.00,190.66 544.30,190.10 544.60,190.43 544.90,190.54 545.20,191.60 545.50,191.20 545.80,191.73 546.10,191.17 546.40,190.15 546.70,191.31 547.00,191.37 547.30,190.63 547.60,191.05 547.90,190.52 548.20,189.90 548.50,190.71 548.80,191.32 549.10,190.55 549.40,189.28 549.70,190.28 550.00,191.60 550.30,191.01 550.60,191.65 550.90,190.37 551.20,190.62 551.50,190.23 551.80,190.40 552.10,191.29 552.40,191.06 552.70,190.64 553.00,191.20 553.30,190.11 553.60,190.75 553.90,190.01 554.20,190.02 554.50,190.13 554.80,190.32 555.10,192.15 555.40,192.04 555.70,191.96 556.00,190.73 556.30,191.55 556.60,190.37 556.90,190.79 557.20,191.34 557.50,190.09 557.80,191.34 558.10,191.62 558.40,189.80 558.70,189.57 559.00,191.06 559.30,191.17 559.60,191.38 559.90,190.51 560.20,191.69 560.50,191.39 560.80,190.82 561.10,192.44 561.40,191.53 561.70,191.86 562.00,192.65 562.30,191.04 562.60,191.24 562.90,190.21 563.20,191.26 563.50,191.72 563.80,193.17 564.10,191.82 564.40,191.60 564.70,190.60 565.00,190.90 565.30,190.23 565.60,190.56 565.90,191.58 566.20,191.73 566.50,190.91 566.80,191.40 567.10,191.00 567.40,192.00 567.70,192.00 568.00,191.20 568.30,191.28 568.60,190.76 568.90,191.29 569.20,193.14 569.50,191.62 569.80,192.24 570.10,192.05 570.40,192.69 570.70,191.45 571.00,191.07 571.30,192.40 571.60,192.34 571.90,191.26 572.20,192.48 572.50,191.72 572.80,191.72 573.10,193.00 573.40,192.13 573.70,191.98 574.00,191.56 574.30,191.92 574.60,192.53 574.90,192.11 575.20,191.30 575.50,192.12 575.80,191.76 576.10,192.05 576.40,191.72 576.70,190.36 577.00,190.76 577.30,191.61 577.60,190.36 577.90,190.86 578.20,193.31 578.50,192.38 578.80,191.60 579.10,192.14 579.40,190.39 579.70,192.10 580.00,192.64 580.30,192.08 580.60,191.06 580.90,192.63 581.20,191.62 581.50,191.59 581.80,192.14 582.10,191.79 582.40,193.43 582.70,191.92 583.00,193.52 583.30,192.34 583.60,191.19 583.90,192.04 584.20,192.10 584.50,193.04 584.80,192.96 585.10,193.82 585.40,191.63 585.70,191.79 586.00,193.72 586.30,191.49 586.60,192.37 586.90,193.21 587.20,191.43 587.50,191.89 587.80,191.63 588.10,192.50 588.40,192.44 588.70,192.13 589.00,192.63 589.30,191.63 589.60,191.92 589.90,192.50 590.20,193.60 590.50,192.17 590.80,192.25 591.10,193.10 591.40,192.28 591.70,193.11 592.00,192.40 592.30,193.02 592.60,192.38 592.90,191.62 593.20,191.67 593.50,192.55 593.80,193.58 594.10,193.54 594.40,192.06 594.70,193.99 595.00,191.52 595.30,191.71 595.60,192.96 595.90,191.26 596.20,192.95 596.50,192.57 596.80,192.77 597.10,191.50 597.40,192.61 597.70,192.98 598.00,192.32 598.30,193.05 598.60,192.38 598.90,192.59 599.20,192.15 599.50,191.44 599.80,192.27 600.10,192.72 600.40,191.87 600.70,191.05 601.00,191.33 601.30,193.30 601.60,192.26 601.90,191.89 602.20,193.29 602.50,192.30 602.80,191.39 603.10,192.13 603.40,191.83 603.70,192.31 604.00,191.82 604.30,192.49 604.60,192.78 604.90,192.06 605.20,192.33 605.50,192.36 605.80,193.06 606.10,191.98 606.40,193.02 606.70,193.34 607.00,192.37 607.30,191.83 607.60,192.29 607.90,191.29 608.20,192.14 608.50,191.69 608.80,192.41 609.10,192.27 609.40,192.90 609.70,192.61 610.00,192.84 610.30,192.51 610.60,192.75 610.90,191.77 611.20,193.02 611.50,193.45 611.80,193.34 612.10,191.64 612.40,192.87 612.70,191.45 613.00,193.11 613.30,192.44 613.60,192.27 613.90,192.07 614.20,192.44 614.50,192.59 614.80,191.94 615.10,192.64 615.40,192.80 615.70,192.97 616.00,192.59 616.30,192.61 616.60,194.25 616.90,193.32 617.20,192.87 617.50,191.68 617.80,193.08 618.10,193.03 618.40,190.80 618.70,192.54 619.00,192.93 619.30,192.68 619.60,192.74 619.90,192.56 620.20,193.64 620.50,192.93 620.80,192.49 621.10,192.52 621.40,194.15 621.70,192.09 622.00,192.33 622.30,192.92 622.60,192.81 622.90,192.91 623.20,193.66 623.50,193.49 623.80,193.01 624.10,192.74 624.40,192.68 624.70,192.56 625.00,193.44 625.30,191.85 625.60,192.01 625.90,192.42 626.20,192.07 626.50,192.23 626.80,193.59 627.10,191.20 627.40,193.16 627.70,191.85 628.00,192.60 628.30,192.36 628.60,192.08 628.90,191.74 629.20,192.83 629.50,190.73 629.80,191.30 630.10,192.51 630.40,193.56 630.70,194.06 631.00,192.59 631.30,192.24 631.60,192.61 631.90,193.12 632.20,193.46 632.50,192.15 632.80,193.15 633.10,192.79 633.40,193.62 633.70,192.54 634.00,192.68 634.30,192.24 634.60,191.91 634.90,193.02 635.20,193.34 635.50,193.61 635.80,193.04 636.10,192.53 636.40,192.21 636.70,192.05 637.00,192.36 637.30,193.09 637.60,192.93 637.90,191.28 638.20,192.80 638.50,192.67 638.80,192.15 639.10,192.86 639.40,193.26 639.70,192.17 640.00,191.95 640.30,192.67 640.60,193.08 640.90,192.72 641.20,193.99 641.50,193.00 641.80,192.21 642.10,193.44 642.40,192.47 642.70,193.39 643.00,193.00 643.30,193.77 643.60,192.24 643.90,193.43 644.20,193.24 644.50,192.31 644.80,193.44 645.10,194.51 645.40,193.20 645.70,192.42 646.00,192.85 646.30,193.86 646.60,193.14 646.90,193.99 647.20,192.52 647.50,193.87 647.80,191.88 648.10,192.86 648.40,192.78 648.70,192.64 649.00,193.85 649.30,192.57 649.60,193.25 649.90,194.28 650.20,193.58 650.50,192.72 650.80,192.50 651.10,191.62 651.40,193.29 651.70,193.63 652.00,193.80 652.30,193.19 652.60,194.54 652.90,193.57 653.20,191.42 653.50,192.43 653.80,193.61 654.10,192.77 654.40,193.64 654.70,194.83 655.00,192.53 655.30,194.60 655.60,193.02 655.90,192.05 656.20,193.15 656.50,193.70 656.80,192.68 657.10,194.18 657.40,192.48 657.70,192.96 658.00,193.75 658.30,192.95 658.60,192.72 658.90,193.10 659.20,193.58 659.50,194.32 659.80,194.08 660.10,194.43 660.40,193.11 660.70,191.98 661.00,193.11 661.30,192.85 661.60,192.45 661.90,192.79 662.20,193.11 662.50,193.19 662.80,193.81 663.10,192.53 663.40,193.98 663.70,193.21 664.00,193.70 664.30,194.05 664.60,192.33 664.90,194.30 665.20,192.70 665.50,193.48 665.80,193.97 666.10,193.85 666.40,192.12 666.70,193.33 667.00,194.02 667.30,193.15 667.60,193.18 667.90,193.29 668.20,194.40 668.50,192.87 668.80,192.60 669.10,192.49 669.40,192.90 669.70,193.10 670.00,193.52 670.30,193.22 670.60,192.08 670.90,192.19 671.20,193.77 671.50,193.80 671.80,192.36 672.10,193.96 672.40,191.61 672.70,194.94 673.00,193.74 673.30,192.17 673.60,193.70 673.90,193.32 674.20,193.03 674.50,193.09 674.80,193.20 675.10,193.29 675.40,192.74 675.70,192.98 676.00,193.77 676.30,193.75 676.60,192.46 676.90,193.05 677.20,194.50 677.50,193.91 677.80,194.57 678.10,192.48 678.40,192.70 678.70,191.91 679.00,192.08 679.30,193.18 679.60,192.71 679.90,192.69 680.20,192.97 680.50,193.34 680.80,194.06 681.10,193.87 681.40,192.26 681.70,194.53 682.00,193.27"/>
<polyline fill="none" stroke="#ee9530" stroke-width="1.20" stroke-linejoin="round" points="365.20,222.84 365.50,223.27 365.80,223.10 366.10,222.65 366.40,223.97 366.70,223.00 367.00,222.99 367.30,223.50 367.60,224.00 367.90,223.46 368.20,222.83 368.50,223.43 368.80,223.73 369.10,223.40 369.40,223.51 369.70,223.00 370.00,223.18 370.30,222.45 370.60,222.88 370.90,222.69 371.20,223.20 371.50,223.87 371.80,222.18 372.10,222.59 372.40,222.76 372.70,223.14 373.00,223.70 373.30,222.82 373.60,222.81 373.90,223.71 374.20,223.33 374.50,223.39 374.80,223.52 375.10,222.78 375.40,223.08 375.70,222.33 376.00,221.51 376.30,220.57 376.60,219.07 376.90,217.03 377.20,217.03 377.50,218.32 377.80,219.32 378.10,220.88 378.40,221.53 378.70,222.05 379.00,223.16 379.30,223.26 379.60,221.78 379.90,223.47 380.20,222.74 380.50,223.38 380.80,223.79 381.10,222.95 381.40,222.63 381.70,223.18 382.00,223.10 382.30,223.31 382.60,222.42 382.90,223.16 383.20,223.44 383.50,223.35 383.80,223.31 384.10,223.57 384.40,222.65 384.70,223.57 385.00,223.10 385.30,222.55 385.60,222.86 385.90,223.11 386.20,223.13 386.50,223.58 386.80,223.05 387.10,222.73 387.40,223.94 387.70,222.80 388.00,222.57 388.30,223.35 388.60,222.74 388.90,222.56 389.20,222.43 389.50,223.43 389.80,222.41 390.10,222.93 390.40,222.67 390.70,222.78 391.00,222.48 391.30,222.91 391.60,223.11 391.90,223.30 392.20,222.65 392.50,222.28 392.80,222.12 393.10,222.78 393.40,221.65 393.70,223.36 394.00,222.76 394.30,222.79 394.60,222.09 394.90,222.41 395.20,222.36 395.50,222.98 395.80,222.48 396.10,222.93 396.40,222.87 396.70,221.76 397.00,222.50 397.30,223.17 397.60,222.35 397.90,222.63 398.20,222.50 398.50,221.99 398.80,223.51 399.10,222.45 399.40,222.78 399.70,222.28 400.00,223.10 400.30,222.97 400.60,222.97 400.90,222.85 401.20,222.72 401.50,223.02 401.80,222.56 402.10,222.42 402.40,222.71 402.70,221.93 403.00,221.17 403.30,222.66 403.60,222.35 403.90,221.95 404.20,222.12 404.50,221.80 404.80,221.83 405.10,222.28 405.40,222.23 405.70,222.53 406.00,222.10 406.30,222.41 406.60,222.41 406.90,221.77 407.20,221.30 407.50,221.74 407.80,221.91 408.10,221.77 408.40,222.98 408.70,221.66 409.00,222.16 409.30,221.58 409.60,222.21 409.90,221.32 410.20,222.29 410.50,221.92 410.80,221.63 411.10,221.26 411.40,222.52 411.70,221.49 412.00,222.37 412.30,220.62 412.60,221.13 412.90,222.47 413.20,222.43 413.50,221.61 413.80,222.03 414.10,221.83 414.40,221.36 414.70,221.56 415.00,220.95 415.30,220.85 415.60,221.48 415.90,221.72 416.20,221.44 416.50,220.79 416.80,221.69 417.10,221.32 417.40,221.59 417.70,221.09 418.00,221.07 418.30,221.64 418.60,221.75 418.90,220.56 419.20,220.56 419.50,221.47 419.80,221.16 420.10,221.00 420.40,220.49 420.70,221.36 421.00,220.95 421.30,220.94 421.60,220.98 421.90,220.54 422.20,220.92 422.50,220.77 422.80,221.00 423.10,220.81 423.40,220.03 423.70,220.26 424.00,220.42 424.30,221.03 424.60,220.18 424.90,220.95 425.20,220.89 425.50,220.77 425.80,221.35 426.10,220.30 426.40,220.41 426.70,220.78 427.00,220.38 427.30,220.61 427.60,220.06 427.90,220.73 428.20,220.21 428.50,219.16 428.80,220.46 429.10,219.86 429.40,219.50 429.70,219.73 430.00,219.69 430.30,220.30 430.60,219.89 430.90,219.68 431.20,219.66 431.50,219.23 431.80,219.29 432.10,219.34 432.40,219.40 432.70,218.94 433.00,219.23 433.30,219.83 433.60,219.53 433.90,219.29 434.20,219.39 434.50,219.09 434.80,218.61 435.10,219.50 435.40,220.07 435.70,219.24 436.00,219.27 436.30,220.02 436.60,218.32 436.90,219.05 437.20,218.61 437.50,218.59 437.80,217.91 438.10,218.58 438.40,218.74 438.70,217.79 439.00,218.35 439.30,218.18 439.60,217.89 439.90,218.57 440.20,218.97 440.50,218.36 440.80,218.57 441.10,218.40 441.40,217.96 441.70,218.20 442.00,218.47 442.30,217.62 442.60,217.67 442.90,217.07 443.20,216.77 443.50,217.19 443.80,217.89 444.10,217.58 444.40,217.46 444.70,217.87 445.00,216.41 445.30,217.76 445.60,217.11 445.90,217.35 446.20,217.55 446.50,216.50 446.80,216.39 447.10,216.90 447.40,216.62 447.70,216.32 448.00,216.44 448.30,216.10 448.60,216.41 448.90,216.11 449.20,216.97 449.50,215.66 449.80,216.31 450.10,216.01 450.40,216.61 450.70,215.39 451.00,215.52 451.30,216.44 451.60,215.28 451.90,215.33 452.20,215.23 452.50,214.90 452.80,215.80 453.10,215.85 453.40,215.01 453.70,214.66 454.00,214.29 454.30,215.12 454.60,214.49 454.90,214.89 455.20,213.46 455.50,214.27 455.80,214.64 456.10,214.46 456.40,212.88 456.70,214.21 457.00,214.03 457.30,213.87 457.60,213.62 457.90,213.49 458.20,213.64 458.50,213.70 458.80,211.94 459.10,213.26 459.40,213.57 459.70,212.95 460.00,213.48 460.30,212.41 460.60,213.57 460.90,213.03 461.20,212.29 461.50,213.59 461.80,212.89 462.10,212.83 462.40,211.46 462.70,211.83 463.00,211.96 463.30,212.10 463.60,211.53 463.90,210.79 464.20,211.79 464.50,211.03 464.80,211.16 465.10,210.69 465.40,210.63 465.70,209.93 466.00,210.69 466.30,209.96 466.60,209.28 466.90,210.12 467.20,209.75 467.50,210.04 467.80,209.81 468.10,208.74 468.40,209.03 468.70,208.94 469.00,208.81 469.30,208.13 469.60,208.45 469.90,208.68 470.20,208.62 470.50,208.54 470.80,208.04 471.10,206.40 471.40,207.21 471.70,206.91 472.00,205.65 472.30,207.47 472.60,207.00 472.90,206.41 473.20,206.38 473.50,206.25 473.80,205.74 474.10,206.27 474.40,206.29 474.70,205.64 475.00,204.83 475.30,205.01 475.60,205.15 475.90,204.85 476.20,204.02 476.50,204.58 476.80,204.29 477.10,204.04 477.40,203.40 477.70,203.40 478.00,202.37 478.30,203.04 478.60,202.67 478.90,202.57 479.20,202.39 479.50,202.20 479.80,202.21 480.10,202.04 480.40,201.53 480.70,201.58 481.00,201.41 481.30,201.49 481.60,201.28 481.90,200.74 482.20,200.34 482.50,199.81 482.80,199.78 483.10,200.35 483.40,199.56 483.70,200.51 484.00,199.54 484.30,199.26 484.60,199.18 484.90,198.83 485.20,198.61 485.50,198.75 485.80,197.89 486.10,198.43 486.40,198.15 486.70,197.63 487.00,198.33 487.30,197.87 487.60,198.03 487.90,197.09 488.20,196.67 488.50,196.56 488.80,196.22 489.10,195.96 489.40,197.36 489.70,196.31 490.00,196.46 490.30,196.00 490.60,196.03 490.90,196.66 491.20,195.03 491.50,195.25 491.80,195.61 492.10,195.02 492.40,195.61 492.70,195.77 493.00,195.48 493.30,195.32 493.60,194.82 493.90,195.26 494.20,194.39 494.50,194.17 494.80,194.53 495.10,194.51 495.40,195.15 495.70,194.17 496.00,195.13 496.30,194.28 496.60,194.08 496.90,193.93 497.20,194.71 497.50,194.14 497.80,194.93 498.10,194.92 498.40,194.79 498.70,194.19 499.00,194.90 499.30,195.42 499.60,194.51 499.90,195.73 500.20,195.54 500.50,195.41 500.80,195.86 501.10,196.18 501.40,196.01 501.70,195.81 502.00,196.64 502.30,196.13 502.60,196.74 502.90,197.16 503.20,197.46 503.50,197.74 503.80,197.65 504.10,197.41 504.40,197.42 504.70,197.77 505.00,198.10 505.30,199.38 505.60,198.53 505.90,198.07 506.20,199.33 506.50,198.15 506.80,199.52 507.10,198.72 507.40,199.02 507.70,199.52 508.00,199.84 508.30,199.61 508.60,200.73 508.90,200.64 509.20,201.54 509.50,200.73 509.80,200.61 510.10,201.98 510.40,201.82 510.70,202.61 511.00,201.36 511.30,202.12 511.60,202.96 511.90,204.03 512.20,202.85 512.50,202.81 512.80,203.69 513.10,204.76 513.40,205.08 513.70,203.99 514.00,204.55 514.30,204.23 514.60,204.90 514.90,205.08 515.20,205.93 515.50,206.48 515.80,207.28 516.10,206.29 516.40,207.05 516.70,207.02 517.00,207.21 517.30,208.26 517.60,207.95 517.90,208.57 518.20,208.24 518.50,208.73 518.80,208.81 519.10,208.77 519.40,208.73 519.70,209.10 520.00,209.51 520.30,209.56 520.60,209.80 520.90,209.87 521.20,210.78 521.50,210.50 521.80,210.77 522.10,210.94 522.40,211.83 522.70,211.20 523.00,212.27 523.30,211.44 523.60,212.69 523.90,212.46 524.20,212.14 524.50,212.73 524.80,213.21 525.10,212.44 525.40,212.93 525.70,213.33 526.00,213.26 526.30,213.39 526.60,213.68 526.90,213.97 527.20,214.33 527.50,214.79 527.80,214.13 528.10,215.73 528.40,214.42 528.70,215.50 529.00,214.79 529.30,214.34 529.60,214.93 529.90,215.11 530.20,215.87 530.50,214.62 530.80,215.37 531.10,215.72 531.40,216.20 531.70,216.20 532.00,216.53 532.30,216.20 532.60,216.28 532.90,217.04 533.20,217.39 533.50,216.90 533.80,216.91 534.10,216.57 534.40,218.00 534.70,217.34 535.00,217.54 535.30,216.65 535.60,217.74 535.90,218.65 536.20,217.59 536.50,217.67 536.80,218.55 537.10,217.87 537.40,218.42 537.70,218.99 538.00,217.69 538.30,217.94 538.60,218.70 538.90,218.53 539.20,218.57 539.50,218.56 539.80,218.77 540.10,218.94 540.40,218.64 540.70,218.80 541.00,219.09 541.30,218.57 541.60,219.31 541.90,218.19 542.20,219.51 542.50,219.22 542.80,218.80 543.10,219.98 543.40,218.90 543.70,220.39 544.00,219.18 544.30,220.09 544.60,219.56 544.90,220.35 545.20,219.57 545.50,220.16 545.80,219.59 546.10,218.94 546.40,219.98 546.70,220.05 547.00,220.05 547.30,220.64 547.60,219.59 547.90,219.32 548.20,220.09 548.50,219.70 548.80,219.99 549.10,220.06 549.40,219.72 549.70,220.60 550.00,220.08 550.30,220.96 550.60,220.30 550.90,220.69 551.20,220.11 551.50,219.98 551.80,220.06 552.10,219.94 552.40,220.56 552.70,220.45 553.00,219.93 553.30,219.76 553.60,220.09 553.90,219.70 554.20,220.15 554.50,219.90 554.80,220.93 555.10,220.13 555.40,220.42 555.70,220.66 556.00,220.76 556.30,220.96 556.60,221.15 556.90,221.13 557.20,220.72 557.50,221.46 557.80,221.10 558.10,220.65 558.40,221.66 558.70,220.49 559.00,221.26 559.30,221.64 559.60,221.16 559.90,221.29 560.20,221.22 560.50,221.48 560.80,221.31 561.10,221.24 561.40,221.58 561.70,220.44 562.00,221.42 562.30,221.20 562.60,222.23 562.90,221.50 563.20,221.10 563.50,221.71 563.80,221.26 564.10,220.92 564.40,221.35 564.70,221.71 565.00,222.03 565.30,221.98 565.60,221.63 565.90,221.47 566.20,221.65 566.50,222.12 566.80,221.53 567.10,222.12 567.40,221.26 567.70,221.63 568.00,221.99 568.30,221.97 568.60,221.76 568.90,221.46 569.20,220.90 569.50,221.52 569.80,221.35 570.10,221.56 570.40,222.46 570.70,221.42 571.00,222.16 571.30,221.78 571.60,221.31 571.90,221.87 572.20,222.16 572.50,221.31 572.80,221.34 573.10,221.70 573.40,222.20 573.70,221.62 574.00,222.09 574.30,222.12 574.60,221.93 574.90,222.14 575.20,222.51 575.50,221.87 575.80,222.11 576.10,221.51 576.40,221.67 576.70,221.96 577.00,222.37 577.30,221.72 577.60,221.42 577.90,222.46 578.20,223.11 578.50,220.92 578.80,221.60 579.10,222.14 579.40,222.31 579.70,221.68 580.00,222.26 580.30,222.61 580.60,222.01 580.90,222.47 581.20,222.21 581.50,221.75 581.80,221.90 582.10,221.91 582.40,222.78 582.70,222.71 583.00,222.31 583.30,221.52 583.60,222.01 583.90,222.05 584.20,221.39 584.50,222.24 584.80,222.38 585.10,221.67 585.40,222.08 585.70,222.08 586.00,223.10 586.30,222.59 586.60,222.64 586.90,222.35 587.20,221.75 587.50,222.74 587.80,222.03 588.10,221.48 588.40,222.67 588.70,222.20 589.00,222.36 589.30,222.60 589.60,222.27 589.90,222.56 590.20,222.96 590.50,222.25 590.80,222.24 591.10,222.41 591.40,222.70 591.70,222.24 592.00,222.46 592.30,222.13 592.60,222.40 592.90,222.68 593.20,222.09 593.50,222.37 593.80,221.82 594.10,222.16 594.40,222.51 594.70,222.71 595.00,222.03 595.30,222.44 595.60,222.08 595.90,222.64 596.20,222.62 596.50,222.71 596.80,222.42 597.10,221.89 597.40,222.28 597.70,221.93 598.00,222.23 598.30,222.51 598.60,223.02 598.90,222.26 599.20,222.21 599.50,222.65 599.80,221.65 600.10,223.45 600.40,221.89 600.70,223.02 601.00,223.01 601.30,223.01 601.60,222.54 601.90,222.91 602.20,222.44 602.50,223.02 602.80,222.31 603.10,222.24 603.40,222.77 603.70,222.41 604.00,222.91 604.30,222.23 604.60,222.74 604.90,222.19 605.20,222.58 605.50,223.58 605.80,222.16 606.10,222.09 606.40,221.93 606.70,222.54 607.00,223.35 607.30,222.44 607.60,223.06 607.90,222.57 608.20,222.38 608.50,223.55 608.80,223.13 609.10,221.84 609.40,222.23 609.70,222.85 610.00,222.95 610.30,222.57 610.60,222.81 610.90,222.91 611.20,222.52 611.50,223.12 611.80,222.31 612.10,223.02 612.40,223.08 612.70,222.77 613.00,222.54 613.30,222.68 613.60,221.72 613.90,222.80 614.20,222.07 614.50,221.80 614.80,223.03 615.10,222.29 615.40,222.85 615.70,222.72 616.00,221.93 616.30,222.30 616.60,222.59 616.90,222.91 617.20,222.74 617.50,222.15 617.80,222.48 618.10,222.76 618.40,222.16 618.70,222.52 619.00,222.47 619.30,221.77 619.60,223.47 619.90,223.10 620.20,222.51 620.50,223.14 620.80,222.26 621.10,223.40 621.40,222.56 621.70,222.78 622.00,222.47 622.30,222.76 622.60,222.86 622.90,222.74 623.20,222.36 623.50,223.06 623.80,222.97 624.10,222.72 624.40,223.18 624.70,222.40 625.00,223.28 625.30,222.65 625.60,223.39 625.90,222.53 626.20,222.61 626.50,222.82 626.80,223.20 627.10,223.36 627.40,222.53 627.70,222.40 628.00,223.06 628.30,223.27 628.60,223.03 628.90,222.58 629.20,223.28 629.50,222.71 629.80,222.80 630.10,223.00 630.40,222.48 630.70,221.72 631.00,222.82 631.30,223.04 631.60,222.91 631.90,222.96 632.20,222.79 632.50,223.18 632.80,222.77 633.10,223.38 633.40,222.74 633.70,223.07 634.00,222.48 634.30,222.85 634.60,222.91 634.90,222.78 635.20,223.39 635.50,222.74 635.80,223.21 636.10,222.87 636.40,223.19 636.70,222.32 637.00,222.56 637.30,223.14 637.60,222.36 637.90,222.89 638.20,222.96 638.50,222.80 638.80,222.90 639.10,222.95 639.40,222.61 639.70,222.89 640.00,222.49 640.30,222.51 640.60,222.02 640.90,222.66 641.20,221.97 641.50,222.72 641.80,222.80 642.10,222.23 642.40,222.74 642.70,222.83 643.00,222.55 643.30,222.30 643.60,222.66 643.90,222.89 644.20,223.11 644.50,223.56 644.80,221.84 645.10,222.85 645.40,222.89 645.70,222.42 646.00,222.84 646.30,223.63 646.60,222.75 646.90,223.30 647.20,223.16 647.50,222.50 647.80,221.69 648.10,223.21 648.40,223.37 648.70,221.91 649.00,222.61 649.30,222.39 649.60,222.78 649.90,222.72 650.20,223.19 650.50,222.43 650.80,223.53 651.10,221.93 651.40,222.79 651.70,223.88 652.00,222.65 652.30,222.97 652.60,222.48 652.90,224.15 653.20,223.08 653.50,222.53 653.80,221.86 654.10,222.78 654.40,223.01 654.70,221.78 655.00,222.48 655.30,222.94 655.60,221.64 655.90,222.60 656.20,222.00 656.50,222.09 656.80,222.86 657.10,223.19 657.40,223.19 657.70,222.40 658.00,222.91 658.30,221.90 658.60,222.04 658.90,222.93 659.20,222.51 659.50,222.23 659.80,221.87 660.10,222.58 660.40,223.66 660.70,221.79 661.00,222.23 661.30,223.19 661.60,221.85 661.90,222.41 662.20,222.72 662.50,223.19 662.80,222.66 663.10,223.50 663.40,222.68 663.70,222.64 664.00,222.88 664.30,222.85 664.60,222.04 664.90,222.27 665.20,222.59 665.50,222.85 665.80,222.16 666.10,222.38 666.40,222.37 666.70,222.85 667.00,222.51 667.30,222.97 667.60,222.87 667.90,222.29 668.20,222.57 668.50,222.15 668.80,222.75 669.10,223.07 669.40,222.28 669.70,221.92 670.00,222.94 670.30,222.58 670.60,222.70 670.90,222.92 671.20,222.88 671.50,223.13 671.80,222.52 672.10,221.74 672.40,222.51 672.70,222.59 673.00,222.55 673.30,222.90 673.60,222.62 673.90,223.31 674.20,222.46 674.50,222.73 674.80,222.58 675.10,223.68 675.40,222.32 675.70,222.30 676.00,222.58 676.30,223.09 676.60,222.75 676.90,222.67 677.20,222.11 677.50,221.83 677.80,222.67 678.10,222.66 678.40,223.54 678.70,222.93 679.00,222.96 679.30,223.21 679.60,222.38 679.90,222.23 680.20,222.62 680.50,223.45 680.80,223.22 681.10,222.53 681.40,222.25 681.70,223.21 682.00,223.28"/>
<polyline fill="none" stroke="#a030f0" stroke-width="1.20" stroke-linejoin="round" points="365.20,240.59 365.50,241.78 365.80,240.72 366.10,241.38 366.40,240.95 366.70,240.89 367.00,240.75 367.30,241.32 367.60,241.28 367.90,241.35 368.20,240.86 368.50,240.60 368.80,241.93 369.10,241.71 369.40,240.86 369.70,240.43 370.00,241.60 370.30,240.98 370.60,240.93 370.90,241.27 371.20,241.05 371.50,240.93 371.80,241.76 372.10,240.03 372.40,241.14 372.70,240.39 373.00,240.75 373.30,240.28 373.60,239.57 373.90,236.72 374.20,236.04 374.50,235.41 374.80,234.35 375.10,236.10 375.40,237.61 375.70,238.94 376.00,239.60 376.30,240.65 376.60,240.72 376.90,241.31 377.20,241.06 377.50,240.37 377.80,239.37 378.10,241.34 378.40,240.88 378.70,240.73 379.00,240.37 379.30,241.74 379.60,241.22 379.90,240.66 380.20,240.44 380.50,240.85 380.80,241.19 381.10,240.80 381.40,240.99 381.70,240.67 382.00,240.70 382.30,239.97 382.60,240.58 382.90,240.54 383.20,240.47 383.50,240.39 383.80,240.62 384.10,240.22 384.40,240.38 384.70,239.88 385.00,241.48 385.30,240.04 385.60,239.89 385.90,240.18 386.20,240.22 386.50,239.92 386.80,239.29 387.10,241.10 387.40,240.82 387.70,240.19 388.00,240.60 388.30,239.84 388.60,239.60 388.90,240.46 389.20,240.56 389.50,239.99 389.80,240.28 390.10,238.91 390.40,240.21 390.70,240.72 391.00,240.32 391.30,240.31 391.60,240.48 391.90,239.28 392.20,239.62 392.50,239.63 392.80,240.29 393.10,239.89 393.40,239.31 393.70,240.54 394.00,240.05 394.30,240.57 394.60,241.01 394.90,239.37 395.20,239.52 395.50,240.56 395.80,240.70 396.10,240.24 396.40,240.21 396.70,240.35 397.00,240.33 397.30,239.46 397.60,240.35 397.90,240.45 398.20,239.81 398.50,239.58 398.80,239.76 399.10,239.71 399.40,240.20 399.70,240.30 400.00,239.96 400.30,239.80 400.60,239.14 400.90,239.73 401.20,239.47 401.50,239.66 401.80,240.05 402.10,239.96 402.40,241.45 402.70,239.49 403.00,239.63 403.30,239.35 403.60,239.74 403.90,239.72 404.20,240.29 404.50,238.96 404.80,240.23 405.10,240.10 405.40,239.57 405.70,239.49 406.00,239.88 406.30,240.01 406.60,239.70 406.90,239.69 407.20,239.76 407.50,239.26 407.80,239.86 408.10,239.98 408.40,239.74 408.70,239.20 409.00,239.70 409.30,239.64 409.60,239.82 409.90,239.48 410.20,240.03 410.50,240.13 410.80,240.00 411.10,239.72 411.40,240.15 411.70,239.58 412.00,239.51 412.30,238.93 412.60,239.57 412.90,240.08 413.20,239.10 413.50,239.86 413.80,238.93 414.10,239.62 414.40,240.28 414.70,239.47 415.00,238.92 415.30,239.54 415.60,239.34 415.90,239.74 416.20,239.13 416.50,238.57 416.80,239.11 417.10,239.57 417.40,239.74 417.70,239.39 418.00,239.25 418.30,239.52 418.60,239.11 418.90,238.97 419.20,239.25 419.50,239.61 419.80,238.88 420.10,239.29 420.40,238.77 420.70,238.69 421.00,239.07 421.30,238.37 421.60,238.57 421.90,238.38 422.20,238.62 422.50,238.45 422.80,239.87 423.10,239.08 423.40,238.81 423.70,238.15 424.00,237.67 424.30,238.89 424.60,238.39 424.90,239.10 425.20,238.43 425.50,237.99 425.80,238.27 426.10,237.83 426.40,237.86 426.70,238.77 427.00,238.19 427.30,238.70 427.60,238.11 427.90,238.22 428.20,238.05 428.50,238.01 428.80,237.94 429.10,238.86 429.40,238.14 429.70,237.25 430.00,238.84 430.30,238.61 430.60,238.52 430.90,237.94 431.20,237.88 431.50,237.70 431.80,237.93 432.10,238.05 432.40,237.80 432.70,237.39 433.00,237.30 433.30,238.43 433.60,238.39 433.90,237.05 434.20,237.29 434.50,237.51 434.80,237.75 435.10,237.39 435.40,237.51 435.70,237.52 436.00,237.82 436.30,236.69 436.60,237.72 436.90,237.38 437.20,237.38 437.50,236.42 437.80,236.96 438.10,236.89 438.40,237.25 438.70,237.22 439.00,237.17 439.30,236.24 439.60,237.33 439.90,236.75 440.20,237.09 440.50,236.62 440.80,236.27 441.10,237.70 441.40,236.77 441.70,236.76 442.00,236.17 442.30,236.22 442.60,236.76 442.90,236.41 443.20,236.93 443.50,236.64 443.80,235.58 444.10,235.30 444.40,236.45 444.70,236.15 445.00,235.71 445.30,235.63 445.60,235.47 445.90,236.45 446.20,235.52 446.50,234.91 446.80,235.87 447.10,235.37 447.40,235.51 447.70,235.12 448.00,235.22 448.30,234.33 448.60,235.35 448.90,234.74 449.20,234.83 449.50,235.06 449.80,235.43 450.10,233.83 450.40,234.68 450.70,234.91 451.00,235.05 451.30,234.13 451.60,234.62 451.90,234.59 452.20,234.75 452.50,233.99 452.80,234.13 453.10,233.90 453.40,234.57 453.70,234.48 454.00,233.74 454.30,233.79 454.60,233.88 454.90,233.30 455.20,233.59 455.50,233.95 455.80,233.83 456.10,233.10 456.40,233.06 456.70,233.20 457.00,232.55 457.30,233.23 457.60,233.08 457.90,232.33 458.20,232.76 458.50,232.47 458.80,232.58 459.10,232.21 459.40,233.11 459.70,231.99 460.00,232.68 460.30,232.34 460.60,232.80 460.90,232.04 461.20,231.99 461.50,231.91 461.80,230.99 462.10,232.77 462.40,231.52 462.70,231.36 463.00,230.93 463.30,231.24 463.60,231.91 463.90,230.76 464.20,231.20 464.50,231.36 464.80,231.20 465.10,230.49 465.40,229.82 465.70,230.63 466.00,230.58 466.30,230.06 466.60,229.90 466.90,230.74 467.20,229.15 467.50,229.46 467.80,229.30 468.10,228.71 468.40,228.99 468.70,228.78 469.00,229.54 469.30,228.07 469.60,228.13 469.90,228.68 470.20,227.76 470.50,227.37 470.80,227.86 471.10,227.43 471.40,227.41 471.70,227.60 472.00,227.73 472.30,227.08 472.60,227.12 472.90,227.39 473.20,226.87 473.50,227.11 473.80,226.39 474.10,226.70 474.40,226.90 474.70,225.57 475.00,227.34 475.30,225.76 475.60,225.64 475.90,225.56 476.20,225.70 476.50,224.82 476.80,225.26 477.10,224.83 477.40,225.59 477.70,224.07 478.00,225.01 478.30,224.46 478.60,224.18 478.90,224.43 479.20,224.17 479.50,224.17 479.80,224.16 480.10,224.48 480.40,223.67 480.70,224.47 481.00,222.46 481.30,224.31 481.60,223.91 481.90,223.96 482.20,223.25 482.50,223.17 482.80,222.51 483.10,223.42 483.40,222.24 483.70,222.26 484.00,222.54 484.30,222.53 484.60,222.50 484.90,221.73 485.20,222.04 485.50,222.32 485.80,222.56 486.10,222.32 486.40,222.11 486.70,221.76 487.00,221.62 487.30,221.58 487.60,221.76 487.90,222.01 488.20,221.57 488.50,222.70 488.80,221.38 489.10,222.18 489.40,221.78 489.70,221.84 490.00,221.81 490.30,222.71 490.60,221.98 490.90,222.41 491.20,222.32 491.50,222.68 491.80,222.71 492.10,223.29 492.40,222.36 492.70,222.41 493.00,223.64 493.30,223.60 493.60,223.21 493.90,223.17 494.20,223.56 494.50,224.16 494.80,223.41 495.10,224.52 495.40,224.01 495.70,224.01 496.00,224.18 496.30,223.55 496.60,224.79 496.90,224.21 497.20,224.74 497.50,224.71 497.80,225.39 498.10,225.75 498.40,225.62 498.70,225.82 499.00,226.08 499.30,226.76 499.60,226.46 499.90,227.06 500.20,226.50 500.50,226.84 500.80,226.59 501.10,227.29 501.40,226.85 501.70,227.59 502.00,227.31 502.30,227.59 502.60,228.47 502.90,228.19 503.20,228.67 503.50,228.41 503.80,227.93 504.10,229.56 504.40,229.04 504.70,229.00 505.00,229.91 505.30,229.18 505.60,229.58 505.90,230.59 506.20,229.99 506.50,230.97 506.80,230.55 507.10,230.76 507.40,231.08 507.70,231.00 508.00,231.88 508.30,232.08 508.60,231.82 508.90,232.22 509.20,232.37 509.50,233.04 509.80,231.80 510.10,233.07 510.40,233.17 510.70,232.78 511.00,233.09 511.30,233.06 511.60,233.89 511.90,232.97 512.20,233.88 512.50,234.31 512.80,234.11 513.10,233.76 513.40,233.91 513.70,233.26 514.00,233.90 514.30,234.92 514.60,234.16 514.90,233.91 515.20,234.66 515.50,234.19 515.80,235.16 516.10,234.66 516.40,235.57 516.70,235.19 517.00,234.75 517.30,235.08 517.60,235.26 517.90,235.22 518.20,236.23 518.50,235.32 518.80,236.02 519.10,235.67 519.40,236.28 519.70,235.45 520.00,235.52 520.30,236.47 520.60,236.94 520.90,235.77 521.20,236.34 521.50,236.30 521.80,236.22 522.10,237.10 522.40,236.77 522.70,236.18 523.00,236.79 523.30,237.53 523.60,236.71 523.90,236.83 524.20,236.79 524.50,237.26 524.80,237.03 525.10,237.71 525.40,237.03 525.70,236.78 526.00,237.70 526.30,236.13 526.60,237.23 526.90,237.80 527.20,237.85 527.50,237.53 527.80,237.67 528.10,238.13 528.40,239.54 528.70,237.64 529.00,237.99 529.30,237.89 529.60,238.40 529.90,238.20 530.20,238.49 530.50,239.02 530.80,238.23 531.10,238.24 531.40,238.59 531.70,239.40 532.00,238.36 532.30,239.29 532.60,239.09 532.90,237.38 533.20,238.24 533.50,238.24 533.80,238.90 534.10,239.35 534.40,238.83 534.70,238.90 535.00,239.79 535.30,239.05 535.60,239.84 535.90,238.55 536.20,239.69 536.50,238.78 536.80,238.02 537.10,238.69 537.40,238.90 537.70,239.10 538.00,239.48 538.30,239.48 538.60,239.43 538.90,238.88 539.20,240.02 539.50,239.81 539.80,239.32 540.10,239.06 540.40,239.33 540.70,239.26 541.00,239.10 541.30,239.40 541.60,239.16 541.90,239.74 542.20,239.21 542.50,239.71 542.80,239.67 543.10,239.61 543.40,239.79 543.70,239.12 544.00,240.71 544.30,239.31 544.60,239.97 544.90,239.67 545.20,239.51 545.50,240.48 545.80,240.19 546.10,239.60 546.40,240.00 546.70,240.06 547.00,240.46 547.30,240.24 547.60,239.74 547.90,239.70 548.20,239.34 548.50,239.95 548.80,240.23 549.10,239.68 549.40,240.16 549.70,239.94 550.00,239.70 550.30,239.35 550.60,240.39 550.90,241.05 551.20,240.16 551.50,239.44 551.80,239.51 552.10,240.05 552.40,240.24 552.70,240.63 553.00,238.94 553.30,240.79 553.60,240.05 553.90,240.03 554.20,240.15 554.50,239.82 554.80,239.88 555.10,240.46 555.40,239.27 555.70,239.94 556.00,240.25 556.30,239.26 556.60,239.95 556.90,240.70 557.20,240.18 557.50,240.33 557.80,240.33 558.10,240.12 558.40,240.19 558.70,239.66 559.00,239.95 559.30,240.86 559.60,239.52 559.90,239.96 560.20,239.51 560.50,239.80 560.80,239.72 561.10,239.49 561.40,240.16 561.70,239.63 562.00,240.29 562.30,240.87 562.60,238.98 562.90,239.99 563.20,239.19 563.50,240.02 563.80,240.25 564.10,240.18 564.40,240.61 564.70,240.16 565.00,239.37 565.30,240.78 565.60,239.71 565.90,240.07 566.20,240.27 566.50,239.73 566.80,240.18 567.10,240.81 567.40,239.43 567.70,239.39 568.00,239.97 568.30,240.08 568.60,239.62 568.90,239.13 569.20,240.57 569.50,240.35 569.80,239.62 570.10,240.44 570.40,240.17 570.70,240.27 571.00,239.64 571.30,240.11 571.60,240.42 571.90,239.43 572.20,239.78 572.50,240.66 572.80,241.09 573.10,240.53 573.40,240.22 573.70,239.76 574.00,240.08 574.30,240.14 574.60,240.46 574.90,240.15 575.20,241.34 575.50,240.87 575.80,239.35 576.10,239.76 576.40,240.30 576.70,240.74 577.00,240.48 577.30,239.06 577.60,239.61 577.90,240.92 578.20,240.58 578.50,241.47 578.80,240.68 579.10,240.54 579.40,241.00 579.70,240.14 580.00,240.12 580.30,239.89 580.60,240.47 580.90,240.56 581.20,240.77 581.50,241.02 581.80,240.65 582.10,240.93 582.40,240.28 582.70,239.95 583.00,240.71 583.30,240.85 583.60,240.98 583.90,240.33 584.20,240.21 584.50,240.25 584.80,240.58 585.10,240.40 585.40,240.35 585.70,240.54 586.00,240.31 586.30,240.59 586.60,240.19 586.90,239.75 587.20,240.32 587.50,241.31 587.80,240.12 588.10,240.87 588.40,241.05 588.70,240.23 589.00,240.59 589.30,239.45 589.60,240.73 589.90,241.18 590.20,240.58 590.50,239.60 590.80,240.26 591.10,240.17 591.40,240.56 591.70,240.64 592.00,240.34 592.30,240.38 592.60,240.18 592.90,240.79 593.20,240.62 593.50,240.69 593.80,240.33 594.10,240.77 594.40,240.42 594.70,240.69 595.00,240.49 595.30,240.26 595.60,240.10 595.90,239.73 596.20,239.99 596.50,240.78 596.80,241.99 597.10,239.84 597.40,240.24 597.70,240.59 598.00,242.14 598.30,240.50 598.60,240.10 598.90,240.79 599.20,241.51 599.50,239.35 599.80,240.12 600.10,241.18 600.40,240.13 600.70,240.58 601.00,240.36 601.30,240.98 601.60,240.01 601.90,240.78 602.20,240.74 602.50,240.90 602.80,240.84 603.10,240.73 603.40,239.90 603.70,240.52 604.00,240.26 604.30,240.91 604.60,240.58 604.90,240.75 605.20,241.16 605.50,240.64 605.80,241.42 606.10,241.07 606.40,240.06 606.70,240.44 607.00,241.23 607.30,240.48 607.60,241.23 607.90,240.46 608.20,240.67 608.50,241.18 608.80,240.04 609.10,240.76 609.40,240.54 609.70,240.81 610.00,241.48 610.30,240.96 610.60,240.16 610.90,241.18 611.20,240.56 611.50,240.83 611.80,241.26 612.10,240.62 612.40,241.18 612.70,240.85 613.00,240.38 613.30,240.64 613.60,240.19 613.90,241.32 614.20,240.86 614.50,241.23 614.80,240.31 615.10,241.18 615.40,240.28 615.70,240.93 616.00,240.80 616.30,240.54 616.60,240.95 616.90,240.83 617.20,240.44 617.50,240.49 617.80,240.26 618.10,241.45 618.40,240.90 618.70,240.67 619.00,241.14 619.30,240.45 619.60,240.34 619.90,241.01 620.20,241.54 620.50,240.99 620.80,240.93 621.10,241.65 621.40,240.19 621.70,242.24 622.00,240.39 622.30,240.84 622.60,240.29 622.90,240.33 623.20,240.78 623.50,241.99 623.80,240.48 624.10,240.61 624.40,241.01 624.70,240.44 625.00,240.79 625.30,241.27 625.60,239.96 625.90,240.78 626.20,240.79 626.50,240.69 626.80,240.87 627.10,240.11 627.40,240.74 627.70,240.69 628.00,240.49 628.30,241.50 628.60,241.81 628.90,241.30 629.20,240.57 629.50,241.59 629.80,241.17 630.10,240.59 630.40,241.22 630.70,240.70 631.00,241.21 631.30,241.38 631.60,241.47 631.90,240.50 632.20,240.92 632.50,240.98 632.80,240.45 633.10,241.17 633.40,241.29 633.70,240.37 634.00,240.75 634.30,240.50 634.60,240.45 634.90,240.52 635.20,241.60 635.50,240.71 635.80,240.84 636.10,241.46 636.40,241.47 636.70,241.65 637.00,240.12 637.30,241.37 637.60,240.26 637.90,240.75 638.20,240.86 638.50,240.78 638.80,241.90 639.10,240.97 639.40,241.56 639.70,240.97 640.00,241.03 640.30,241.29 640.60,241.25 640.90,241.29 641.20,240.31 641.50,241.30 641.80,241.21 642.10,241.35 642.40,241.06 642.70,241.27 643.00,240.52 643.30,241.60 643.60,240.56 643.90,241.72 644.20,241.54 644.50,241.07 644.80,240.97 645.10,241.46 645.40,240.98 645.70,240.58 646.00,241.24 646.30,240.57 646.60,240.92 646.90,241.93 647.20,241.48 647.50,240.93 647.80,241.10 648.10,240.84 648.40,241.13 648.70,240.49 649.00,241.44 649.30,241.15 649.60,240.88 649.90,240.88 650.20,242.31 650.50,240.96 650.80,240.95 651.10,240.90 651.40,240.95 651.70,241.76 652.00,241.47 652.30,241.37 652.60,241.34 652.90,240.67 653.20,240.13 653.50,241.87 653.80,241.51 654.10,241.29 654.40,241.32 654.70,241.29 655.00,241.21 655.30,241.09 655.60,240.24 655.90,241.47 656.20,241.24 656.50,241.66 656.80,241.36 657.10,241.10 657.40,241.49 657.70,241.32 658.00,241.04 658.30,241.07 658.60,241.06 658.90,241.11 659.20,241.05 659.50,241.69 659.80,242.53 660.10,241.21 660.40,241.75 660.70,240.38 661.00,239.85 661.30,241.06 661.60,241.21 661.90,240.94 662.20,240.68 662.50,240.90 662.80,241.06 663.10,241.36 663.40,241.14 663.70,240.76 664.00,241.14 664.30,241.98 664.60,240.92 664.90,241.34 665.20,241.75 665.50,240.95 665.80,241.07 666.10,242.62 666.40,241.87 666.70,241.09 667.00,241.40 667.30,241.38 667.60,241.40 667.90,241.55 668.20,241.21 668.50,240.35 668.80,240.93 669.10,241.42 669.40,240.76 669.70,241.21 670.00,242.02 670.30,241.47 670.60,241.08 670.90,241.44 671.20,241.84 671.50,240.61 671.80,240.84 672.10,241.09 672.40,241.20 672.70,241.35 673.00,241.14 673.30,241.45 673.60,241.44 673.90,240.88 674.20,241.14 674.50,240.86 674.80,241.54 675.10,241.54 675.40,241.71 675.70,241.03 676.00,241.20 676.30,240.44 676.60,241.44 676.90,240.71 677.20,241.60 677.50,241.93 677.80,241.65 678.10,241.74 678.40,241.56 678.70,241.63 679.00,241.87 679.30,242.04 679.60,242.35 679.90,241.36 680.20,241.84 680.50,241.87 680.80,241.67 681.10,241.61 681.40,240.94 681.70,241.99 682.00,241.11"/>
<rect x="364.70" y="2.80" width="317.40" height="256.00" fill="none" stroke="#505050" stroke-width="1.50"/>
<line x1="385.50" y1="258.80" x2="385.50" y2="261.60" stroke="#505050" stroke-width="1.40"/>
<line x1="422.60" y1="258.80" x2="422.60" y2="264.40" stroke="#505050" stroke-width="1.40"/>
<text transform="translate(422.60,276.60) scale(1.000,1)" font-size="10.50" text-anchor="middle" fill="#333333" >10</text>
<line x1="459.70" y1="258.80" x2="459.70" y2="261.60" stroke="#505050" stroke-width="1.40"/>
<line x1="496.80" y1="258.80" x2="496.80" y2="264.40" stroke="#505050" stroke-width="1.40"/>
<text transform="translate(496.80,276.60) scale(1.000,1)" font-size="10.50" text-anchor="middle" fill="#333333" >20</text>
<line x1="533.90" y1="258.80" x2="533.90" y2="261.60" stroke="#505050" stroke-width="1.40"/>
<line x1="571.00" y1="258.80" x2="571.00" y2="264.40" stroke="#505050" stroke-width="1.40"/>
<text transform="translate(571.00,276.60) scale(1.000,1)" font-size="10.50" text-anchor="middle" fill="#333333" >30</text>
<line x1="608.10" y1="258.80" x2="608.10" y2="261.60" stroke="#505050" stroke-width="1.40"/>
<line x1="645.20" y1="258.80" x2="645.20" y2="264.40" stroke="#505050" stroke-width="1.40"/>
<text transform="translate(645.20,276.60) scale(1.000,1)" font-size="10.50" text-anchor="middle" fill="#333333" >40</text>
<line x1="682.10" y1="258.80" x2="682.10" y2="261.60" stroke="#505050" stroke-width="1.40"/>
<text transform="translate(523.40,294.00) scale(1.060,1)" font-size="12.60" text-anchor="middle" fill="#333333" >2θ (degree, in n-octane)</text>
<text transform="translate(352.00,129.90) rotate(-90) scale(1.000,1)" font-size="13.50" text-anchor="middle" fill="#333333" >Intensity</text>
<text transform="translate(376.50,28.90) scale(1.080,1)" font-size="22.00" text-anchor="start" fill="#333333" >b)</text>
<line x1="596.00" y1="11.10" x2="623.90" y2="11.10" stroke="#ff1010" stroke-width="1.30"/>
<text transform="translate(626.3,15.20) scale(1.04,1)" font-size="11.4" fill="#333333"><tspan font-style="italic">L</tspan>-PheN<tspan font-size="7.8" dy="3.3">6</tspan></text>
<line x1="596.00" y1="28.60" x2="623.90" y2="28.60" stroke="#1010ff" stroke-width="1.30"/>
<text transform="translate(626.3,32.70) scale(1.04,1)" font-size="11.4" fill="#333333"><tspan font-style="italic">L</tspan>-PheN<tspan font-size="7.8" dy="3.3">8</tspan></text>
<line x1="596.00" y1="46.10" x2="623.90" y2="46.10" stroke="#ff30ff" stroke-width="1.30"/>
<text transform="translate(626.3,50.20) scale(1.04,1)" font-size="11.4" fill="#333333"><tspan font-style="italic">L</tspan>-PheN<tspan font-size="7.8" dy="3.3">10</tspan></text>
<line x1="596.00" y1="63.60" x2="623.90" y2="63.60" stroke="#2ea02e" stroke-width="1.30"/>
<text transform="translate(626.3,67.70) scale(1.04,1)" font-size="11.4" fill="#333333"><tspan font-style="italic">L</tspan>-PheN<tspan font-size="7.8" dy="3.3">12</tspan></text>
<line x1="596.00" y1="81.10" x2="623.90" y2="81.10" stroke="#ee9530" stroke-width="1.30"/>
<text transform="translate(626.3,85.20) scale(1.04,1)" font-size="11.4" fill="#333333"><tspan font-style="italic">L</tspan>-PheN<tspan font-size="7.8" dy="3.3">14</tspan></text>
<line x1="596.00" y1="98.60" x2="623.90" y2="98.60" stroke="#a030f0" stroke-width="1.30"/>
<text transform="translate(626.3,102.70) scale(1.04,1)" font-size="11.4" fill="#333333"><tspan font-style="italic">L</tspan>-PheN<tspan font-size="7.8" dy="3.3">16</tspan></text>
<text transform="translate(407.10,56.82) scale(1.040,1)" font-size="11.50" text-anchor="start" fill="#333333" >5.97°</text>
<line x1="395.40" y1="63.60" x2="407.10" y2="59.10" stroke="#666" stroke-width="0.80"/>
<text transform="translate(493.40,95.17) scale(1.000,1)" font-size="10.80" text-anchor="start" fill="#333333" >19.62°</text>
<line x1="497.90" y1="98.60" x2="508.90" y2="96.50" stroke="#666" stroke-width="0.80"/>
<text transform="translate(403.40,122.92) scale(1.040,1)" font-size="11.50" text-anchor="start" fill="#333333" >5.36°</text>
<line x1="391.30" y1="107.70" x2="403.50" y2="112.50" stroke="#666" stroke-width="0.80"/>
<text transform="translate(509.00,126.17) scale(1.000,1)" font-size="10.80" text-anchor="start" fill="#333333" >19.72°</text>
<line x1="500.10" y1="122.20" x2="509.30" y2="122.20" stroke="#666" stroke-width="0.80"/>
<text transform="translate(403.20,152.92) scale(1.040,1)" font-size="11.50" text-anchor="start" fill="#333333" >4.92°</text>
<line x1="387.50" y1="133.30" x2="403.50" y2="142.50" stroke="#666" stroke-width="0.80"/>
<text transform="translate(500.00,154.47) scale(1.000,1)" font-size="10.80" text-anchor="start" fill="#333333" >19.58°</text>
<line x1="494.60" y1="159.90" x2="500.10" y2="157.00" stroke="#666" stroke-width="0.80"/>
<text transform="translate(398.10,179.62) scale(1.040,1)" font-size="11.50" text-anchor="start" fill="#333333" >4.38°</text>
<line x1="383.30" y1="161.70" x2="398.70" y2="169.40" stroke="#666" stroke-width="0.80"/>
<text transform="translate(505.90,179.87) scale(1.000,1)" font-size="10.80" text-anchor="start" fill="#333333" >19.68°</text>
<line x1="496.80" y1="180.50" x2="506.20" y2="176.70" stroke="#666" stroke-width="0.80"/>
<text transform="translate(376.30,208.72) scale(1.040,1)" font-size="11.50" text-anchor="start" fill="#333333" >3.84°</text>
<line x1="378.60" y1="217.30" x2="391.30" y2="212.20" stroke="#666" stroke-width="0.80"/>
<text transform="translate(513.10,202.47) scale(1.000,1)" font-size="10.80" text-anchor="start" fill="#333333" >19.98°</text>
<line x1="499.00" y1="195.40" x2="513.20" y2="197.60" stroke="#666" stroke-width="0.80"/>
<text transform="translate(388.60,235.02) scale(1.040,1)" font-size="11.50" text-anchor="start" fill="#333333" >3.6°</text>
<line x1="377.50" y1="233.80" x2="388.50" y2="231.30" stroke="#666" stroke-width="0.80"/>
<text transform="translate(496.30,223.07) scale(1.000,1)" font-size="10.80" text-anchor="start" fill="#333333" >19.34°</text>
<line x1="492.30" y1="222.20" x2="496.80" y2="220.50" stroke="#666" stroke-width="0.80"/>
<rect x="43.30" y="479.01" width="19.90" height="71.39" fill="#f0842c"/>
<rect x="63.20" y="478.10" width="19.90" height="72.30" fill="#5fca50"/>
<rect x="93.20" y="468.01" width="19.90" height="82.39" fill="#f0842c"/>
<rect x="113.10" y="463.12" width="19.90" height="87.28" fill="#5fca50"/>
<rect x="143.10" y="450.74" width="19.90" height="99.66" fill="#f0842c"/>
<rect x="163.00" y="447.48" width="19.90" height="102.92" fill="#5fca50"/>
<rect x="193.00" y="429.00" width="19.90" height="121.40" fill="#f0842c"/>
<rect x="212.90" y="422.35" width="19.90" height="128.05" fill="#5fca50"/>
<rect x="242.90" y="418.12" width="19.90" height="132.28" fill="#f0842c"/>
<rect x="262.80" y="415.71" width="19.90" height="134.69" fill="#5fca50"/>
<rect x="292.80" y="407.01" width="19.90" height="143.39" fill="#f0842c"/>
<rect x="312.70" y="360.50" width="19.90" height="189.90" fill="#5fca50"/>
<rect x="38.00" y="308.90" width="299.50" height="241.50" fill="none" stroke="#505050" stroke-width="1.50"/>
<line x1="33.00" y1="550.40" x2="38.00" y2="550.40" stroke="#505050" stroke-width="1.40"/>
<text transform="translate(30.30,553.40) scale(1.000,1)" font-size="10.30" text-anchor="end" fill="#333333" >0.0</text>
<line x1="35.40" y1="535.30" x2="38.00" y2="535.30" stroke="#505050" stroke-width="1.40"/>
<line x1="33.00" y1="520.20" x2="38.00" y2="520.20" stroke="#505050" stroke-width="1.40"/>
<text transform="translate(30.30,523.20) scale(1.000,1)" font-size="10.30" text-anchor="end" fill="#333333" >0.5</text>
<line x1="35.40" y1="505.10" x2="38.00" y2="505.10" stroke="#505050" stroke-width="1.40"/>
<line x1="33.00" y1="490.00" x2="38.00" y2="490.00" stroke="#505050" stroke-width="1.40"/>
<text transform="translate(30.30,493.00) scale(1.000,1)" font-size="10.30" text-anchor="end" fill="#333333" >1.0</text>
<line x1="35.40" y1="474.90" x2="38.00" y2="474.90" stroke="#505050" stroke-width="1.40"/>
<line x1="33.00" y1="459.80" x2="38.00" y2="459.80" stroke="#505050" stroke-width="1.40"/>
<text transform="translate(30.30,462.80) scale(1.000,1)" font-size="10.30" text-anchor="end" fill="#333333" >1.5</text>
<line x1="35.40" y1="444.70" x2="38.00" y2="444.70" stroke="#505050" stroke-width="1.40"/>
<line x1="33.00" y1="429.60" x2="38.00" y2="429.60" stroke="#505050" stroke-width="1.40"/>
<text transform="translate(30.30,432.60) scale(1.000,1)" font-size="10.30" text-anchor="end" fill="#333333" >2.0</text>
<line x1="35.40" y1="414.50" x2="38.00" y2="414.50" stroke="#505050" stroke-width="1.40"/>
<line x1="33.00" y1="399.40" x2="38.00" y2="399.40" stroke="#505050" stroke-width="1.40"/>
<text transform="translate(30.30,402.40) scale(1.000,1)" font-size="10.30" text-anchor="end" fill="#333333" >2.5</text>
<line x1="35.40" y1="384.30" x2="38.00" y2="384.30" stroke="#505050" stroke-width="1.40"/>
<line x1="33.00" y1="369.20" x2="38.00" y2="369.20" stroke="#505050" stroke-width="1.40"/>
<text transform="translate(30.30,372.20) scale(1.000,1)" font-size="10.30" text-anchor="end" fill="#333333" >3.0</text>
<line x1="35.40" y1="354.10" x2="38.00" y2="354.10" stroke="#505050" stroke-width="1.40"/>
<line x1="33.00" y1="339.00" x2="38.00" y2="339.00" stroke="#505050" stroke-width="1.40"/>
<text transform="translate(30.30,342.00) scale(1.000,1)" font-size="10.30" text-anchor="end" fill="#333333" >3.5</text>
<line x1="35.40" y1="323.90" x2="38.00" y2="323.90" stroke="#505050" stroke-width="1.40"/>
<line x1="33.00" y1="308.80" x2="38.00" y2="308.80" stroke="#505050" stroke-width="1.40"/>
<text transform="translate(30.30,311.80) scale(1.000,1)" font-size="10.30" text-anchor="end" fill="#333333" >4.0</text>
<line x1="63.20" y1="550.40" x2="63.20" y2="555.40" stroke="#505050" stroke-width="1.40"/>
<text transform="translate(63.20,565.90) scale(1.000,1)" font-size="10.30" text-anchor="middle" fill="#333333" >6</text>
<line x1="88.15" y1="550.40" x2="88.15" y2="553.00" stroke="#505050" stroke-width="1.40"/>
<line x1="113.10" y1="550.40" x2="113.10" y2="555.40" stroke="#505050" stroke-width="1.40"/>
<text transform="translate(113.10,565.90) scale(1.000,1)" font-size="10.30" text-anchor="middle" fill="#333333" >8</text>
<line x1="138.05" y1="550.40" x2="138.05" y2="553.00" stroke="#505050" stroke-width="1.40"/>
<line x1="163.00" y1="550.40" x2="163.00" y2="555.40" stroke="#505050" stroke-width="1.40"/>
<text transform="translate(163.00,565.90) scale(1.000,1)" font-size="10.30" text-anchor="middle" fill="#333333" >10</text>
<line x1="187.95" y1="550.40" x2="187.95" y2="553.00" stroke="#505050" stroke-width="1.40"/>
<line x1="212.90" y1="550.40" x2="212.90" y2="555.40" stroke="#505050" stroke-width="1.40"/>
<text transform="translate(212.90,565.90) scale(1.000,1)" font-size="10.30" text-anchor="middle" fill="#333333" >12</text>
<line x1="237.85" y1="550.40" x2="237.85" y2="553.00" stroke="#505050" stroke-width="1.40"/>
<line x1="262.80" y1="550.40" x2="262.80" y2="555.40" stroke="#505050" stroke-width="1.40"/>
<text transform="translate(262.80,565.90) scale(1.000,1)" font-size="10.30" text-anchor="middle" fill="#333333" >14</text>
<line x1="287.75" y1="550.40" x2="287.75" y2="553.00" stroke="#505050" stroke-width="1.40"/>
<line x1="312.70" y1="550.40" x2="312.70" y2="555.40" stroke="#505050" stroke-width="1.40"/>
<text transform="translate(312.70,565.90) scale(1.000,1)" font-size="10.30" text-anchor="middle" fill="#333333" >16</text>
<text transform="translate(187.75,587.00) scale(1.05,1)" font-size="12" text-anchor="middle" fill="#333333">n (<tspan font-style="italic">L</tspan>-PheO<tspan font-size="8.5" dy="3">n</tspan><tspan dy="-3">)</tspan></text>
<text transform="translate(10.80,429.20) rotate(-90) scale(1.000,1)" font-size="12.40" text-anchor="middle" fill="#333333" >length (nm)</text>
<text transform="translate(303.00,334.60) scale(1.100,1)" font-size="22.00" text-anchor="start" fill="#333333" >c)</text>
<rect x="48.80" y="316.30" width="93.60" height="32.80" fill="#fff" stroke="#9a9a9a" stroke-width="1" rx="1"/>
<rect x="50.80" y="318.00" width="28.10" height="13.90" fill="#f0842c"/>
<rect x="50.80" y="333.60" width="28.10" height="13.60" fill="#5fca50"/>
<text transform="translate(82.20,329.60) scale(1.030,1)" font-size="12.00" text-anchor="start" fill="#333333" >theoretical</text>
<text transform="translate(82.20,344.20) scale(1.030,1)" font-size="12.00" text-anchor="start" fill="#333333" >d of XRD</text>
<rect x="387.80" y="461.32" width="19.90" height="89.48" fill="#f0842c"/>
<rect x="407.70" y="456.88" width="19.90" height="93.92" fill="#5fca50"/>
<rect x="437.70" y="449.58" width="19.90" height="101.22" fill="#f0842c"/>
<rect x="457.60" y="446.28" width="19.90" height="104.52" fill="#5fca50"/>
<rect x="487.60" y="439.30" width="19.90" height="111.50" fill="#f0842c"/>
<rect x="507.50" y="436.32" width="19.90" height="114.48" fill="#5fca50"/>
<rect x="537.50" y="428.58" width="19.90" height="122.22" fill="#f0842c"/>
<rect x="557.40" y="422.99" width="19.90" height="127.81" fill="#5fca50"/>
<rect x="587.40" y="413.41" width="19.90" height="137.39" fill="#f0842c"/>
<rect x="607.30" y="404.08" width="19.90" height="146.72" fill="#5fca50"/>
<rect x="637.30" y="396.97" width="19.90" height="153.83" fill="#f0842c"/>
<rect x="657.20" y="395.20" width="19.90" height="155.60" fill="#5fca50"/>
<rect x="382.80" y="309.70" width="299.20" height="241.10" fill="none" stroke="#505050" stroke-width="1.50"/>
<line x1="377.80" y1="550.80" x2="382.80" y2="550.80" stroke="#505050" stroke-width="1.40"/>
<text transform="translate(375.00,553.80) scale(1.000,1)" font-size="10.30" text-anchor="end" fill="#333333" >0.0</text>
<line x1="380.20" y1="534.93" x2="382.80" y2="534.93" stroke="#505050" stroke-width="1.40"/>
<line x1="377.80" y1="519.07" x2="382.80" y2="519.07" stroke="#505050" stroke-width="1.40"/>
<text transform="translate(375.00,522.07) scale(1.000,1)" font-size="10.30" text-anchor="end" fill="#333333" >0.5</text>
<line x1="380.20" y1="503.20" x2="382.80" y2="503.20" stroke="#505050" stroke-width="1.40"/>
<line x1="377.80" y1="487.34" x2="382.80" y2="487.34" stroke="#505050" stroke-width="1.40"/>
<text transform="translate(375.00,490.34) scale(1.000,1)" font-size="10.30" text-anchor="end" fill="#333333" >1.0</text>
<line x1="380.20" y1="471.47" x2="382.80" y2="471.47" stroke="#505050" stroke-width="1.40"/>
<line x1="377.80" y1="455.61" x2="382.80" y2="455.61" stroke="#505050" stroke-width="1.40"/>
<text transform="translate(375.00,458.61) scale(1.000,1)" font-size="10.30" text-anchor="end" fill="#333333" >1.5</text>
<line x1="380.20" y1="439.74" x2="382.80" y2="439.74" stroke="#505050" stroke-width="1.40"/>
<line x1="377.80" y1="423.88" x2="382.80" y2="423.88" stroke="#505050" stroke-width="1.40"/>
<text transform="translate(375.00,426.88) scale(1.000,1)" font-size="10.30" text-anchor="end" fill="#333333" >2.0</text>
<line x1="380.20" y1="408.01" x2="382.80" y2="408.01" stroke="#505050" stroke-width="1.40"/>
<line x1="377.80" y1="392.15" x2="382.80" y2="392.15" stroke="#505050" stroke-width="1.40"/>
<text transform="translate(375.00,395.15) scale(1.000,1)" font-size="10.30" text-anchor="end" fill="#333333" >2.5</text>
<line x1="380.20" y1="376.28" x2="382.80" y2="376.28" stroke="#505050" stroke-width="1.40"/>
<line x1="377.80" y1="360.42" x2="382.80" y2="360.42" stroke="#505050" stroke-width="1.40"/>
<text transform="translate(375.00,363.42) scale(1.000,1)" font-size="10.30" text-anchor="end" fill="#333333" >3.0</text>
<line x1="380.20" y1="344.55" x2="382.80" y2="344.55" stroke="#505050" stroke-width="1.40"/>
<line x1="377.80" y1="328.69" x2="382.80" y2="328.69" stroke="#505050" stroke-width="1.40"/>
<text transform="translate(375.00,331.69) scale(1.000,1)" font-size="10.30" text-anchor="end" fill="#333333" >3.5</text>
<line x1="380.20" y1="312.82" x2="382.80" y2="312.82" stroke="#505050" stroke-width="1.40"/>
<line x1="407.70" y1="550.80" x2="407.70" y2="555.80" stroke="#505050" stroke-width="1.40"/>
<text transform="translate(407.70,566.30) scale(1.000,1)" font-size="10.30" text-anchor="middle" fill="#333333" >6</text>
<line x1="432.65" y1="550.80" x2="432.65" y2="553.40" stroke="#505050" stroke-width="1.40"/>
<line x1="457.60" y1="550.80" x2="457.60" y2="555.80" stroke="#505050" stroke-width="1.40"/>
<text transform="translate(457.60,566.30) scale(1.000,1)" font-size="10.30" text-anchor="middle" fill="#333333" >8</text>
<line x1="482.55" y1="550.80" x2="482.55" y2="553.40" stroke="#505050" stroke-width="1.40"/>
<line x1="507.50" y1="550.80" x2="507.50" y2="555.80" stroke="#505050" stroke-width="1.40"/>
<text transform="translate(507.50,566.30) scale(1.000,1)" font-size="10.30" text-anchor="middle" fill="#333333" >10</text>
<line x1="532.45" y1="550.80" x2="532.45" y2="553.40" stroke="#505050" stroke-width="1.40"/>
<line x1="557.40" y1="550.80" x2="557.40" y2="555.80" stroke="#505050" stroke-width="1.40"/>
<text transform="translate(557.40,566.30) scale(1.000,1)" font-size="10.30" text-anchor="middle" fill="#333333" >12</text>
<line x1="582.35" y1="550.80" x2="582.35" y2="553.40" stroke="#505050" stroke-width="1.40"/>
<line x1="607.30" y1="550.80" x2="607.30" y2="555.80" stroke="#505050" stroke-width="1.40"/>
<text transform="translate(607.30,566.30) scale(1.000,1)" font-size="10.30" text-anchor="middle" fill="#333333" >14</text>
<line x1="632.25" y1="550.80" x2="632.25" y2="553.40" stroke="#505050" stroke-width="1.40"/>
<line x1="657.20" y1="550.80" x2="657.20" y2="555.80" stroke="#505050" stroke-width="1.40"/>
<text transform="translate(657.20,566.30) scale(1.000,1)" font-size="10.30" text-anchor="middle" fill="#333333" >16</text>
<text transform="translate(532.40,587.00) scale(1.05,1)" font-size="12" text-anchor="middle" fill="#333333">n (<tspan font-style="italic">L</tspan>-PheN<tspan font-size="8.5" dy="3">n</tspan><tspan dy="-3">)</tspan></text>
<text transform="translate(355.00,429.90) rotate(-90) scale(1.000,1)" font-size="12.40" text-anchor="middle" fill="#333333" >length (nm)</text>
<text transform="translate(653.30,340.20) scale(1.070,1)" font-size="22.00" text-anchor="start" fill="#333333" >d)</text>
<rect x="393.40" y="316.80" width="93.20" height="32.60" fill="#fff" stroke="#9a9a9a" stroke-width="1" rx="1"/>
<rect x="395.40" y="318.80" width="27.90" height="13.10" fill="#f0842c"/>
<rect x="395.40" y="334.10" width="27.90" height="13.10" fill="#5fca50"/>
<text transform="translate(426.80,330.20) scale(1.030,1)" font-size="12.00" text-anchor="start" fill="#333333" >theoretical</text>
<text transform="translate(426.80,344.90) scale(1.030,1)" font-size="12.00" text-anchor="start" fill="#333333" >d of XRD</text>
</svg></body></html>
